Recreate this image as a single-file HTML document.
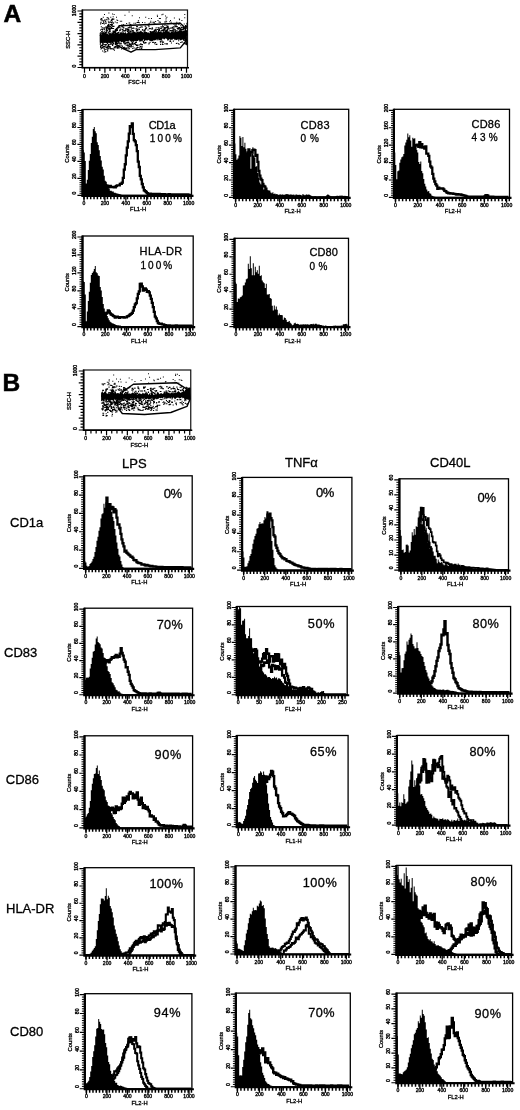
<!DOCTYPE html>
<html lang="en">
<head>
<meta charset="utf-8">
<title>Figure</title>
<style>
html,body{margin:0;padding:0;background:#fff;}
body{width:520px;height:1110px;overflow:hidden;font-family:"Liberation Sans",sans-serif;}
svg{display:block;filter:blur(0.35px);}
svg text{font-family:"Liberation Sans",sans-serif;fill:#000;stroke:#000;stroke-width:0.25px;}
.t{font-size:5.1px;text-anchor:middle;stroke-width:0.35px;}
.u{font-size:5.8px;text-anchor:middle;stroke-width:0.3px;}
.l{text-anchor:start;stroke-width:0.3px;}
</style>
</head>
<body>
<svg width="520" height="1110" viewBox="0 0 520 1110">
<rect width="520" height="1110" fill="#fff"/>
<rect x="82.5" y="10" width="105" height="57.5" fill="#fff" stroke="#111" stroke-width="1.2"/>
<path d="M82.3 9.5V67.8H189" fill="none" stroke="#000" stroke-width="1.6"/>
<path d="M84.5 67.5v5.2M89.6 67.5v3.6M94.7 67.5v3.6M99.8 67.5v3.6M104.9 67.5v5.2M110 67.5v3.6M115.1 67.5v3.6M120.2 67.5v3.6M125.3 67.5v5.2M130.4 67.5v3.6M135.5 67.5v3.6M140.6 67.5v3.6M145.7 67.5v5.2M150.8 67.5v3.6M155.9 67.5v3.6M161 67.5v3.6M166.1 67.5v5.2M171.2 67.5v3.6M176.3 67.5v3.6M181.4 67.5v3.6M186.5 67.5v5.2M82.5 67.5h-5M82.5 64.67h-3.2M82.5 61.85h-3.2M82.5 59.02h-3.2M82.5 56.2h-5M82.5 53.38h-3.2M82.5 50.55h-3.2M82.5 47.73h-3.2M82.5 44.9h-5M82.5 42.08h-3.2M82.5 39.25h-3.2M82.5 36.42h-3.2M82.5 33.6h-5M82.5 30.77h-3.2M82.5 27.95h-3.2M82.5 25.12h-3.2M82.5 22.3h-5M82.5 19.48h-3.2M82.5 16.65h-3.2M82.5 13.83h-3.2M82.5 11h-5" stroke="#000" stroke-width="1.2" fill="none"/>
<text x="84.5" y="77.7" class="t">0</text>
<text x="104.9" y="77.7" class="t">200</text>
<text x="125.3" y="77.7" class="t">400</text>
<text x="145.7" y="77.7" class="t">600</text>
<text x="166.1" y="77.7" class="t">800</text>
<text x="186.5" y="77.7" class="t">1000</text>
<text x="137" y="84.1" class="u">FSC-H</text>
<text transform="translate(75.5 66) rotate(-90)" class="t">0</text>
<text transform="translate(75.5 10.5) rotate(-90)" class="t">1000</text>
<text transform="translate(69.7 39.75) rotate(-90)" class="u">SSC-H</text>
<clipPath id="s101"><rect x="83.5" y="11" width="104" height="55.5"/></clipPath>
<g clip-path="url(#s101)">
<path d="M99.7 32.8L100.5 32.95L101.3 34.71L102.1 32.79L102.9 32.11L103.7 33.31L104.5 33.18L105.3 33.54L106.1 32.78L106.9 34.06L107.7 33.43L108.5 34.78L109.3 33.36L110.1 33.12L110.9 33.92L111.7 33.52L112.5 32.34L113.3 33.43L114.1 32.37L114.9 33.69L115.7 32.4L116.5 33.05L117.3 32.22L118.1 33L118.9 33.74L119.7 33.56L120.5 32.27L121.3 31.76L122.1 33.2L122.9 32.2L123.7 32.13L124.5 33.15L125.3 31.78L126.1 33.21L126.9 33.39L127.7 32.63L128.5 31.96L129.3 32.43L130.1 33.64L130.9 32.7L131.7 33.43L132.5 32.57L133.3 32.61L134.1 32.65L134.9 32.59L135.7 32.7L136.5 33.08L137.3 33.31L138.1 32.34L138.9 31.76L139.7 31.95L140.5 31.73L141.3 30.93L142.1 32.35L142.9 31.78L143.7 33.59L144.5 31.87L145.3 31.24L146.1 32.5L146.9 32.19L147.7 32.79L148.5 32.26L149.3 33.45L150.1 31.6L150.9 32.24L151.7 31.73L152.5 31.67L153.3 30.81L154.1 32.4L154.9 30.77L155.7 32.18L156.5 32.21L157.3 32.15L158.1 30.72L158.9 32.39L159.7 31.29L160.5 32.04L161.3 31.47L162.1 33.09L162.9 31.28L163.7 31.5L164.5 31.84L165.3 30.57L166.1 31.24L166.9 31.39L167.7 31.7L168.5 31.24L169.3 32.73L170.1 32.81L170.9 32.28L171.7 31.36L172.5 31.81L173.3 32.81L174.1 32.55L174.9 31.75L175.7 30.86L176.5 32.03L177.3 31.74L178.1 31.22L178.9 31.03L179.7 30.15L180.5 30.03L181.3 30.14L182.1 31.22L182.9 31.14L183.7 30.45L184.5 30.76L185.3 31.9L186.1 30.03L186.9 30.54L186.9 40.72L186.1 40.4L185.3 40.18L184.5 38.92L183.7 40.72L182.9 39.7L182.1 39.55L181.3 40.19L180.5 40.44L179.7 39.4L178.9 39.78L178.1 39.76L177.3 39.57L176.5 40.31L175.7 39.56L174.9 40.55L174.1 38.89L173.3 38.75L172.5 39.73L171.7 39.76L170.9 39.64L170.1 39.23L169.3 39.08L168.5 40.36L167.7 41L166.9 38.79L166.1 38.7L165.3 38.23L164.5 39.59L163.7 39.17L162.9 38.19L162.1 39.42L161.3 40.59L160.5 40.17L159.7 39.96L158.9 39.76L158.1 38.69L157.3 39.26L156.5 39.15L155.7 40L154.9 40.55L154.1 40.36L153.3 40.54L152.5 40.72L151.7 41.57L150.9 40.65L150.1 40.95L149.3 40.43L148.5 39.82L147.7 40.4L146.9 40.22L146.1 40.61L145.3 40.1L144.5 40.94L143.7 39L142.9 40.14L142.1 41.88L141.3 40.83L140.5 41.38L139.7 42.01L138.9 39.68L138.1 41.07L137.3 40.88L136.5 40.89L135.7 41.39L134.9 40.73L134.1 41.56L133.3 42.02L132.5 41.23L131.7 43L130.9 40.7L130.1 41.63L129.3 39.89L128.5 41.17L127.7 41.16L126.9 41.4L126.1 40.97L125.3 41.72L124.5 42.48L123.7 43.94L122.9 42.08L122.1 41.87L121.3 42.28L120.5 41.31L119.7 41.54L118.9 42.05L118.1 43.09L117.3 41.74L116.5 42.85L115.7 42.88L114.9 41.55L114.1 41.87L113.3 41.74L112.5 42.13L111.7 41.5L110.9 41.9L110.1 43.02L109.3 41.96L108.5 42.95L107.7 43L106.9 42.73L106.1 42.95L105.3 42.78L104.5 43.11L103.7 42.23L102.9 43.25L102.1 43.75L101.3 42.5L100.5 44.19L99.7 41.97Z" fill="#000"/>
<path d="M179.07 19.24h1v1h-1zM128.6 11.51h1v1h-1zM102.79 16.69h1v1h-1zM140.37 25.43h1v1h-1zM117.23 20.12h1v1h-1zM137.76 20.56h1v1h-1zM179.61 23.02h1v1h-1zM165.03 15.41h1v1h-1zM116.41 19.39h1v1h-1zM145.21 16.75h1v1h-1zM102.88 20.31h1v1h-1zM150.97 17.95h1v1h-1zM156.95 16.01h1v1h-1zM131.76 15.19h1v1h-1zM168.13 23.11h1v1h-1zM184.25 17.33h1v1h-1zM173.09 23.49h1v1h-1zM107.87 20.63h1v1h-1zM156.87 14.66h1v1h-1zM103.84 23.54h1v1h-1zM181.4 20.05h1v1h-1zM100.22 19.29h1v1h-1zM110.79 25.05h1v1h-1zM178.84 18.47h1v1h-1zM116.03 16.82h1v1h-1zM162.52 13.73h1v1h-1zM123.19 24.08h1v1h-1zM158.85 18.06h1v1h-1zM124.47 14.69h1v1h-1zM144.4 22.24h1v1h-1zM141.96 21.93h1v1h-1zM173.87 17.38h1v1h-1zM104.02 14.04h1v1h-1zM100.92 18.04h1v1h-1zM159.88 17.99h1v1h-1zM153.6 23.37h1v1h-1zM111.73 21.24h1v1h-1zM111.73 18.17h1v1h-1zM138.07 20.36h1v1h-1zM165.49 19.58h1v1h-1zM108.39 12.56h1v1h-1zM139.03 17.29h1v1h-1zM170.04 19.93h1v1h-1zM106.58 17.32h1v1h-1zM167.44 23.18h1v1h-1zM161.42 14.34h1v1h-1zM143.85 24.07h1v1h-1zM165.61 17.63h1v1h-1zM178.4 23.96h1v1h-1zM150.25 20.77h1v1h-1zM101.09 18.83h1v1h-1zM145.5 24.07h1v1h-1zM148.37 18.04h1v1h-1zM175.58 23.03h1v1h-1zM184.27 14.09h1v1h-1zM107.51 17.32h1v1h-1zM112.07 13.42h1v1h-1zM110.27 16.82h1v1h-1zM112.68 16.27h1v1h-1zM112.08 19h1v1h-1zM113.64 13.95h1v1h-1zM114.73 21.59h1v1h-1zM169.31 21.17h1v1h-1zM157.5 20.1h1v1h-1zM100.61 18.19h1v1h-1zM119.81 20.67h1v1h-1zM176.26 21.75h1v1h-1zM178.28 23.3h1v1h-1zM121.16 20.83h1v1h-1zM166.45 16.86h1v1h-1zM150.7 28.52h1.76v1.1h-1.76zM133.46 27.63h1.1v1.1h-1.1zM125.55 28.06h1.1v1.1h-1.1zM185.35 27.14h1.1v1.1h-1.1zM162.38 26.08h1.1v1.1h-1.1zM146.04 31.93h1.1v1.1h-1.1zM121.72 29.21h1.76v1.1h-1.76zM118.11 26.75h1.1v1.1h-1.1zM178.77 31.78h1.1v1.1h-1.1zM176.68 26.08h1.1v1.1h-1.1zM153.97 29.61h1.76v1.1h-1.76zM135.33 32.64h1.76v1.1h-1.76zM130.79 26.59h1.1v1.1h-1.1zM117.69 32.44h1.76v1.1h-1.76zM171.92 31.63h1.1v1.1h-1.1zM179.66 28.78h1.76v1.1h-1.76zM143.96 31.73h1.76v1.1h-1.76zM174.97 31.02h1.1v1.1h-1.1zM161.11 27.67h1.1v1.1h-1.1zM114.86 29.57h1.76v1.1h-1.76zM158.39 28.23h1.1v1.1h-1.1zM127.85 29.03h1.1v1.1h-1.1zM130.85 32.6h1.76v1.1h-1.76zM155.74 29.51h1.1v1.1h-1.1zM131.82 30.11h1.1v1.1h-1.1zM104.82 31.7h1.1v1.1h-1.1zM132.86 27.61h1.1v1.1h-1.1zM115 29.86h1.1v1.1h-1.1zM145.05 28.05h1.76v1.1h-1.76zM108.71 31.12h1.1v1.1h-1.1zM160.46 26.2h1.1v1.1h-1.1zM153.34 30.82h1.76v1.1h-1.76zM124.52 30.1h1.76v1.1h-1.76zM112.48 30.84h1.76v1.1h-1.76zM168.35 27.63h1.1v1.1h-1.1zM101.78 28.67h1.1v1.1h-1.1zM120.35 28.38h1.1v1.1h-1.1zM106.24 30.91h1.1v1.1h-1.1zM106.84 29.88h1.1v1.1h-1.1zM130.13 31.28h1.1v1.1h-1.1zM161.4 29.81h1.1v1.1h-1.1zM155.23 28.87h1.1v1.1h-1.1zM129.76 26.71h1.1v1.1h-1.1zM133.71 32.83h1.76v1.1h-1.76zM136.17 30.14h1.1v1.1h-1.1zM126.66 29.38h1.76v1.1h-1.76zM106.2 27.43h1.1v1.1h-1.1zM119.48 27.15h1.1v1.1h-1.1zM145.42 27.16h1.76v1.1h-1.76zM151.73 27.36h1.1v1.1h-1.1zM171.3 32.91h1.1v1.1h-1.1zM106.35 27.15h1.1v1.1h-1.1zM129.19 33.06h1.1v1.1h-1.1zM107.25 27.44h1.76v1.1h-1.76zM153.82 31.12h1.1v1.1h-1.1zM103.3 32.74h1.76v1.1h-1.76zM115.8 32.95h1.76v1.1h-1.76zM156.89 28.92h1.76v1.1h-1.76zM114.56 30.77h1.76v1.1h-1.76zM173.1 26.32h1.76v1.1h-1.76zM117.65 27.4h1.1v1.1h-1.1zM163.77 27.09h1.1v1.1h-1.1zM133.09 31.91h1.76v1.1h-1.76zM128.74 29.6h1.1v1.1h-1.1zM166.89 29.7h1.1v1.1h-1.1zM112.8 30.69h1.76v1.1h-1.76zM158.42 32.14h1.76v1.1h-1.76zM165.28 29.79h1.76v1.1h-1.76zM139.71 26.89h1.1v1.1h-1.1zM158.51 27.32h1.1v1.1h-1.1zM161.42 26.4h1.76v1.1h-1.76zM155.82 31.15h1.1v1.1h-1.1zM126.94 28.4h1.1v1.1h-1.1zM106.96 26.35h1.1v1.1h-1.1zM153.41 30.61h1.1v1.1h-1.1zM174.21 29.22h1.76v1.1h-1.76zM174.45 31.52h1.1v1.1h-1.1zM127.64 27.28h1.76v1.1h-1.76zM168.66 32.19h1.1v1.1h-1.1zM152.43 31.75h1.1v1.1h-1.1zM110.3 26.49h1.1v1.1h-1.1zM184.92 31.16h1.76v1.1h-1.76zM168.92 32.55h1.1v1.1h-1.1zM155.41 30.51h1.1v1.1h-1.1zM178.27 26.93h1.76v1.1h-1.76zM109.38 29.14h1.1v1.1h-1.1zM166.95 26.81h1.1v1.1h-1.1zM128.6 27.11h1.1v1.1h-1.1zM171.09 30.16h1.76v1.1h-1.76zM182.92 28.31h1.1v1.1h-1.1zM115.71 29.2h1.76v1.1h-1.76zM121.75 26.26h1.76v1.1h-1.76zM171.33 27.41h1.1v1.1h-1.1zM115.73 29.45h1.76v1.1h-1.76zM177.94 28.08h1.1v1.1h-1.1zM184.9 28.55h1.1v1.1h-1.1zM136.7 28.98h1.1v1.1h-1.1zM152.06 28.44h1.1v1.1h-1.1zM182.93 27.3h1.1v1.1h-1.1zM108.76 31.44h1.76v1.1h-1.76zM160.54 30.24h1.1v1.1h-1.1zM115.31 30.67h1.1v1.1h-1.1zM121.82 31.52h1.1v1.1h-1.1zM101.44 32.04h1.1v1.1h-1.1zM180.94 29.05h1.76v1.1h-1.76zM109.25 33.05h1.1v1.1h-1.1zM140.26 31.27h1.1v1.1h-1.1zM158.05 29.87h1.76v1.1h-1.76zM159.73 31.62h1.76v1.1h-1.76zM105.52 26.76h1.1v1.1h-1.1zM162.51 30.13h1.76v1.1h-1.76zM100.05 32.37h1.1v1.1h-1.1zM121.37 26.12h1.1v1.1h-1.1zM167.33 31.66h1.1v1.1h-1.1zM105.63 29.53h1.1v1.1h-1.1zM181.44 28.97h1.1v1.1h-1.1zM183.66 27.98h1.76v1.1h-1.76zM186.11 30.6h1.76v1.1h-1.76zM177.01 30.45h1.1v1.1h-1.1zM160.09 33.09h1.1v1.1h-1.1zM183.92 30.85h1.1v1.1h-1.1zM177.51 28.64h1.1v1.1h-1.1zM144.35 31.82h1.1v1.1h-1.1zM102.01 29.11h1.1v1.1h-1.1zM182.57 28.66h1.76v1.1h-1.76zM150.61 31.17h1.1v1.1h-1.1zM111.31 32.62h1.76v1.1h-1.76zM166.74 28.21h1.76v1.1h-1.76zM169.86 30.04h1.76v1.1h-1.76zM175.23 29.95h1.1v1.1h-1.1zM165.27 29.42h1.1v1.1h-1.1zM126.62 29.74h1.1v1.1h-1.1zM147.45 29.41h1.1v1.1h-1.1zM132.59 30.45h1.1v1.1h-1.1zM165.56 32.94h1.1v1.1h-1.1zM178.47 27.93h1.1v1.1h-1.1zM132.62 29.91h1.1v1.1h-1.1zM171.97 29.72h1.76v1.1h-1.76zM149.51 30.92h1.1v1.1h-1.1zM136.84 28.64h1.76v1.1h-1.76zM144.73 28.83h1.1v1.1h-1.1zM142.2 33.19h1.76v1.1h-1.76zM162.6 29.82h1.1v1.1h-1.1zM181.02 26.84h1.1v1.1h-1.1zM179.74 27.61h1.1v1.1h-1.1zM128.21 27.43h1.1v1.1h-1.1zM164.9 27.6h1.1v1.1h-1.1zM155.13 32.95h1.1v1.1h-1.1zM176.75 27.83h1.1v1.1h-1.1zM106.11 28.59h1.1v1.1h-1.1zM149.95 31.6h1.1v1.1h-1.1zM112.53 30.59h1.1v1.1h-1.1zM173.27 29.45h1.76v1.1h-1.76zM166.57 26.97h1.76v1.1h-1.76zM103.78 27.48h1.76v1.1h-1.76zM114.64 31.06h1.76v1.1h-1.76zM185.04 29.61h1.1v1.1h-1.1zM173.24 31.64h1.1v1.1h-1.1zM155.63 27.26h1.1v1.1h-1.1zM119.15 29.58h1.76v1.1h-1.76zM155.16 29.45h1.1v1.1h-1.1zM127.67 31.62h1.76v1.1h-1.76zM173.24 30.64h1.1v1.1h-1.1zM130.01 30.53h1.76v1.1h-1.76zM122.59 30.34h1.76v1.1h-1.76zM142.18 29h1.1v1.1h-1.1zM154.99 29.22h1.1v1.1h-1.1zM180.02 31.91h1.76v1.1h-1.76zM138.83 28.9h1.1v1.1h-1.1zM185.9 26.19h1.1v1.1h-1.1zM101.23 33.1h1.1v1.1h-1.1zM118.35 31.79h1.1v1.1h-1.1zM151.99 31.33h1.76v1.1h-1.76zM119.22 30.27h1.1v1.1h-1.1zM178.87 29.61h1.1v1.1h-1.1zM163.2 31.43h1.1v1.1h-1.1zM157.48 27.15h1.1v1.1h-1.1zM103.9 33.19h1.76v1.1h-1.76zM130.69 28.61h1.1v1.1h-1.1zM108.16 28.6h1.76v1.1h-1.76zM177.91 27.58h1.76v1.1h-1.76zM116.11 29.11h1.76v1.1h-1.76zM181.59 26.8h1.1v1.1h-1.1zM183.91 32.16h1.1v1.1h-1.1zM165.54 31.76h1.76v1.1h-1.76zM184.63 30.41h1.1v1.1h-1.1zM117.55 32.01h1.76v1.1h-1.76zM179.3 31.37h1.1v1.1h-1.1zM108.01 27.25h1.76v1.1h-1.76zM182.96 32.84h1.1v1.1h-1.1zM116.11 28.34h1.1v1.1h-1.1zM133.68 31.82h1.76v1.1h-1.76zM171.86 26.75h1.76v1.1h-1.76zM103.72 31.19h1.1v1.1h-1.1zM164.95 31.57h1.1v1.1h-1.1zM171.73 31.48h1.76v1.1h-1.76zM105.42 26.57h1.76v1.1h-1.76zM172.6 28.51h1.1v1.1h-1.1zM136.16 31.43h1.1v1.1h-1.1zM129.08 31.14h1.1v1.1h-1.1zM164.52 27.3h1.1v1.1h-1.1zM167 26.26h1.76v1.1h-1.76zM161.45 29.69h1.1v1.1h-1.1zM165.99 30.67h1.76v1.1h-1.76zM155.3 31.87h1.1v1.1h-1.1zM124.97 28.55h1.76v1.1h-1.76zM109.14 30.49h1.76v1.1h-1.76zM108.83 28.91h1.1v1.1h-1.1zM130.73 32.64h1.1v1.1h-1.1zM116.93 29.94h1.1v1.1h-1.1zM100.96 28.77h1.76v1.1h-1.76zM109.35 30.85h1.1v1.1h-1.1zM155.61 30.73h1.1v1.1h-1.1zM141.11 32.71h1.1v1.1h-1.1zM122.98 30.28h1.76v1.1h-1.76zM163.57 28.1h1.76v1.1h-1.76zM144.41 29.48h1.1v1.1h-1.1zM167.68 26.6h1.1v1.1h-1.1zM186.35 26.01h1.1v1.1h-1.1zM122.77 30.38h1.1v1.1h-1.1zM171.18 27.38h1.76v1.1h-1.76zM168.01 28.28h1.76v1.1h-1.76zM175.06 26.04h1.76v1.1h-1.76zM168.72 30.51h1.76v1.1h-1.76zM136.9 31.89h1.1v1.1h-1.1zM127.89 32.3h1.76v1.1h-1.76zM126.89 30.89h1.76v1.1h-1.76zM182.51 31.1h1.1v1.1h-1.1zM127.76 29.9h1.1v1.1h-1.1zM148.78 28.14h1.1v1.1h-1.1zM99.97 29.46h1.1v1.1h-1.1zM182.78 26.51h1.1v1.1h-1.1zM131.63 27.79h1.1v1.1h-1.1zM115.89 29.78h1.1v1.1h-1.1zM158.96 28.82h1.1v1.1h-1.1zM138.55 27.46h1.1v1.1h-1.1zM160.19 27.84h1.1v1.1h-1.1zM110.37 27.72h1.1v1.1h-1.1zM172.77 28.19h1.76v1.1h-1.76zM121.75 28.93h1.76v1.1h-1.76zM162.3 26.47h1.1v1.1h-1.1zM111.81 32.51h1.76v1.1h-1.76zM129.27 26.36h1.1v1.1h-1.1zM173.3 31.89h1.1v1.1h-1.1zM161.76 29.62h1.76v1.1h-1.76zM124.08 30.28h1.76v1.1h-1.76zM181.19 29.68h1.1v1.1h-1.1zM183.19 28.41h1.1v1.1h-1.1zM170.13 27.58h1.1v1.1h-1.1zM143.43 31.61h1.76v1.1h-1.76zM182.62 29.1h1.1v1.1h-1.1zM163.93 28.56h1.1v1.1h-1.1zM143.57 32.06h1.76v1.1h-1.76zM185.07 27.76h1.1v1.1h-1.1zM157.96 30.98h1.1v1.1h-1.1zM141.79 29.54h1.1v1.1h-1.1zM177.31 28.33h1.1v1.1h-1.1zM166.96 28.65h1.1v1.1h-1.1zM106.45 29.12h1.1v1.1h-1.1zM149.01 27.89h1.76v1.1h-1.76zM150.33 30.95h1.1v1.1h-1.1zM165.43 27.1h1.1v1.1h-1.1zM141.15 26.52h1.76v1.1h-1.76zM163.43 29.56h1.76v1.1h-1.76zM105.48 26.28h1.1v1.1h-1.1zM143.95 29.54h1.76v1.1h-1.76zM129.16 32.74h1.76v1.1h-1.76zM105.92 28h1.1v1.1h-1.1zM164.56 32.41h1.1v1.1h-1.1zM163.22 28.86h1.1v1.1h-1.1zM152.39 31.23h1.1v1.1h-1.1zM148.39 26.04h1.1v1.1h-1.1zM151.66 33.07h1.1v1.1h-1.1zM157.98 31.98h1.76v1.1h-1.76zM136.15 26.11h1.76v1.1h-1.76zM166.83 26.66h1.1v1.1h-1.1zM135.47 28.31h1.76v1.1h-1.76zM113.04 32.02h1.76v1.1h-1.76zM163.28 28.87h1.76v1.1h-1.76zM180.54 28.42h1.1v1.1h-1.1zM158.31 29.9h1.76v1.1h-1.76zM110.01 28.49h1.1v1.1h-1.1zM137.46 30.45h1.1v1.1h-1.1zM112.34 27.89h1.76v1.1h-1.76zM176.07 30.42h1.1v1.1h-1.1zM102.98 32.96h1.76v1.1h-1.76zM139.63 30.76h1.1v1.1h-1.1zM179.94 33.18h1.1v1.1h-1.1zM107.84 32.75h1.1v1.1h-1.1zM132.22 31.46h1.76v1.1h-1.76zM113.33 31.95h1.76v1.1h-1.76zM136.54 32.83h1.1v1.1h-1.1zM101.94 30.72h1.1v1.1h-1.1zM111.1 27.99h1.1v1.1h-1.1zM143.19 30.19h1.76v1.1h-1.76zM122.64 27.36h1.76v1.1h-1.76zM135.96 29.97h1.76v1.1h-1.76zM162.83 26.28h1.1v1.1h-1.1zM118.63 26.68h1.1v1.1h-1.1zM181.48 28.61h1.1v1.1h-1.1zM125.65 41.89h1.1v1.1h-1.1zM128.43 44.18h1.1v1.1h-1.1zM129.23 44.22h1.1v1.1h-1.1zM115.61 42.83h1.1v1.1h-1.1zM103.94 46.52h1.1v1.1h-1.1zM119.37 43.07h1.1v1.1h-1.1zM135.73 44.66h1.1v1.1h-1.1zM116.25 46.74h1.1v1.1h-1.1zM120.23 42.77h1.76v1.1h-1.76zM116.86 47.67h1.1v1.1h-1.1zM140.62 47.73h1.1v1.1h-1.1zM125.78 48.48h1.1v1.1h-1.1zM116.96 42.94h1.1v1.1h-1.1zM99.75 43.72h1.1v1.1h-1.1zM116.48 43.5h1.1v1.1h-1.1zM128.65 43.22h1.76v1.1h-1.76zM105.83 42.15h1.76v1.1h-1.76zM129.79 43.4h1.1v1.1h-1.1zM137.04 45.22h1.1v1.1h-1.1zM109.3 47.06h1.1v1.1h-1.1zM109.98 48.17h1.1v1.1h-1.1zM126.59 42.73h1.1v1.1h-1.1zM124.08 43.34h1.76v1.1h-1.76zM123.93 47.54h1.76v1.1h-1.76zM126.81 44.33h1.1v1.1h-1.1zM135.45 47.98h1.1v1.1h-1.1zM125.67 47.38h1.76v1.1h-1.76zM126.91 41.75h1.1v1.1h-1.1zM121.78 45.44h1.1v1.1h-1.1zM109.76 42.05h1.1v1.1h-1.1zM117.74 42.34h1.76v1.1h-1.76zM115.87 41.59h1.1v1.1h-1.1zM134.87 43.92h1.76v1.1h-1.76zM128.78 45.68h1.76v1.1h-1.76zM126.96 41.83h1.76v1.1h-1.76zM135.71 47.41h1.76v1.1h-1.76zM121.7 45.83h1.1v1.1h-1.1zM117.29 44.75h1.1v1.1h-1.1zM121.03 48.46h1.1v1.1h-1.1zM141.64 46.3h1.1v1.1h-1.1zM112.01 44.15h1.1v1.1h-1.1zM116.63 47.64h1.76v1.1h-1.76zM125.66 44.64h1.1v1.1h-1.1zM140.05 43.57h1.1v1.1h-1.1zM113.27 48.33h1.1v1.1h-1.1zM116.27 46.34h1.1v1.1h-1.1zM103.85 46.32h1.76v1.1h-1.76zM109.98 43.64h1.76v1.1h-1.76zM101.98 44.41h1.1v1.1h-1.1zM120.48 44.56h1.1v1.1h-1.1zM137.3 44.63h1.1v1.1h-1.1zM116.85 46.98h1.76v1.1h-1.76zM124.56 48.48h1.1v1.1h-1.1zM140.59 48.28h1.76v1.1h-1.76zM117.91 45.14h1.1v1.1h-1.1zM107.18 45.87h1.76v1.1h-1.76zM102.79 45.87h1.1v1.1h-1.1zM104.43 46.03h1.1v1.1h-1.1zM130.94 45.34h1.1v1.1h-1.1zM127.53 46.56h1.76v1.1h-1.76zM99.8 42.43h1.1v1.1h-1.1zM131.06 43.18h1.1v1.1h-1.1zM116.81 46.16h1.1v1.1h-1.1zM116.07 42.75h1.1v1.1h-1.1zM139.23 44.33h1.1v1.1h-1.1zM102.01 47.05h1.1v1.1h-1.1zM126.95 45.23h1.1v1.1h-1.1zM130.75 45.28h1.1v1.1h-1.1zM141.22 44.09h1.76v1.1h-1.76zM128.53 42.59h1.1v1.1h-1.1zM111.72 43.16h1.1v1.1h-1.1zM103.13 41.71h1.76v1.1h-1.76zM101.19 47.93h1.1v1.1h-1.1zM133.38 42.83h1.1v1.1h-1.1zM139.68 46.09h1.76v1.1h-1.76zM109.48 46.84h1.1v1.1h-1.1zM100.38 48.44h1.1v1.1h-1.1zM104.02 48.17h1.1v1.1h-1.1zM141.38 44.25h1.1v1.1h-1.1zM105.71 46.92h1.1v1.1h-1.1zM116.56 43.34h1.1v1.1h-1.1zM111.25 41.73h1.1v1.1h-1.1zM116.77 42.42h1.1v1.1h-1.1zM118.54 47.3h1.1v1.1h-1.1zM102 42.06h1.1v1.1h-1.1zM100.59 44.84h1.76v1.1h-1.76zM140.38 43.48h1.1v1.1h-1.1zM117.91 45.42h1.1v1.1h-1.1zM133.97 42.91h1.1v1.1h-1.1zM131.94 42.6h1.1v1.1h-1.1zM132.4 46.05h1.1v1.1h-1.1zM118.36 42.45h1.1v1.1h-1.1zM109.71 42.38h1.76v1.1h-1.76zM127.44 48.42h1.1v1.1h-1.1zM137.49 44.58h1.1v1.1h-1.1zM129.08 44.39h1.76v1.1h-1.76zM107.66 46.54h1.1v1.1h-1.1zM122.77 47h1.1v1.1h-1.1zM140.57 47.42h1.1v1.1h-1.1zM128.03 41.58h1.1v1.1h-1.1zM107.13 43.12h1.1v1.1h-1.1zM105.78 44h1.1v1.1h-1.1zM138.9 47.47h1.1v1.1h-1.1zM123.2 48.21h1.76v1.1h-1.76zM133.64 47.51h1.1v1.1h-1.1zM136.84 46.94h1.76v1.1h-1.76zM132.18 47.88h1.1v1.1h-1.1zM130.72 44.3h1.1v1.1h-1.1zM122.72 48.02h1.1v1.1h-1.1zM102.03 47.15h1.1v1.1h-1.1zM117.25 45.52h1.1v1.1h-1.1zM128.65 48.05h1.1v1.1h-1.1zM112.33 41.76h1.1v1.1h-1.1zM133.51 47.48h1.1v1.1h-1.1zM114.72 45.94h1.76v1.1h-1.76zM127.06 44.95h1.76v1.1h-1.76zM116.73 42.88h1.76v1.1h-1.76zM105.66 41.71h1.76v1.1h-1.76zM103.43 48.21h1.1v1.1h-1.1zM103.67 43.92h1.1v1.1h-1.1zM123.15 47.28h1.76v1.1h-1.76zM134.16 43.34h1.76v1.1h-1.76zM104.04 46h1.1v1.1h-1.1zM132.73 44.18h1.1v1.1h-1.1zM109.68 47.13h1.1v1.1h-1.1zM114.1 46.5h1.1v1.1h-1.1zM130.66 46.36h1.1v1.1h-1.1zM134.89 41.98h1.76v1.1h-1.76zM124.54 43.09h1.76v1.1h-1.76zM127.36 41.67h1.1v1.1h-1.1zM140.37 43.21h1.1v1.1h-1.1zM124.29 42.34h1.1v1.1h-1.1zM136.86 44.5h1.76v1.1h-1.76zM107.06 42.97h1.1v1.1h-1.1zM118.45 42.41h1.76v1.1h-1.76zM119.04 44.67h1.1v1.1h-1.1zM114.26 47.2h1.76v1.1h-1.76zM107.36 47.46h1.1v1.1h-1.1zM137.44 44.48h1.1v1.1h-1.1zM136.77 47.32h1.1v1.1h-1.1zM135.9 41.57h1.1v1.1h-1.1zM137.51 46.96h1.1v1.1h-1.1zM123.57 47.76h1.1v1.1h-1.1zM136.1 44.97h1.1v1.1h-1.1zM129.47 46.25h1.1v1.1h-1.1zM123.66 46.74h1.1v1.1h-1.1zM132.11 41.87h1.1v1.1h-1.1zM106.7 47.57h1.76v1.1h-1.76zM128.48 46.13h1.1v1.1h-1.1zM131.99 43.69h1.1v1.1h-1.1zM175.86 42.93h1.1v1.1h-1.1zM159.98 43.82h1.1v1.1h-1.1zM161.8 43.89h1.76v1.1h-1.76zM183.3 39.41h1.76v1.1h-1.76zM160.98 40.42h1.76v1.1h-1.76zM156.48 39.26h1.76v1.1h-1.76zM142.88 40.69h1.1v1.1h-1.1zM144 39.72h1.1v1.1h-1.1zM151.94 39.71h1.1v1.1h-1.1zM169.44 40.86h1.76v1.1h-1.76zM177.99 43.18h1.1v1.1h-1.1zM148.34 43.43h1.1v1.1h-1.1zM178.59 43.65h1.1v1.1h-1.1zM172.78 40.54h1.1v1.1h-1.1zM142.94 41.78h1.1v1.1h-1.1zM186.27 39.91h1.1v1.1h-1.1zM165.76 43.31h1.1v1.1h-1.1zM154.38 41.88h1.76v1.1h-1.76zM144.07 40.12h1.1v1.1h-1.1zM159.77 41.14h1.1v1.1h-1.1zM183.52 42.6h1.76v1.1h-1.76zM181.42 41.74h1.1v1.1h-1.1zM185.03 39.1h1.76v1.1h-1.76zM180.15 42.02h1.1v1.1h-1.1zM154.19 43.14h1.1v1.1h-1.1zM148.61 42.57h1.1v1.1h-1.1zM181.6 41.34h1.1v1.1h-1.1zM160.17 40.66h1.1v1.1h-1.1zM161.93 42.5h1.1v1.1h-1.1zM164.36 43.23h1.1v1.1h-1.1zM183.56 39.95h1.1v1.1h-1.1zM158.62 39.11h1.1v1.1h-1.1zM144.8 42.04h1.76v1.1h-1.76zM178.09 40.18h1.1v1.1h-1.1zM170.92 42.44h1.1v1.1h-1.1zM155.61 43.81h1.76v1.1h-1.76zM160.16 41.75h1.1v1.1h-1.1zM169.72 39.32h1.1v1.1h-1.1zM178.18 40.17h1.1v1.1h-1.1zM143.64 42.66h1.1v1.1h-1.1zM144.77 42.38h1.1v1.1h-1.1zM186.92 40.18h1.1v1.1h-1.1zM185.89 42.31h1.1v1.1h-1.1zM162.32 41.59h1.76v1.1h-1.76zM150.02 39.52h1.1v1.1h-1.1zM143.48 42.3h1.1v1.1h-1.1zM166.28 43.28h1.76v1.1h-1.76zM149.63 41.71h1.1v1.1h-1.1zM152.12 41.79h1.76v1.1h-1.76zM176.47 42.71h1.1v1.1h-1.1zM105.85 28.85h1.1v1.1h-1.1zM100.41 21.78h1.1v1.1h-1.1zM106.5 41.21h1.76v1.1h-1.76zM108.9 46.05h1.76v1.1h-1.76zM102.64 43.35h1.1v1.1h-1.1zM109.82 25.7h1.1v1.1h-1.1zM112.75 25.83h1.76v1.1h-1.76zM101.23 46.61h1.76v1.1h-1.76zM105.67 48.74h1.1v1.1h-1.1zM108.76 25.15h1.1v1.1h-1.1zM102.89 45.71h1.76v1.1h-1.76zM105.52 34.02h1.1v1.1h-1.1zM108.81 39.58h1.1v1.1h-1.1zM109.66 42.47h1.1v1.1h-1.1zM110.58 21.86h1.76v1.1h-1.76zM105.85 46.5h1.76v1.1h-1.76zM105.27 51.06h1.1v1.1h-1.1zM108.47 27.58h1.76v1.1h-1.76zM101.81 22.92h1.76v1.1h-1.76zM111.88 41.93h1.1v1.1h-1.1zM113.57 46.65h1.1v1.1h-1.1zM112.7 22.37h1.1v1.1h-1.1zM111.93 36.47h1.1v1.1h-1.1zM100.76 46.5h1.76v1.1h-1.76zM100.06 23.37h1.1v1.1h-1.1zM105.93 19.13h1.1v1.1h-1.1zM105.11 20.91h1.1v1.1h-1.1zM112.35 44.39h1.1v1.1h-1.1zM103.54 46.39h1.1v1.1h-1.1zM108.56 29.46h1.1v1.1h-1.1zM106.86 27.58h1.76v1.1h-1.76zM109.61 23.96h1.76v1.1h-1.76zM101.02 38.22h1.1v1.1h-1.1zM113.85 49.73h1.1v1.1h-1.1zM111.96 44.96h1.1v1.1h-1.1zM109.16 37.95h1.1v1.1h-1.1zM107.34 25.8h1.76v1.1h-1.76zM101.31 39.87h1.76v1.1h-1.76zM111.93 27.85h1.1v1.1h-1.1zM111.16 19.78h1.1v1.1h-1.1zM113.11 31.08h1.76v1.1h-1.76zM113.62 36.11h1.1v1.1h-1.1zM107.82 48.17h1.76v1.1h-1.76zM103.12 31.89h1.1v1.1h-1.1zM110.01 42.44h1.76v1.1h-1.76zM112.96 43.06h1.1v1.1h-1.1zM107.14 50.42h1.1v1.1h-1.1zM109.76 33.28h1.1v1.1h-1.1zM105.66 30.27h1.1v1.1h-1.1zM104.91 32.73h1.76v1.1h-1.76zM108.36 36.85h1.76v1.1h-1.76zM101.15 31.01h1.1v1.1h-1.1zM102.27 43.56h1.76v1.1h-1.76zM101 41.21h1.1v1.1h-1.1zM106.75 34.98h1.76v1.1h-1.76zM103.24 22.21h1.1v1.1h-1.1zM110.69 19.84h1.76v1.1h-1.76zM100.82 18.61h1.76v1.1h-1.76zM112.15 25.79h1.76v1.1h-1.76zM103.69 51.5h1.76v1.1h-1.76zM105.07 43.99h1.1v1.1h-1.1zM101.11 40.22h1.1v1.1h-1.1zM100.27 41.77h1.1v1.1h-1.1zM100.77 26.14h1.1v1.1h-1.1zM111.12 24.1h1.76v1.1h-1.76zM108.03 38.3h1.76v1.1h-1.76zM110.42 48.28h1.1v1.1h-1.1zM104.05 49.67h1.1v1.1h-1.1zM102.51 47.14h1.1v1.1h-1.1zM103.41 27.33h1.1v1.1h-1.1zM103.88 29.27h1.1v1.1h-1.1zM103.19 39.7h1.1v1.1h-1.1zM107.09 49.35h1.1v1.1h-1.1zM111.52 24.71h1.1v1.1h-1.1zM99.99 45.61h1.1v1.1h-1.1zM109.09 41.93h1.1v1.1h-1.1zM102.22 38.68h1.1v1.1h-1.1zM113.32 40.39h1.76v1.1h-1.76zM112.58 18.62h1.76v1.1h-1.76zM104.03 19.6h1.76v1.1h-1.76zM101.22 36.86h1.76v1.1h-1.76zM112.46 48.46h1.1v1.1h-1.1zM108.33 18.65h1.1v1.1h-1.1zM108.66 25.85h1.1v1.1h-1.1zM108.54 38.45h1.1v1.1h-1.1zM103.39 28.51h1.1v1.1h-1.1zM110.41 27.97h1.76v1.1h-1.76zM105.23 31.72h1.76v1.1h-1.76zM110.46 27.73h1.76v1.1h-1.76zM104.75 44.69h1.76v1.1h-1.76zM107.13 47.34h1.1v1.1h-1.1zM112.8 33.02h1.1v1.1h-1.1zM110.95 26.57h1.1v1.1h-1.1zM99.74 34.95h1.1v1.1h-1.1zM102.04 50.42h1.1v1.1h-1.1zM109.55 21.37h1.1v1.1h-1.1zM112.19 39.45h1.1v1.1h-1.1zM109.15 38.66h1.1v1.1h-1.1zM110.46 27.91h1.1v1.1h-1.1zM101.5 20.07h1.1v1.1h-1.1zM108.69 41.22h1.1v1.1h-1.1zM105.73 26.54h1.76v1.1h-1.76zM110.83 39.73h1.1v1.1h-1.1zM111.38 48.11h1.1v1.1h-1.1zM113.52 36.73h1.1v1.1h-1.1zM103.23 21.22h1.1v1.1h-1.1zM106.46 19.26h1.1v1.1h-1.1zM113 48.75h1.1v1.1h-1.1zM101.82 27.15h1.1v1.1h-1.1zM103.74 35.99h1.76v1.1h-1.76zM101.8 44.78h1.1v1.1h-1.1zM104.44 48.95h1.1v1.1h-1.1zM108.03 24.06h1.1v1.1h-1.1zM107.86 18.14h1.1v1.1h-1.1zM105.05 22.54h1.76v1.1h-1.76zM101.45 39.45h1.1v1.1h-1.1zM102.36 43.66h1.76v1.1h-1.76zM112.15 32.97h1.76v1.1h-1.76zM100.12 46.82h1.1v1.1h-1.1zM110.78 40.57h1.76v1.1h-1.76zM107.98 22.26h1.76v1.1h-1.76zM107.63 44.73h1.76v1.1h-1.76zM108 43.91h1.76v1.1h-1.76zM111.18 35.95h1.1v1.1h-1.1zM107.12 24.87h1.76v1.1h-1.76zM112.88 41.69h1.1v1.1h-1.1zM100.98 37.06h1.1v1.1h-1.1zM107.59 31.68h1.1v1.1h-1.1zM111.29 18.98h1.1v1.1h-1.1zM108.4 38.83h1.76v1.1h-1.76zM147.5 24.85h1v1h-1zM178.87 22.9h1v1h-1zM155.1 21.01h1v1h-1zM129.78 24.08h1v1h-1zM153.36 21.63h1.6v1h-1.6zM164.16 24.58h1.6v1h-1.6zM135.16 22.69h1v1h-1zM138.87 22.37h1v1h-1zM179.16 22.43h1v1h-1zM111.09 23.8h1v1h-1zM147.92 23.86h1v1h-1zM183.73 23.56h1v1h-1zM128.61 22.4h1.6v1h-1.6zM137.49 21.91h1.6v1h-1.6zM111.14 23.46h1v1h-1zM130.73 25.35h1v1h-1zM162.39 24.39h1v1h-1zM175.14 24.81h1.6v1h-1.6zM170.69 21.66h1v1h-1zM132.77 25.01h1v1h-1zM129.87 24.26h1.6v1h-1.6zM126.13 22.98h1v1h-1zM144.63 25.63h1.6v1h-1.6zM121.64 24.61h1v1h-1zM158.45 21.57h1.6v1h-1.6zM116.32 22.21h1.6v1h-1.6zM154.66 23.47h1v1h-1zM112.52 22.69h1.6v1h-1.6zM148.83 22.66h1v1h-1zM164.2 21.42h1.6v1h-1.6zM118.91 24.98h1.6v1h-1.6zM159.4 21.85h1.6v1h-1.6zM133.47 22.67h1v1h-1zM166.12 25.25h1v1h-1zM165.53 21.33h1.6v1h-1.6zM174.08 24.54h1v1h-1zM166.78 25.42h1.6v1h-1.6zM175.31 23.45h1.6v1h-1.6zM166.29 25.46h1v1h-1zM180.19 25.25h1v1h-1zM173.96 24.46h1v1h-1zM136.64 21.9h1v1h-1zM150.34 21.97h1v1h-1zM161.96 24.7h1v1h-1zM152.47 21.75h1v1h-1zM118.26 25.56h1v1h-1zM129.26 24.4h1v1h-1zM148.5 25.33h1v1h-1zM121.17 24.53h1.6v1h-1.6zM128.47 24.9h1.6v1h-1.6zM184.81 33.62h1.1v1.1h-1.1zM186.97 24.44h1.1v1.1h-1.1zM185.43 32.33h1.1v1.1h-1.1zM186.02 25.99h1.1v1.1h-1.1zM185.06 43.17h1.76v1.1h-1.76zM184.54 34.02h1.1v1.1h-1.1zM187.21 26.11h1.1v1.1h-1.1zM185.75 27.54h1.1v1.1h-1.1zM184.86 30.28h1.1v1.1h-1.1zM186.75 34.06h1.1v1.1h-1.1zM187.46 45.54h1.76v1.1h-1.76zM187.17 41.16h1.76v1.1h-1.76zM185.64 27.5h1.1v1.1h-1.1zM185.01 29.22h1.1v1.1h-1.1zM184.75 25.72h1.1v1.1h-1.1zM184.68 37.74h1.76v1.1h-1.76zM184.9 26.13h1.76v1.1h-1.76zM187.11 21.87h1.76v1.1h-1.76zM186.7 33.05h1.1v1.1h-1.1zM185.29 36.17h1.1v1.1h-1.1zM186.06 31.52h1.1v1.1h-1.1zM185.99 33.03h1.76v1.1h-1.76zM186.42 34.21h1.76v1.1h-1.76zM185.84 34.08h1.76v1.1h-1.76zM185.46 37.38h1.1v1.1h-1.1zM185.6 25.42h1.1v1.1h-1.1zM186.09 40.81h1.76v1.1h-1.76zM185.73 41.96h1.1v1.1h-1.1zM186.55 22.83h1.1v1.1h-1.1zM186.2 44.16h1.1v1.1h-1.1zM185.51 30.62h1.1v1.1h-1.1zM185.03 31.76h1.1v1.1h-1.1zM185.64 43.64h1.76v1.1h-1.76zM185.58 39.95h1.1v1.1h-1.1zM185.65 43.77h1.76v1.1h-1.76zM186.29 42.81h1.76v1.1h-1.76zM185.6 37.77h1.1v1.1h-1.1zM186.13 27.58h1.76v1.1h-1.76zM185.43 36.73h1.1v1.1h-1.1zM184.8 27.32h1.1v1.1h-1.1zM187.39 21.77h1.76v1.1h-1.76zM186.16 23.5h1.76v1.1h-1.76zM184.63 43.39h1.76v1.1h-1.76zM185.74 34.14h1.1v1.1h-1.1zM186.18 34.8h1.1v1.1h-1.1zM187.33 26.1h1.1v1.1h-1.1zM187.14 30.21h1.1v1.1h-1.1zM185.94 39.13h1.1v1.1h-1.1zM185.81 42.43h1.76v1.1h-1.76zM184.92 24.99h1.76v1.1h-1.76z" fill="#000"/>
</g>
<path d="M115.4 30L119.7 25.7L180.3 23.3L185.4 28L185.4 41.8L180.3 47.9L155.2 49.6L136.1 49.6L131 52.2L123.2 48.7L115.4 44.4Z" fill="none" stroke="#000" stroke-width="1.4" stroke-linejoin="round"/>
<rect x="83.75" y="370" width="107" height="60" fill="#fff" stroke="#111" stroke-width="1.2"/>
<path d="M83.55 369.5V430.3H192.25" fill="none" stroke="#000" stroke-width="1.6"/>
<path d="M85.75 430v5.2M90.95 430v3.6M96.15 430v3.6M101.35 430v3.6M106.55 430v5.2M111.75 430v3.6M116.95 430v3.6M122.15 430v3.6M127.35 430v5.2M132.55 430v3.6M137.75 430v3.6M142.95 430v3.6M148.15 430v5.2M153.35 430v3.6M158.55 430v3.6M163.75 430v3.6M168.95 430v5.2M174.15 430v3.6M179.35 430v3.6M184.55 430v3.6M189.75 430v5.2M83.75 430h-5M83.75 427.05h-3.2M83.75 424.1h-3.2M83.75 421.15h-3.2M83.75 418.2h-5M83.75 415.25h-3.2M83.75 412.3h-3.2M83.75 409.35h-3.2M83.75 406.4h-5M83.75 403.45h-3.2M83.75 400.5h-3.2M83.75 397.55h-3.2M83.75 394.6h-5M83.75 391.65h-3.2M83.75 388.7h-3.2M83.75 385.75h-3.2M83.75 382.8h-5M83.75 379.85h-3.2M83.75 376.9h-3.2M83.75 373.95h-3.2M83.75 371h-5" stroke="#000" stroke-width="1.2" fill="none"/>
<text x="85.75" y="440.2" class="t">0</text>
<text x="106.55" y="440.2" class="t">200</text>
<text x="127.35" y="440.2" class="t">400</text>
<text x="148.15" y="440.2" class="t">600</text>
<text x="168.95" y="440.2" class="t">800</text>
<text x="189.75" y="440.2" class="t">1000</text>
<text x="139.25" y="446.6" class="u">FSC-H</text>
<text transform="translate(76.75 428.5) rotate(-90)" class="t">0</text>
<text transform="translate(76.75 370.5) rotate(-90)" class="t">1000</text>
<text transform="translate(70.95 401) rotate(-90)" class="u">SSC-H</text>
<clipPath id="s202"><rect x="84.75" y="371" width="106" height="58"/></clipPath>
<g clip-path="url(#s202)">
<path d="M101.1 392.89L101.9 391.82L102.7 392.45L103.5 393.11L104.3 392.06L105.1 391.25L105.9 391.7L106.7 393.55L107.5 393.8L108.3 393.18L109.1 393.26L109.9 393.81L110.7 392L111.5 392.19L112.3 391.7L113.1 392.91L113.9 392.97L114.7 393.48L115.5 392.1L116.3 393.44L117.1 393.17L117.9 393.06L118.7 393.27L119.5 393.82L120.3 391.93L121.1 393.56L121.9 393.29L122.7 393.54L123.5 394.47L124.3 392.5L125.1 393.38L125.9 393.16L126.7 393.34L127.5 393.81L128.3 393.69L129.1 393.21L129.9 393.74L130.7 393.76L131.5 393.53L132.3 392.97L133.1 394.03L133.9 393.38L134.7 393.18L135.5 393.09L136.3 393.1L137.1 394.82L137.9 394L138.7 393.48L139.5 393.35L140.3 393.7L141.1 393.75L141.9 394.17L142.7 392.62L143.5 393.41L144.3 393.3L145.1 393.88L145.9 392.95L146.7 393.34L147.5 392.52L148.3 395.14L149.1 393.49L149.9 393.54L150.7 395.36L151.5 393.05L152.3 392L153.1 394.72L153.9 394.68L154.7 394.37L155.5 394.06L156.3 394.57L157.1 392.54L157.9 391.7L158.7 392.92L159.5 394.19L160.3 393.53L161.1 393.02L161.9 393.48L162.7 393.91L163.5 393.22L164.3 393.2L165.1 393.64L165.9 393.03L166.7 392.47L167.5 392.27L168.3 392.74L169.1 392.74L169.9 393.53L170.7 393.28L171.5 392.73L172.3 392.7L173.1 393.48L173.9 392.85L174.7 393.19L175.5 392.12L176.3 392.72L177.1 392.21L177.9 391.6L178.7 390.93L179.5 392.2L180.3 392.67L181.1 392.7L181.9 391.98L182.7 391.74L183.5 390.82L184.3 391.4L185.1 389.96L185.9 389.24L186.7 388.13L187.5 388.15L188.3 387.99L189.1 387.01L189.9 388L190.7 387.6L190.7 398.89L189.9 400.01L189.1 399.49L188.3 399.94L187.5 399.62L186.7 399.02L185.9 398.89L185.1 399.63L184.3 398.85L183.5 397.65L182.7 398.59L181.9 397.06L181.1 397.9L180.3 397.9L179.5 398.61L178.7 397.97L177.9 397.27L177.1 398L176.3 397.82L175.5 398.96L174.7 399.15L173.9 397.56L173.1 397.75L172.3 398.95L171.5 397.37L170.7 398.92L169.9 397.41L169.1 398.8L168.3 397.66L167.5 398.22L166.7 399.56L165.9 397.38L165.1 398.87L164.3 397.38L163.5 397.3L162.7 398.35L161.9 397.85L161.1 398.19L160.3 398.19L159.5 397.82L158.7 398.83L157.9 398.84L157.1 399.24L156.3 397.77L155.5 398.77L154.7 399.37L153.9 398.74L153.1 398.72L152.3 397.84L151.5 398.64L150.7 398.67L149.9 399.19L149.1 398.64L148.3 399.38L147.5 398.62L146.7 399.12L145.9 399.23L145.1 398.7L144.3 397.65L143.5 398.42L142.7 399.3L141.9 397.93L141.1 400.46L140.3 399.54L139.5 399.49L138.7 399.25L137.9 398.22L137.1 398.76L136.3 400.81L135.5 399.46L134.7 398.34L133.9 399.23L133.1 400.96L132.3 398.34L131.5 399L130.7 398.27L129.9 399.77L129.1 400.39L128.3 399.93L127.5 398.89L126.7 398.98L125.9 399.88L125.1 398.32L124.3 399.27L123.5 398.3L122.7 400.71L121.9 400.59L121.1 399.6L120.3 399.65L119.5 400.88L118.7 399.75L117.9 399.44L117.1 400.18L116.3 399.32L115.5 399.71L114.7 398.84L113.9 400.91L113.1 400.39L112.3 400.35L111.5 399.8L110.7 399.78L109.9 399.37L109.1 401.14L108.3 399.14L107.5 399.38L106.7 399.89L105.9 400.14L105.1 398.8L104.3 399.87L103.5 401.19L102.7 400.36L101.9 401.01L101.1 401.19Z" fill="#000"/>
<path d="M174.52 380.26h1v1h-1zM160.23 385.78h1v1h-1zM118.07 381.18h1v1h-1zM153.27 379.61h1v1h-1zM144.71 386.31h1v1h-1zM108.71 379.21h1v1h-1zM175.12 373.63h1v1h-1zM172.65 379.12h1v1h-1zM162.85 376.39h1v1h-1zM120.53 381.52h1v1h-1zM125.59 381.83h1v1h-1zM180.54 379.4h1v1h-1zM164.89 381.54h1v1h-1zM140.55 380.05h1v1h-1zM147.96 373.29h1v1h-1zM119.87 378.64h1v1h-1zM158.08 378.67h1v1h-1zM116.04 378.56h1v1h-1zM113.17 374.59h1v1h-1zM178.84 375.03h1v1h-1zM175.09 375.02h1v1h-1zM160.05 377.76h1v1h-1zM128.68 377.39h1v1h-1zM131.53 379.16h1v1h-1zM134.46 380.98h1v1h-1zM145.01 378.45h1v1h-1zM108.13 382.35h1v1h-1zM153.8 380.35h1v1h-1zM148.09 382.4h1v1h-1zM156.83 378.75h1v1h-1zM178.34 382.56h1v1h-1zM114.39 382.71h1v1h-1zM178.76 379.32h1v1h-1zM176.87 373.78h1v1h-1zM106.82 381.7h1v1h-1zM108.62 380.57h1v1h-1zM181.36 379.97h1v1h-1zM165.36 380.95h1v1h-1zM112.31 380.79h1v1h-1zM149.07 376.86h1v1h-1zM176.37 386.55h1.1v1.1h-1.1zM164.1 393.14h1.1v1.1h-1.1zM179.93 389.86h1.76v1.1h-1.76zM126.3 392.55h1.1v1.1h-1.1zM122.39 390.19h1.1v1.1h-1.1zM137.59 387.78h1.76v1.1h-1.76zM131.54 389.83h1.1v1.1h-1.1zM173.09 386.39h1.1v1.1h-1.1zM173.89 390.74h1.1v1.1h-1.1zM181.81 388.64h1.1v1.1h-1.1zM132.23 391.47h1.1v1.1h-1.1zM180.52 390.16h1.1v1.1h-1.1zM159.7 390.92h1.76v1.1h-1.76zM186.42 392.92h1.1v1.1h-1.1zM134.36 387.99h1.1v1.1h-1.1zM174.58 393.01h1.1v1.1h-1.1zM177.16 388.88h1.1v1.1h-1.1zM150.48 393.07h1.76v1.1h-1.76zM138.05 391.03h1.1v1.1h-1.1zM165.96 386.22h1.76v1.1h-1.76zM175.15 390.69h1.1v1.1h-1.1zM152.8 388.32h1.1v1.1h-1.1zM150.03 390.1h1.76v1.1h-1.76zM152.49 389.17h1.1v1.1h-1.1zM182.98 388.04h1.1v1.1h-1.1zM146.97 388.89h1.76v1.1h-1.76zM183.49 392.46h1.1v1.1h-1.1zM171.43 391.46h1.76v1.1h-1.76zM178.23 389.12h1.1v1.1h-1.1zM144.33 390.74h1.1v1.1h-1.1zM168.75 386.86h1.76v1.1h-1.76zM173.11 388.19h1.1v1.1h-1.1zM137.2 386.44h1.76v1.1h-1.76zM135.98 392.55h1.76v1.1h-1.76zM163.95 391.73h1.1v1.1h-1.1zM128.96 387.21h1.1v1.1h-1.1zM136.93 392.91h1.1v1.1h-1.1zM168.15 390.31h1.1v1.1h-1.1zM186.47 387h1.1v1.1h-1.1zM153.63 387.64h1.76v1.1h-1.76zM173.87 387.93h1.1v1.1h-1.1zM165.29 393.48h1.1v1.1h-1.1zM155.34 391.17h1.1v1.1h-1.1zM179.56 386.69h1.76v1.1h-1.76zM147.87 391.39h1.1v1.1h-1.1zM165.49 390.48h1.76v1.1h-1.76zM163.6 391.59h1.76v1.1h-1.76zM158.71 386.17h1.76v1.1h-1.76zM155.51 390.28h1.1v1.1h-1.1zM151.04 391.26h1.76v1.1h-1.76zM153.57 392.89h1.1v1.1h-1.1zM124.76 387.84h1.1v1.1h-1.1zM141.45 390.49h1.76v1.1h-1.76zM143.03 387.7h1.76v1.1h-1.76zM134.37 387.53h1.1v1.1h-1.1zM132.92 389.25h1.1v1.1h-1.1zM164.42 393.46h1.1v1.1h-1.1zM161.25 386.54h1.1v1.1h-1.1zM145.63 391.79h1.1v1.1h-1.1zM185.62 386.73h1.1v1.1h-1.1zM186.55 391.53h1.1v1.1h-1.1zM134.16 391.8h1.1v1.1h-1.1zM132.31 393.3h1.76v1.1h-1.76zM172.14 391.35h1.1v1.1h-1.1zM161.55 387.69h1.1v1.1h-1.1zM178.89 392.57h1.1v1.1h-1.1zM182.25 389.85h1.76v1.1h-1.76zM123.05 387.46h1.1v1.1h-1.1zM123.06 389.07h1.76v1.1h-1.76zM178.01 393.48h1.76v1.1h-1.76zM154.3 390.16h1.1v1.1h-1.1zM125.16 388.83h1.76v1.1h-1.76zM140.09 390.4h1.76v1.1h-1.76zM151.61 388.57h1.1v1.1h-1.1zM162.27 388.27h1.76v1.1h-1.76zM165.53 391.99h1.76v1.1h-1.76zM186.27 389.52h1.1v1.1h-1.1zM168.96 391.08h1.76v1.1h-1.76zM123.12 386.89h1.76v1.1h-1.76zM165.61 390.59h1.76v1.1h-1.76zM152.52 391.97h1.76v1.1h-1.76zM167.8 387.85h1.1v1.1h-1.1zM126.88 392.65h1.1v1.1h-1.1zM172.28 387.71h1.1v1.1h-1.1zM173.09 391.49h1.76v1.1h-1.76zM183.81 392.11h1.1v1.1h-1.1zM124.01 388.64h1.1v1.1h-1.1zM134.49 392.35h1.1v1.1h-1.1zM160.34 387.74h1.1v1.1h-1.1zM129.68 386.35h1.1v1.1h-1.1zM178.2 393.18h1.76v1.1h-1.76zM147.94 391.94h1.1v1.1h-1.1zM131.64 387.85h1.76v1.1h-1.76zM172.76 387.96h1.1v1.1h-1.1zM142.98 386.47h1.1v1.1h-1.1zM125.39 388.7h1.1v1.1h-1.1zM170.43 388.31h1.76v1.1h-1.76zM124.97 392.06h1.1v1.1h-1.1zM125.58 392.14h1.76v1.1h-1.76zM181.6 392.41h1.1v1.1h-1.1zM184.72 391.8h1.1v1.1h-1.1zM165.92 392.76h1.1v1.1h-1.1zM149.8 388.13h1.1v1.1h-1.1zM153.84 392.87h1.76v1.1h-1.76zM138.56 389.51h1.1v1.1h-1.1zM150.02 389.58h1.76v1.1h-1.76zM174.6 388.6h1.1v1.1h-1.1zM151 392.67h1.1v1.1h-1.1zM144.1 390.05h1.1v1.1h-1.1zM174.5 390.36h1.76v1.1h-1.76zM143 386.89h1.1v1.1h-1.1zM174.36 390.86h1.76v1.1h-1.76zM131.73 393.09h1.76v1.1h-1.76zM160.74 386.5h1.1v1.1h-1.1zM181.1 386.28h1.1v1.1h-1.1zM163.67 393.18h1.76v1.1h-1.76zM156.1 390.08h1.1v1.1h-1.1zM122.09 391.01h1.76v1.1h-1.76zM134.89 390.71h1.76v1.1h-1.76zM164.17 392.13h1.1v1.1h-1.1zM127.2 392.94h1.1v1.1h-1.1zM150.7 391.5h1.76v1.1h-1.76zM123.05 387.39h1.1v1.1h-1.1zM176.9 388.28h1.1v1.1h-1.1zM145.08 392.83h1.1v1.1h-1.1zM173.6 393.16h1.1v1.1h-1.1zM131.5 388.52h1.76v1.1h-1.76zM143.78 386.85h1.76v1.1h-1.76zM123.39 388.09h1.1v1.1h-1.1zM149.97 387.74h1.76v1.1h-1.76zM141.42 401.44h1.76v1.1h-1.76zM117.18 402.32h1.76v1.1h-1.76zM119.24 407.32h1.1v1.1h-1.1zM141.05 401.65h1.1v1.1h-1.1zM131.61 407.14h1.1v1.1h-1.1zM132.64 399.48h1.1v1.1h-1.1zM138.78 404.91h1.1v1.1h-1.1zM123.95 407.23h1.1v1.1h-1.1zM122.84 399.87h1.76v1.1h-1.76zM116.54 409.65h1.1v1.1h-1.1zM120.48 407.53h1.1v1.1h-1.1zM106.43 406.38h1.76v1.1h-1.76zM119.98 402.99h1.1v1.1h-1.1zM156.58 404.85h1.76v1.1h-1.76zM110.69 406.29h1.1v1.1h-1.1zM131.84 407.91h1.1v1.1h-1.1zM116.23 403.12h1.76v1.1h-1.76zM116.76 402.99h1.1v1.1h-1.1zM113.57 402.25h1.1v1.1h-1.1zM142.43 406.9h1.1v1.1h-1.1zM146.68 403.67h1.1v1.1h-1.1zM132.1 408.2h1.76v1.1h-1.76zM150.95 399.53h1.1v1.1h-1.1zM148.54 407.21h1.76v1.1h-1.76zM117.52 399.82h1.1v1.1h-1.1zM104.62 409.79h1.76v1.1h-1.76zM155.91 402.49h1.1v1.1h-1.1zM125.52 407.71h1.76v1.1h-1.76zM114.02 402.69h1.1v1.1h-1.1zM156.56 409.58h1.1v1.1h-1.1zM156.05 398.12h1.1v1.1h-1.1zM153.87 401.84h1.1v1.1h-1.1zM132.16 398.87h1.1v1.1h-1.1zM143.69 406.9h1.76v1.1h-1.76zM131.48 400.71h1.1v1.1h-1.1zM145.24 400.92h1.1v1.1h-1.1zM146.16 405.95h1.1v1.1h-1.1zM132.89 403.88h1.1v1.1h-1.1zM140.65 409.99h1.1v1.1h-1.1zM147.97 408.25h1.1v1.1h-1.1zM120.39 404.3h1.1v1.1h-1.1zM155.14 406.35h1.1v1.1h-1.1zM121.7 399.25h1.76v1.1h-1.76zM106.66 398.05h1.1v1.1h-1.1zM106.36 402.21h1.1v1.1h-1.1zM127.1 400.91h1.1v1.1h-1.1zM152.07 399.78h1.1v1.1h-1.1zM111.61 403.65h1.1v1.1h-1.1zM142.17 409.95h1.1v1.1h-1.1zM155.08 405.92h1.76v1.1h-1.76zM128.9 409.79h1.1v1.1h-1.1zM115.76 399.91h1.1v1.1h-1.1zM121.47 403.36h1.1v1.1h-1.1zM152.02 398.13h1.76v1.1h-1.76zM107.72 398.62h1.76v1.1h-1.76zM123.83 402.68h1.1v1.1h-1.1zM131.96 406.01h1.1v1.1h-1.1zM129.3 399.69h1.1v1.1h-1.1zM131.64 408.2h1.76v1.1h-1.76zM114.05 407.38h1.1v1.1h-1.1zM130.44 403.33h1.1v1.1h-1.1zM111.5 407.19h1.1v1.1h-1.1zM103.64 401.46h1.1v1.1h-1.1zM117.99 402.36h1.76v1.1h-1.76zM129.84 404.84h1.76v1.1h-1.76zM126.77 401.12h1.1v1.1h-1.1zM117.43 401.04h1.1v1.1h-1.1zM126.69 402.44h1.76v1.1h-1.76zM141.58 403.54h1.76v1.1h-1.76zM101.93 402.72h1.1v1.1h-1.1zM111.19 406.38h1.1v1.1h-1.1zM123.03 405h1.1v1.1h-1.1zM148.91 403.42h1.76v1.1h-1.76zM104.11 405.04h1.1v1.1h-1.1zM115.39 405.26h1.1v1.1h-1.1zM111.03 402.28h1.76v1.1h-1.76zM110.3 401.74h1.1v1.1h-1.1zM106.31 409.35h1.1v1.1h-1.1zM148.32 400.16h1.1v1.1h-1.1zM107.01 398.17h1.1v1.1h-1.1zM115.81 403.23h1.1v1.1h-1.1zM110.77 405.75h1.1v1.1h-1.1zM119.22 409.09h1.1v1.1h-1.1zM131.94 402.08h1.1v1.1h-1.1zM108.33 406.7h1.1v1.1h-1.1zM130.33 398.67h1.76v1.1h-1.76zM124.29 408.95h1.1v1.1h-1.1zM149.13 398.07h1.1v1.1h-1.1zM125.49 398.41h1.1v1.1h-1.1zM105.27 409.05h1.1v1.1h-1.1zM144.8 408.87h1.1v1.1h-1.1zM120.02 401.2h1.1v1.1h-1.1zM107.08 408.64h1.76v1.1h-1.76zM102.35 398.97h1.1v1.1h-1.1zM130.89 408.49h1.76v1.1h-1.76zM113.29 401.81h1.1v1.1h-1.1zM133.83 398.68h1.76v1.1h-1.76zM134.12 407.59h1.1v1.1h-1.1zM126.77 402.69h1.1v1.1h-1.1zM145.36 406.03h1.76v1.1h-1.76zM146.81 401.17h1.76v1.1h-1.76zM145.1 400.24h1.1v1.1h-1.1zM132.63 403.35h1.1v1.1h-1.1zM147.29 408.44h1.1v1.1h-1.1zM101.22 408.42h1.1v1.1h-1.1zM153.06 398.82h1.1v1.1h-1.1zM128.03 406.91h1.76v1.1h-1.76zM102.57 405.64h1.1v1.1h-1.1zM149.59 403.3h1.1v1.1h-1.1zM143.78 398.83h1.1v1.1h-1.1zM111.18 403.83h1.1v1.1h-1.1zM135.08 402.93h1.76v1.1h-1.76zM133.45 407.41h1.1v1.1h-1.1zM153.05 403.21h1.1v1.1h-1.1zM113.64 400.64h1.1v1.1h-1.1zM120.67 407.19h1.76v1.1h-1.76zM141.1 403.8h1.76v1.1h-1.76zM145.23 401.93h1.1v1.1h-1.1zM119.56 408.81h1.76v1.1h-1.76zM138.12 408.72h1.1v1.1h-1.1zM119.75 402.47h1.1v1.1h-1.1zM132.98 404.81h1.76v1.1h-1.76zM130.5 405.98h1.76v1.1h-1.76zM102.27 405.1h1.1v1.1h-1.1zM155.41 409.39h1.1v1.1h-1.1zM153.84 407.5h1.1v1.1h-1.1zM108.57 401.1h1.76v1.1h-1.76zM140.51 399.26h1.1v1.1h-1.1zM121.11 400.28h1.1v1.1h-1.1zM119.82 398.93h1.1v1.1h-1.1zM152.7 405.87h1.1v1.1h-1.1zM104.82 405.29h1.1v1.1h-1.1zM150.35 407.93h1.76v1.1h-1.76zM106.06 399.94h1.1v1.1h-1.1zM140.92 400.9h1.1v1.1h-1.1zM101.26 402.54h1.1v1.1h-1.1zM126.75 399.48h1.76v1.1h-1.76zM147.17 403.34h1.1v1.1h-1.1zM129.1 403h1.1v1.1h-1.1zM128.44 402.27h1.76v1.1h-1.76zM134.99 405.23h1.1v1.1h-1.1zM107.7 400.71h1.76v1.1h-1.76zM125.12 404.68h1.1v1.1h-1.1zM128.46 406.4h1.1v1.1h-1.1zM130.86 405.55h1.1v1.1h-1.1zM116.22 400.52h1.1v1.1h-1.1zM142.79 399.85h1.1v1.1h-1.1zM111.42 401.15h1.1v1.1h-1.1zM123.72 407.67h1.1v1.1h-1.1zM126.68 406.4h1.76v1.1h-1.76zM120.43 403.18h1.1v1.1h-1.1zM110 399.03h1.76v1.1h-1.76zM115.29 403.35h1.1v1.1h-1.1zM101.4 408.37h1.76v1.1h-1.76zM131.67 404.59h1.76v1.1h-1.76zM136.78 407.47h1.76v1.1h-1.76zM117.24 404.67h1.1v1.1h-1.1zM110.74 402.03h1.76v1.1h-1.76zM131.83 398.84h1.1v1.1h-1.1zM115.8 404.77h1.1v1.1h-1.1zM152.97 400.8h1.76v1.1h-1.76zM123.9 406.6h1.76v1.1h-1.76zM107.07 407.07h1.1v1.1h-1.1zM135.39 399.93h1.76v1.1h-1.76zM103.23 403.76h1.1v1.1h-1.1zM140.07 403.32h1.1v1.1h-1.1zM117.19 402.47h1.76v1.1h-1.76zM112.92 400.29h1.1v1.1h-1.1zM149.34 407.07h1.1v1.1h-1.1zM114.26 401.31h1.1v1.1h-1.1zM120.26 400.22h1.76v1.1h-1.76zM133.09 400.93h1.1v1.1h-1.1zM150.19 402.04h1.1v1.1h-1.1zM150.6 398.72h1.1v1.1h-1.1zM150.07 409.74h1.1v1.1h-1.1zM135.78 403.27h1.1v1.1h-1.1zM103.39 398.08h1.1v1.1h-1.1zM140.3 400.12h1.1v1.1h-1.1zM148.04 407.02h1.76v1.1h-1.76zM109.08 404.4h1.1v1.1h-1.1zM121.72 403.71h1.1v1.1h-1.1zM109.6 401.85h1.76v1.1h-1.76zM120.87 407.08h1.1v1.1h-1.1zM132.87 401.85h1.1v1.1h-1.1zM123.77 406.96h1.1v1.1h-1.1zM118.18 409.04h1.1v1.1h-1.1zM123.58 402.4h1.1v1.1h-1.1zM115.63 399.53h1.76v1.1h-1.76zM156.31 405.9h1.1v1.1h-1.1zM102.72 399.95h1.1v1.1h-1.1zM144.95 398.12h1.76v1.1h-1.76zM144.07 402.82h1.76v1.1h-1.76zM151.12 409.08h1.1v1.1h-1.1zM106.77 408.65h1.76v1.1h-1.76zM127.52 405.34h1.76v1.1h-1.76zM156.78 407.49h1.1v1.1h-1.1zM115.26 401.82h1.76v1.1h-1.76zM138.88 403.16h1.76v1.1h-1.76zM125.83 409.76h1.1v1.1h-1.1zM113.98 402.34h1.76v1.1h-1.76zM114.78 403.04h1.76v1.1h-1.76zM121.69 409.47h1.1v1.1h-1.1zM127.56 403.73h1.1v1.1h-1.1zM109.02 409.87h1.1v1.1h-1.1zM151.95 406.64h1.1v1.1h-1.1zM153.05 401.59h1.1v1.1h-1.1zM122.95 403.36h1.1v1.1h-1.1zM153.51 398.07h1.76v1.1h-1.76zM136.56 400.58h1.1v1.1h-1.1zM147.96 408.05h1.1v1.1h-1.1zM102.72 405.61h1.1v1.1h-1.1zM116.68 402.81h1.76v1.1h-1.76zM120.94 398.25h1.1v1.1h-1.1zM137.47 399.16h1.1v1.1h-1.1zM149.27 406.64h1.1v1.1h-1.1zM110.66 403.25h1.1v1.1h-1.1zM148.16 400.13h1.1v1.1h-1.1zM131.45 403.65h1.76v1.1h-1.76zM118.98 399.19h1.76v1.1h-1.76zM147.89 408.53h1.76v1.1h-1.76zM122.01 398.44h1.76v1.1h-1.76zM149.95 400.67h1.1v1.1h-1.1zM121.46 404.44h1.1v1.1h-1.1zM135.14 402.74h1.1v1.1h-1.1zM142.33 403.61h1.1v1.1h-1.1zM105.38 409.05h1.76v1.1h-1.76zM104.56 405.11h1.1v1.1h-1.1zM145.62 408.08h1.76v1.1h-1.76zM125.32 398.11h1.76v1.1h-1.76zM139.59 409.59h1.1v1.1h-1.1zM138.41 402.28h1.1v1.1h-1.1zM147.83 406.32h1.76v1.1h-1.76zM149.62 400.31h1.1v1.1h-1.1zM121.51 399.73h1.1v1.1h-1.1zM146.86 399.99h1.1v1.1h-1.1zM156.16 402.03h1.1v1.1h-1.1zM112.02 409.11h1.1v1.1h-1.1zM119.04 408.17h1.1v1.1h-1.1zM136.97 400.83h1.1v1.1h-1.1zM120.29 406.17h1.1v1.1h-1.1zM139.87 402.74h1.76v1.1h-1.76zM127.07 403.55h1.76v1.1h-1.76zM138.5 409.33h1.76v1.1h-1.76zM126.06 409.84h1.1v1.1h-1.1zM153 401.42h1.1v1.1h-1.1zM146.87 405.45h1.1v1.1h-1.1zM138.84 399.28h1.1v1.1h-1.1zM153.05 409.94h1.1v1.1h-1.1zM109.93 400.6h1.1v1.1h-1.1zM138.97 403.12h1.1v1.1h-1.1zM147.03 401.63h1.1v1.1h-1.1zM115.91 401.02h1.1v1.1h-1.1zM129.43 404.95h1.76v1.1h-1.76zM125.16 400h1.1v1.1h-1.1zM124.28 404.81h1.1v1.1h-1.1zM108.17 399.62h1.76v1.1h-1.76zM127.25 398.91h1.76v1.1h-1.76zM132.75 401.92h1.1v1.1h-1.1zM133.58 401.32h1.1v1.1h-1.1zM153.31 398.84h1.1v1.1h-1.1zM123.79 398.63h1.1v1.1h-1.1zM110.15 409.85h1.1v1.1h-1.1zM145.34 407.66h1.1v1.1h-1.1zM150.34 406.63h1.76v1.1h-1.76zM143.35 406.63h1.76v1.1h-1.76zM131.24 405.26h1.76v1.1h-1.76zM118.27 403.93h1.76v1.1h-1.76zM127.98 402.16h1.1v1.1h-1.1zM150.7 407.13h1.76v1.1h-1.76zM147.75 399.64h1.76v1.1h-1.76zM126.31 402.61h1.1v1.1h-1.1zM153.62 401.48h1.1v1.1h-1.1zM156.9 405.91h1.1v1.1h-1.1zM150.26 404.89h1.1v1.1h-1.1zM117.29 398.81h1.1v1.1h-1.1zM148.03 407.57h1.1v1.1h-1.1zM107.69 407.67h1.1v1.1h-1.1zM134.89 403.03h1.1v1.1h-1.1zM138.33 400.41h1.76v1.1h-1.76zM144.1 403.61h1.1v1.1h-1.1zM112.82 406.5h1.1v1.1h-1.1zM142.5 406.79h1.1v1.1h-1.1zM142.53 405.4h1.1v1.1h-1.1zM147.22 408.66h1.1v1.1h-1.1zM125.93 400.84h1.1v1.1h-1.1zM125.09 403.69h1.76v1.1h-1.76zM152.79 398.92h1.76v1.1h-1.76zM102.38 402.01h1.1v1.1h-1.1zM148.39 403.85h1.1v1.1h-1.1zM123.11 407.26h1.1v1.1h-1.1zM111.32 401.49h1.1v1.1h-1.1zM124.19 404.38h1.1v1.1h-1.1zM106.03 405.58h1.76v1.1h-1.76zM137.89 401.21h1.1v1.1h-1.1zM115.88 407.23h1.1v1.1h-1.1zM146.87 408.67h1.76v1.1h-1.76zM128.58 409.64h1.76v1.1h-1.76zM150.7 409.71h1.1v1.1h-1.1zM133.34 409.63h1.1v1.1h-1.1zM145.98 402.06h1.76v1.1h-1.76zM143.36 398.03h1.1v1.1h-1.1zM122.92 406.3h1.1v1.1h-1.1zM147.25 402.8h1.1v1.1h-1.1zM139.39 399.73h1.76v1.1h-1.76zM151.21 407.25h1.1v1.1h-1.1zM135.7 405.46h1.1v1.1h-1.1zM146.7 403.84h1.1v1.1h-1.1zM149.28 403.59h1.1v1.1h-1.1zM127.33 400.25h1.1v1.1h-1.1zM152.69 407.72h1.1v1.1h-1.1zM127.83 408.72h1.76v1.1h-1.76zM134.58 404.26h1.1v1.1h-1.1zM117.94 400.76h1.76v1.1h-1.76zM139.26 402.38h1.1v1.1h-1.1zM102.49 407.1h1.1v1.1h-1.1zM134.04 398.71h1.1v1.1h-1.1zM106.45 398.57h1.76v1.1h-1.76zM111.14 403.69h1.1v1.1h-1.1zM109.93 404.44h1.1v1.1h-1.1zM146.47 405.54h1.76v1.1h-1.76zM133.34 406.52h1.76v1.1h-1.76zM129.42 398.99h1.76v1.1h-1.76zM104.14 406.95h1.76v1.1h-1.76zM142.66 409.33h1.1v1.1h-1.1zM110.14 403.78h1.76v1.1h-1.76zM147.62 404.95h1.1v1.1h-1.1zM137.52 409.22h1.1v1.1h-1.1zM105.94 406.7h1.1v1.1h-1.1zM118.84 401.5h1.1v1.1h-1.1zM116.94 404.25h1.1v1.1h-1.1zM175.49 403.15h1.1v1.1h-1.1zM181.21 403.25h1.76v1.1h-1.76zM184.92 399.38h1.76v1.1h-1.76zM162.48 402.02h1.1v1.1h-1.1zM185.24 399.04h1.1v1.1h-1.1zM184.73 398.11h1.1v1.1h-1.1zM158.32 401.9h1.1v1.1h-1.1zM158.82 404.63h1.1v1.1h-1.1zM162.48 398.41h1.1v1.1h-1.1zM165.63 403.27h1.76v1.1h-1.76zM174.25 400.4h1.1v1.1h-1.1zM175.76 402.4h1.1v1.1h-1.1zM171.43 398.28h1.1v1.1h-1.1zM176.65 399.07h1.76v1.1h-1.76zM179.35 399.12h1.76v1.1h-1.76zM158.72 401.34h1.1v1.1h-1.1zM184.27 400.1h1.1v1.1h-1.1zM181.54 400.75h1.1v1.1h-1.1zM164.35 402.03h1.1v1.1h-1.1zM186.86 403.15h1.1v1.1h-1.1zM168.59 400.79h1.76v1.1h-1.76zM168.54 404.09h1.76v1.1h-1.76zM179.53 402.22h1.76v1.1h-1.76zM163.68 403.02h1.1v1.1h-1.1zM159.72 398.99h1.1v1.1h-1.1zM166.36 403.18h1.1v1.1h-1.1zM182.46 404.33h1.1v1.1h-1.1zM169.38 403.73h1.76v1.1h-1.76zM172.62 404.44h1.1v1.1h-1.1zM163.22 401.18h1.1v1.1h-1.1zM171.42 401.24h1.1v1.1h-1.1zM182.83 401.88h1.1v1.1h-1.1zM180.3 398.78h1.1v1.1h-1.1zM166.77 401.08h1.1v1.1h-1.1zM184.37 399.12h1.1v1.1h-1.1zM161.15 399.07h1.1v1.1h-1.1zM175.26 402.76h1.1v1.1h-1.1zM175.89 404.17h1.1v1.1h-1.1zM165.88 399.94h1.1v1.1h-1.1zM180.53 401.88h1.1v1.1h-1.1zM186.23 403.62h1.1v1.1h-1.1zM184.8 402.79h1.1v1.1h-1.1zM163.3 404h1.1v1.1h-1.1zM168.66 400.36h1.76v1.1h-1.76zM158.61 404.66h1.76v1.1h-1.76zM164.31 398.08h1.1v1.1h-1.1zM167.97 401.95h1.76v1.1h-1.76zM158.41 401.03h1.1v1.1h-1.1zM169.3 399.93h1.1v1.1h-1.1zM171.2 402h1.76v1.1h-1.76zM102.67 384.48h1.1v1.1h-1.1zM110.88 390.74h1.1v1.1h-1.1zM114.65 398.64h1.1v1.1h-1.1zM108.51 404.68h1.1v1.1h-1.1zM114 409.07h1.1v1.1h-1.1zM111.54 411.53h1.1v1.1h-1.1zM105.33 389.05h1.1v1.1h-1.1zM105.65 413.25h1.1v1.1h-1.1zM106.38 402.75h1.1v1.1h-1.1zM110.19 405.51h1.1v1.1h-1.1zM111.7 390.19h1.76v1.1h-1.76zM101.4 394.54h1.76v1.1h-1.76zM105.7 408.75h1.1v1.1h-1.1zM107.26 409.19h1.1v1.1h-1.1zM107.36 408.78h1.76v1.1h-1.76zM101.14 395.93h1.1v1.1h-1.1zM110.31 410.56h1.1v1.1h-1.1zM114.42 392.33h1.1v1.1h-1.1zM111.63 389.42h1.76v1.1h-1.76zM115.52 394.91h1.76v1.1h-1.76zM102.56 401.46h1.1v1.1h-1.1zM102.26 406.24h1.76v1.1h-1.76zM104.95 401.24h1.76v1.1h-1.76zM113.82 404.34h1.1v1.1h-1.1zM106.12 407.64h1.1v1.1h-1.1zM107.25 411.79h1.1v1.1h-1.1zM107.39 404.01h1.1v1.1h-1.1zM105.51 404.61h1.1v1.1h-1.1zM115.27 411.62h1.1v1.1h-1.1zM114.59 409.8h1.76v1.1h-1.76zM105.82 390.32h1.1v1.1h-1.1zM112.06 395.02h1.1v1.1h-1.1zM112.16 389.41h1.76v1.1h-1.76zM112.39 391.25h1.76v1.1h-1.76zM102.38 414.78h1.76v1.1h-1.76zM107.51 406.58h1.1v1.1h-1.1zM111.6 388.41h1.1v1.1h-1.1zM111.48 415.49h1.1v1.1h-1.1zM113.55 383.53h1.76v1.1h-1.76zM101.56 383.51h1.76v1.1h-1.76zM115.8 411.19h1.76v1.1h-1.76zM106.7 401h1.1v1.1h-1.1zM112.62 391.64h1.1v1.1h-1.1zM112.84 402.38h1.1v1.1h-1.1zM111.37 392.75h1.76v1.1h-1.76zM111.86 402.54h1.1v1.1h-1.1zM105.91 414.91h1.76v1.1h-1.76zM109.49 396.6h1.76v1.1h-1.76zM102.12 402.42h1.76v1.1h-1.76zM105.82 388.82h1.76v1.1h-1.76zM115.8 399.34h1.1v1.1h-1.1zM102.09 409.42h1.1v1.1h-1.1zM114.73 403.82h1.1v1.1h-1.1zM105.46 415.49h1.76v1.1h-1.76zM114.14 383.28h1.1v1.1h-1.1zM113.97 383.48h1.76v1.1h-1.76zM109.31 392.39h1.76v1.1h-1.76zM111.91 392.22h1.1v1.1h-1.1zM101.2 395.48h1.1v1.1h-1.1zM109.57 399.04h1.76v1.1h-1.76zM102.17 389.83h1.76v1.1h-1.76zM113.65 386.79h1.1v1.1h-1.1zM105.85 403.97h1.76v1.1h-1.76zM107.47 384.18h1.1v1.1h-1.1zM110.76 384.98h1.76v1.1h-1.76zM103.72 383.19h1.76v1.1h-1.76zM110.16 397.86h1.1v1.1h-1.1zM112.88 396.42h1.76v1.1h-1.76zM111.75 410.21h1.76v1.1h-1.76zM110.54 407.43h1.76v1.1h-1.76zM114.25 408.78h1.1v1.1h-1.1zM115.41 389.95h1.1v1.1h-1.1zM110.31 398.01h1.76v1.1h-1.76zM102.35 395.03h1.76v1.1h-1.76zM102.16 395.58h1.1v1.1h-1.1zM111.96 386.26h1.76v1.1h-1.76zM113.08 407.12h1.1v1.1h-1.1zM113.2 406.36h1.1v1.1h-1.1zM111.28 391.7h1.1v1.1h-1.1zM112 390.99h1.1v1.1h-1.1zM104.41 409.63h1.1v1.1h-1.1zM106.44 407.11h1.76v1.1h-1.76zM112.23 409.01h1.76v1.1h-1.76zM101.99 391.62h1.1v1.1h-1.1zM109.14 405.91h1.1v1.1h-1.1zM104.08 399.61h1.76v1.1h-1.76zM109.66 389.41h1.1v1.1h-1.1zM109.92 410.96h1.76v1.1h-1.76zM108.77 395.59h1.1v1.1h-1.1zM107.87 402.75h1.1v1.1h-1.1zM102.37 412.72h1.76v1.1h-1.76zM103.75 404.08h1.76v1.1h-1.76zM103.56 402.99h1.1v1.1h-1.1zM108.83 401.03h1.1v1.1h-1.1zM103.04 408.48h1.1v1.1h-1.1zM108.5 383.3h1.1v1.1h-1.1zM111.05 407.89h1.1v1.1h-1.1zM109.67 384.64h1.76v1.1h-1.76zM102.75 414.44h1.1v1.1h-1.1zM112.64 387.15h1.76v1.1h-1.76zM106.38 388.28h1.76v1.1h-1.76zM114.81 394.14h1.76v1.1h-1.76zM113.24 396.27h1.76v1.1h-1.76zM104.83 399.2h1.1v1.1h-1.1zM104.83 410.37h1.1v1.1h-1.1zM115.79 385.49h1.76v1.1h-1.76zM102.62 383.64h1.1v1.1h-1.1zM111.82 413.78h1.1v1.1h-1.1zM110.25 402.54h1.1v1.1h-1.1zM115.19 403.24h1.1v1.1h-1.1zM109.43 391.92h1.1v1.1h-1.1zM127.7 387.62h1.1v1.1h-1.1zM119.09 388.17h1.1v1.1h-1.1zM118.37 389.72h1.76v1.1h-1.76zM121.51 390.66h1.1v1.1h-1.1zM111.47 391.94h1.1v1.1h-1.1zM108 392.23h1.76v1.1h-1.76zM115.51 389.54h1.1v1.1h-1.1zM118.2 389.27h1.1v1.1h-1.1zM111.87 386.93h1.1v1.1h-1.1zM105 390.44h1.1v1.1h-1.1zM118.74 385.8h1.1v1.1h-1.1zM105.29 388.76h1.1v1.1h-1.1zM120.73 386.02h1.1v1.1h-1.1zM111.66 389.89h1.76v1.1h-1.76zM110.36 392.99h1.1v1.1h-1.1zM119.85 392.05h1.1v1.1h-1.1zM126.79 389.46h1.1v1.1h-1.1zM110.8 389.71h1.1v1.1h-1.1zM108.48 386.56h1.1v1.1h-1.1zM125.65 389.68h1.1v1.1h-1.1zM120.59 390.77h1.1v1.1h-1.1zM112.37 390.44h1.1v1.1h-1.1zM121.33 391.99h1.1v1.1h-1.1zM126.7 392.26h1.1v1.1h-1.1zM115.3 386.71h1.1v1.1h-1.1zM113.29 390.48h1.1v1.1h-1.1zM114.27 391.6h1.76v1.1h-1.76zM124.59 390.21h1.1v1.1h-1.1zM122.63 389.59h1.1v1.1h-1.1zM113.78 392.71h1.1v1.1h-1.1zM117.54 388.67h1.1v1.1h-1.1zM113.37 386.23h1.76v1.1h-1.76zM120.25 389.32h1.76v1.1h-1.76zM127.16 391.49h1.76v1.1h-1.76z" fill="#000"/>
</g>
<path d="M123.3 391.3L133.4 384.2L176.9 382.8L189 390.3L190 399.3L187 406.4L170.8 412.5L144.5 414.5L122.3 413.5L118.3 408.4L117 401Z" fill="none" stroke="#000" stroke-width="1.4" stroke-linejoin="round"/>
<rect x="82.8" y="109.5" width="108.7" height="85.9" fill="#fff" stroke="#000" stroke-width="1.3"/>
<path d="M82.4 109V195.9H193.5" fill="none" stroke="#000" stroke-width="2.2"/>
<path d="M84 195.4v5.4M104.92 195.4v5.4M125.84 195.4v5.4M146.76 195.4v5.4M167.68 195.4v5.4M188.6 195.4v5.4" stroke="#000" stroke-width="1.3" fill="none"/>
<path d="M84 195.4v3.9M87.35 195.4v3.9M90.69 195.4v3.9M94.04 195.4v3.9M97.39 195.4v3.9M100.74 195.4v3.9M104.08 195.4v3.9M107.43 195.4v3.9M110.78 195.4v3.9M114.12 195.4v3.9M117.47 195.4v3.9M120.82 195.4v3.9M124.17 195.4v3.9M127.51 195.4v3.9M130.86 195.4v3.9M134.21 195.4v3.9M137.56 195.4v3.9M140.9 195.4v3.9M144.25 195.4v3.9M147.6 195.4v3.9M150.94 195.4v3.9M154.29 195.4v3.9M157.64 195.4v3.9M160.99 195.4v3.9M164.33 195.4v3.9M167.68 195.4v3.9M171.03 195.4v3.9M174.37 195.4v3.9M177.72 195.4v3.9M181.07 195.4v3.9M184.42 195.4v3.9M187.76 195.4v3.9M191.11 195.4v3.9" stroke="#000" stroke-width="1.5" fill="none"/>
<path d="M82.8 195.4h-5.4M82.8 178.42h-5.4M82.8 161.44h-5.4M82.8 144.46h-5.4M82.8 127.48h-5.4M82.8 110.5h-5.4" stroke="#000" stroke-width="1.2" fill="none"/>
<path d="M82.8 193.28h-3.3M82.8 191.16h-3.3M82.8 189.03h-3.3M82.8 186.91h-3.3M82.8 184.79h-3.3M82.8 182.67h-3.3M82.8 180.54h-3.3M82.8 176.3h-3.3M82.8 174.18h-3.3M82.8 172.05h-3.3M82.8 169.93h-3.3M82.8 167.81h-3.3M82.8 165.69h-3.3M82.8 163.56h-3.3M82.8 159.32h-3.3M82.8 157.19h-3.3M82.8 155.07h-3.3M82.8 152.95h-3.3M82.8 150.83h-3.3M82.8 148.7h-3.3M82.8 146.58h-3.3M82.8 142.34h-3.3M82.8 140.22h-3.3M82.8 138.09h-3.3M82.8 135.97h-3.3M82.8 133.85h-3.3M82.8 131.73h-3.3M82.8 129.6h-3.3M82.8 125.36h-3.3M82.8 123.23h-3.3M82.8 121.11h-3.3M82.8 118.99h-3.3M82.8 116.87h-3.3M82.8 114.75h-3.3M82.8 112.62h-3.3" stroke="#000" stroke-width="1.0" fill="none"/>
<text x="84" y="205.1" class="t">0</text>
<text x="104.92" y="205.1" class="t">200</text>
<text x="125.84" y="205.1" class="t">400</text>
<text x="146.76" y="205.1" class="t">600</text>
<text x="167.68" y="205.1" class="t">800</text>
<text x="188.6" y="205.1" class="t">1000</text>
<text x="138.15" y="211.4" class="u">FL1-H</text>
<text transform="translate(76.3 193.2) rotate(-90)" class="t">0</text>
<text transform="translate(76.3 176.22) rotate(-90)" class="t">20</text>
<text transform="translate(76.3 159.24) rotate(-90)" class="t">40</text>
<text transform="translate(76.3 142.26) rotate(-90)" class="t">60</text>
<text transform="translate(76.3 125.28) rotate(-90)" class="t">80</text>
<text transform="translate(76.3 108.3) rotate(-90)" class="t">100</text>
<text transform="translate(69.4 153.45) rotate(-90)" class="u">Counts</text>
<clipPath id="c1"><rect x="82.8" y="109.5" width="109.7" height="86.5"/></clipPath>
<g clip-path="url(#c1)">
<path d="M82.8 195.4V149.88h1V152.53h1V160.95h1V183.4h1V179.85h1V170.1h1V160.85h1V154.06h1V143.08h1V136.66h1V128.89h1V127.07h1V131.31h1V133.14h1V142.2h1V145.06h1V150.21h1V156.1h1V160.51h1V166.84h1V169.46h1V175.78h1V180.66h1V181.83h1V184.38h1V186.35h1V188.58h1V190.65h1V190.69h1V191.55h1V191.49h1V192.75h1V192.85h1V193.3h1V193.53h1V193.77h1V193.95h1V194.32h1V194.66h1V195.03h1V195.29h1V195.4h1V195.4h1V195.4h1V195.4h1V195.4h1V195.4h1V195.4h1V195.4h1V195.4h1V195.4h1V195.4h1V195.4h1V195.4h1V195.4h1V195.4h1V195.4h1V195.4h1V195.4h1V195.4h1V195.4h1V195.4h1V195.4h1V195.4h1V195.4h1V195.4h1V195.4h1V195.4h1V195.4h1V195.4h1V195.4h1V195.4h1V195.4h1V195.4h1V195.4h1V195.4h1V195.4h1V195.4h1V195.4h1V195.4h1V195.4h1V195.4h1V195.4h1V195.4h1V195.4h1V195.4h1V195.4h1V195.4h1V195.4h1V195.4h1V195.4h1V195.4h1V195.4h1V195.4h1V195.4h1V195.4h1V195.4h1V195.4h1V195.4h1V195.4h1V195.4h1V195.4h1V195.4h1V195.4h1V195.4h1V195.4h1V195.4h1V195.4h1V195.4Z" fill="#000"/>
<path d="M82.8 195.4h1V195.4h1V195.4h1V195.4h1V195.4h1V195.4h1V195.4h1V195.4h1V195.4h1V195.4h1V195.4h1V195.4h1V195.4h1V195.4h1V195.4h1V195.4h1V195.4h1V186.83h1V186.22h1V186.91h1V186.1h1V185.02h1V185.21h1V185.87h1V185.7h1V186.35h1V187.01h1V185.99h1V187.09h1V187.21h1V186.83h1V187.36h1V187.27h1V186.1h1V185.47h1V185.46h1V185.38h1V183.96h1V183.77h1V182.67h1V177.91h1V169.61h1V164.24h1V155.29h1V147.69h1V141.46h1V133.63h1V126.24h1V127.1h1V123.33h1V133.83h1V140.03h1V141.39h1V145.1h1V151.12h1V161.57h1V166.99h1V175.86h1V179.44h1V183.98h1V187.33h1V190.26h1V191.21h1V191.99h1V193.21h1V193.78h1V193.73h1V193.77h1V193.91h1V193.89h1V193.91h1V194.02h1V193.94h1V193.85h1V194.03h1V193.92h1V194.02h1V194.03h1V194.15h1V194.11h1V194.15h1V194.23h1V194.45h1V194.32h1V194.39h1V194.47h1V194.26h1V194.35h1V194.4h1V194.51h1V194.46h1V194.39h1V194.47h1V194.41h1V194.35h1V194.44h1V194.33h1V194.59h1V194.42h1V194.55h1V194.54h1V194.45h1V194.54h1V194.53h1V194.41h1V194.55h1V194.79h1V194.91h1" fill="none" stroke="#000" stroke-width="2.3" stroke-linejoin="miter"/>
</g>
<text x="148.7" y="128.8" font-size="11" class="l" textLength="26.9" lengthAdjust="spacing">CD1a</text>
<text x="149.7" y="141.6" font-size="10" class="l" textLength="32.2" lengthAdjust="spacing">100%</text>
<rect x="234.4" y="109.3" width="114.3" height="88.15" fill="#fff" stroke="#000" stroke-width="1.3"/>
<path d="M234 108.8V197.95H350.7" fill="none" stroke="#000" stroke-width="2.2"/>
<path d="M235.6 197.45v5.4M257.64 197.45v5.4M279.68 197.45v5.4M301.72 197.45v5.4M323.76 197.45v5.4M345.8 197.45v5.4" stroke="#000" stroke-width="1.3" fill="none"/>
<path d="M235.6 197.45v3.9M239.13 197.45v3.9M242.65 197.45v3.9M246.18 197.45v3.9M249.71 197.45v3.9M253.23 197.45v3.9M256.76 197.45v3.9M260.28 197.45v3.9M263.81 197.45v3.9M267.34 197.45v3.9M270.86 197.45v3.9M274.39 197.45v3.9M277.92 197.45v3.9M281.44 197.45v3.9M284.97 197.45v3.9M288.5 197.45v3.9M292.02 197.45v3.9M295.55 197.45v3.9M299.08 197.45v3.9M302.6 197.45v3.9M306.13 197.45v3.9M309.65 197.45v3.9M313.18 197.45v3.9M316.71 197.45v3.9M320.23 197.45v3.9M323.76 197.45v3.9M327.29 197.45v3.9M330.81 197.45v3.9M334.34 197.45v3.9M337.87 197.45v3.9M341.39 197.45v3.9M344.92 197.45v3.9M348.44 197.45v3.9" stroke="#000" stroke-width="1.5" fill="none"/>
<path d="M234.4 197.45h-5.4M234.4 180.02h-5.4M234.4 162.59h-5.4M234.4 145.16h-5.4M234.4 127.73h-5.4M234.4 110.3h-5.4" stroke="#000" stroke-width="1.2" fill="none"/>
<path d="M234.4 195.27h-3.3M234.4 193.09h-3.3M234.4 190.91h-3.3M234.4 188.73h-3.3M234.4 186.56h-3.3M234.4 184.38h-3.3M234.4 182.2h-3.3M234.4 177.84h-3.3M234.4 175.66h-3.3M234.4 173.48h-3.3M234.4 171.3h-3.3M234.4 169.13h-3.3M234.4 166.95h-3.3M234.4 164.77h-3.3M234.4 160.41h-3.3M234.4 158.23h-3.3M234.4 156.05h-3.3M234.4 153.87h-3.3M234.4 151.7h-3.3M234.4 149.52h-3.3M234.4 147.34h-3.3M234.4 142.98h-3.3M234.4 140.8h-3.3M234.4 138.62h-3.3M234.4 136.44h-3.3M234.4 134.27h-3.3M234.4 132.09h-3.3M234.4 129.91h-3.3M234.4 125.55h-3.3M234.4 123.37h-3.3M234.4 121.19h-3.3M234.4 119.01h-3.3M234.4 116.84h-3.3M234.4 114.66h-3.3M234.4 112.48h-3.3" stroke="#000" stroke-width="1.0" fill="none"/>
<text x="235.6" y="207.15" class="t">0</text>
<text x="257.64" y="207.15" class="t">200</text>
<text x="279.68" y="207.15" class="t">400</text>
<text x="301.72" y="207.15" class="t">600</text>
<text x="323.76" y="207.15" class="t">800</text>
<text x="345.8" y="207.15" class="t">1000</text>
<text x="292.55" y="213.45" class="u">FL2-H</text>
<text transform="translate(227.9 195.25) rotate(-90)" class="t">0</text>
<text transform="translate(227.9 177.82) rotate(-90)" class="t">20</text>
<text transform="translate(227.9 160.39) rotate(-90)" class="t">40</text>
<text transform="translate(227.9 142.96) rotate(-90)" class="t">60</text>
<text transform="translate(227.9 125.53) rotate(-90)" class="t">80</text>
<text transform="translate(227.9 108.1) rotate(-90)" class="t">100</text>
<text transform="translate(221 154.38) rotate(-90)" class="u">Counts</text>
<clipPath id="c2"><rect x="234.4" y="109.3" width="115.3" height="88.75"/></clipPath>
<g clip-path="url(#c2)">
<path d="M234.4 197.45V143.49h1V154.31h1V159.69h1V158.62h1V155.6h1V135.88h1V137.87h1V145.9h1V136.89h1V147.35h1V142.65h1V148.73h1V152.46h1V153.96h1V149.41h1V152.46h1V168.69h1V154.1h1V147.3h1V155.56h1V157.47h1V166.85h1V165.96h1V172.99h1V177.57h1V182.39h1V184.18h1V184.72h1V184.7h1V189.39h1V188.68h1V188.28h1V190.29h1V190.06h1V190.54h1V190.54h1V192.41h1V193.27h1V192.24h1V194.04h1V193.5h1V194.2h1V193.92h1V194.45h1V195.12h1V194.34h1V194.41h1V194.8h1V194.29h1V195.04h1V194.52h1V194.37h1V194h1V194.33h1V194.58h1V194.85h1V194.37h1V194.83h1V194.66h1V194.53h1V195.34h1V194.51h1V194.48h1V195.07h1V194.63h1V194.76h1V194.97h1V195.38h1V194.07h1V194.79h1V195.16h1V194.72h1V194.35h1V195.05h1V194.26h1V195.1h1V195.57h1V195.9h1V196.85h1V196.56h1V196.35h1V196.31h1V196.92h1V196.73h1V196.56h1V196.54h1V196.55h1V196.72h1V196.45h1V196.43h1V196.69h1V196.33h1V195.03h1V194.31h1V195.1h1V195.67h1V196.27h1V196.42h1V196.56h1V196.62h1V196.4h1V196.01h1V195.76h1V195.71h1V195.92h1V195.51h1V195.81h1V195.56h1V195.78h1V195.97h1V195.82h1V195.97h1V196.32h1V196.65h1V197.45Z" fill="#000"/>
<path d="M234.4 197.45h1V197.45h1V197.45h1V197.45h1V197.45h1V197.45h1V197.45h1V197.45h1V197.45h1V197.45h1V197.45h1V197.45h1V197.45h1V152.49h1V149.4h1V155.56h1V151.82h1V152.7h1V150.18h1V149.58h1V150.17h1V155.95h1V154.83h1V161.86h1V170.82h1V175.55h1V178.73h1V180.21h1V183.78h1V185.91h1V186.72h1V188.61h1V197.45h1V197.45h1V197.45h1V197.45h1V197.45h1V197.45h1V197.45h1V197.45h1V197.45h1V197.45h1V197.45h1V197.45h1V197.45h1V197.45h1V197.45h1V197.45h1V197.45h1V197.45h1V197.45h1V197.45h1V197.45h1V197.45h1V197.45h1V197.45h1V197.45h1V197.45h1V197.45h1V197.45h1V197.45h1V197.45h1V197.45h1V197.45h1V197.45h1V197.45h1V197.45h1V197.45h1V197.45h1V197.45h1V197.45h1V197.45h1V197.45h1V197.45h1V197.45h1V197.45h1V197.45h1V197.45h1V197.45h1V197.45h1V197.45h1V197.45h1V197.45h1V197.45h1V197.45h1V197.45h1V197.45h1V197.45h1V197.45h1V197.45h1V197.45h1V197.45h1V197.45h1V197.45h1V197.45h1V197.45h1V197.45h1V197.45h1V197.45h1V197.45h1V197.45h1V197.45h1V197.45h1V197.45h1V197.45h1V197.45h1V197.45h1V197.45h1V197.45h1V197.45h1V197.45h1V197.45h1V197.45h1V197.45h1" fill="none" stroke="#000" stroke-width="2.3" stroke-linejoin="miter"/>
</g>
<text x="300.5" y="128.6" font-size="11" class="l" textLength="29" lengthAdjust="spacing">CD83</text>
<text x="300.5" y="141.6" font-size="10" class="l" textLength="18.3" lengthAdjust="spacing">0 %</text>
<rect x="394.3" y="109.3" width="115.2" height="88.15" fill="#fff" stroke="#000" stroke-width="1.3"/>
<path d="M393.9 108.8V197.95H511.5" fill="none" stroke="#000" stroke-width="2.2"/>
<path d="M395.5 197.45v5.4M417.72 197.45v5.4M439.94 197.45v5.4M462.16 197.45v5.4M484.38 197.45v5.4M506.6 197.45v5.4" stroke="#000" stroke-width="1.3" fill="none"/>
<path d="M395.5 197.45v3.9M399.06 197.45v3.9M402.61 197.45v3.9M406.17 197.45v3.9M409.72 197.45v3.9M413.28 197.45v3.9M416.83 197.45v3.9M420.39 197.45v3.9M423.94 197.45v3.9M427.5 197.45v3.9M431.05 197.45v3.9M434.61 197.45v3.9M438.16 197.45v3.9M441.72 197.45v3.9M445.27 197.45v3.9M448.83 197.45v3.9M452.38 197.45v3.9M455.94 197.45v3.9M459.49 197.45v3.9M463.05 197.45v3.9M466.6 197.45v3.9M470.16 197.45v3.9M473.71 197.45v3.9M477.27 197.45v3.9M480.82 197.45v3.9M484.38 197.45v3.9M487.94 197.45v3.9M491.49 197.45v3.9M495.05 197.45v3.9M498.6 197.45v3.9M502.16 197.45v3.9M505.71 197.45v3.9M509.27 197.45v3.9" stroke="#000" stroke-width="1.5" fill="none"/>
<path d="M394.3 197.45h-5.4M394.3 180.02h-5.4M394.3 162.59h-5.4M394.3 145.16h-5.4M394.3 127.73h-5.4M394.3 110.3h-5.4" stroke="#000" stroke-width="1.2" fill="none"/>
<path d="M394.3 195.27h-3.3M394.3 193.09h-3.3M394.3 190.91h-3.3M394.3 188.73h-3.3M394.3 186.56h-3.3M394.3 184.38h-3.3M394.3 182.2h-3.3M394.3 177.84h-3.3M394.3 175.66h-3.3M394.3 173.48h-3.3M394.3 171.3h-3.3M394.3 169.13h-3.3M394.3 166.95h-3.3M394.3 164.77h-3.3M394.3 160.41h-3.3M394.3 158.23h-3.3M394.3 156.05h-3.3M394.3 153.87h-3.3M394.3 151.7h-3.3M394.3 149.52h-3.3M394.3 147.34h-3.3M394.3 142.98h-3.3M394.3 140.8h-3.3M394.3 138.62h-3.3M394.3 136.44h-3.3M394.3 134.27h-3.3M394.3 132.09h-3.3M394.3 129.91h-3.3M394.3 125.55h-3.3M394.3 123.37h-3.3M394.3 121.19h-3.3M394.3 119.01h-3.3M394.3 116.84h-3.3M394.3 114.66h-3.3M394.3 112.48h-3.3" stroke="#000" stroke-width="1.0" fill="none"/>
<text x="395.5" y="207.15" class="t">0</text>
<text x="417.72" y="207.15" class="t">200</text>
<text x="439.94" y="207.15" class="t">400</text>
<text x="462.16" y="207.15" class="t">600</text>
<text x="484.38" y="207.15" class="t">800</text>
<text x="506.6" y="207.15" class="t">1000</text>
<text x="452.9" y="213.45" class="u">FL2-H</text>
<text transform="translate(387.8 195.25) rotate(-90)" class="t">0</text>
<text transform="translate(387.8 177.82) rotate(-90)" class="t">40</text>
<text transform="translate(387.8 160.39) rotate(-90)" class="t">80</text>
<text transform="translate(387.8 142.96) rotate(-90)" class="t">120</text>
<text transform="translate(387.8 125.53) rotate(-90)" class="t">160</text>
<text transform="translate(387.8 108.1) rotate(-90)" class="t">200</text>
<text transform="translate(380.9 154.38) rotate(-90)" class="u">Counts</text>
<clipPath id="c3"><rect x="394.3" y="109.3" width="116.2" height="88.75"/></clipPath>
<g clip-path="url(#c3)">
<path d="M394.3 197.45V152.41h1V164.97h1V179.2h1V171.17h1V170.39h1V162.87h1V159.52h1V157.24h1V156.57h1V153.97h1V145.57h1V142.4h1V139.63h1V133.52h1V137.15h1V135.23h1V140.53h1V146.84h1V137.79h1V138.81h1V138.27h1V147.14h1V149.99h1V152.49h1V162.02h1V164.12h1V161.52h1V171.08h1V173.24h1V178.92h1V183.73h1V186.4h1V189.43h1V191.47h1V191.12h1V193.3h1V193.63h1V195.41h1V195.98h1V196.39h1V196.7h1V197.06h1V197.19h1V197.45h1V197.45h1V197.45h1V197.45h1V197.45h1V197.45h1V197.45h1V197.45h1V197.45h1V197.45h1V197.45h1V197.45h1V197.45h1V197.45h1V197.45h1V197.45h1V197.45h1V197.45h1V197.45h1V197.45h1V197.45h1V197.45h1V197.45h1V197.45h1V197.45h1V197.45h1V197.45h1V197.45h1V197.45h1V197.45h1V197.45h1V197.45h1V197.45h1V197.45h1V197.45h1V197.45h1V197.45h1V197.45h1V197.45h1V197.45h1V197.45h1V197.45h1V197.45h1V197.45h1V197.45h1V197.45h1V197.45h1V197.45h1V197.45h1V197.45h1V197.45h1V197.45h1V197.45h1V197.45h1V197.45h1V197.45h1V197.45h1V197.45h1V197.45h1V197.45h1V197.45h1V197.45h1V197.45h1V197.45h1V197.45h1V197.45h1V197.45h1V197.45h1V197.45h1V197.45h1V197.45h1V197.45Z" fill="#000"/>
<path d="M394.3 197.45h1V197.45h1V197.45h1V197.45h1V197.45h1V197.45h1V197.45h1V197.45h1V197.45h1V197.45h1V197.45h1V197.45h1V197.45h1V197.45h1V197.45h1V197.45h1V197.45h1V197.45h1V197.45h1V197.45h1V197.45h1V144.93h1V145.58h1V144.58h1V146.93h1V142.2h1V147.38h1V144.08h1V147.53h1V146.78h1V148.72h1V146.51h1V153.72h1V153.72h1V155.88h1V161.67h1V166.45h1V167.72h1V173.83h1V178.59h1V181.52h1V184.07h1V185.63h1V188.81h1V187.66h1V188.5h1V188.3h1V188.5h1V188.45h1V189.3h1V190.85h1V191.14h1V192.36h1V192.74h1V193.32h1V193.17h1V193.58h1V193.62h1V193.47h1V193.86h1V193.78h1V194.16h1V194.53h1V194.06h1V194.69h1V194.71h1V194.43h1V194.94h1V195.03h1V195.4h1V195.66h1V195.85h1V196.37h1V196.57h1V196.58h1V196.74h1V196.7h1V196.55h1V196.59h1V196.69h1V196.66h1V196.68h1V196.68h1V196.7h1V196.63h1V196.63h1V196.81h1V196.68h1V196.79h1V196.59h1V196.35h1V195.41h1V195.27h1V195.77h1V196.77h1V196.77h1V196.92h1V196.74h1V196.71h1V196.79h1V196.83h1V196.81h1V196.82h1V196.84h1V196.8h1V196.83h1V196.83h1V196.96h1V196.85h1V196.85h1V197.02h1V196.92h1V196.92h1V197.05h1" fill="none" stroke="#000" stroke-width="2.3" stroke-linejoin="miter"/>
</g>
<text x="471.4" y="127.9" font-size="11" class="l" textLength="29" lengthAdjust="spacing">CD86</text>
<text x="471.4" y="141.3" font-size="10" class="l" textLength="26.2" lengthAdjust="spacing">43%</text>
<rect x="82.8" y="236" width="110.4" height="90.7" fill="#fff" stroke="#000" stroke-width="1.3"/>
<path d="M82.4 235.5V327.2H195.2" fill="none" stroke="#000" stroke-width="2.2"/>
<path d="M84 326.7v5.4M105.26 326.7v5.4M126.52 326.7v5.4M147.78 326.7v5.4M169.04 326.7v5.4M190.3 326.7v5.4" stroke="#000" stroke-width="1.3" fill="none"/>
<path d="M84 326.7v3.9M87.4 326.7v3.9M90.8 326.7v3.9M94.2 326.7v3.9M97.61 326.7v3.9M101.01 326.7v3.9M104.41 326.7v3.9M107.81 326.7v3.9M111.21 326.7v3.9M114.61 326.7v3.9M118.02 326.7v3.9M121.42 326.7v3.9M124.82 326.7v3.9M128.22 326.7v3.9M131.62 326.7v3.9M135.02 326.7v3.9M138.43 326.7v3.9M141.83 326.7v3.9M145.23 326.7v3.9M148.63 326.7v3.9M152.03 326.7v3.9M155.43 326.7v3.9M158.84 326.7v3.9M162.24 326.7v3.9M165.64 326.7v3.9M169.04 326.7v3.9M172.44 326.7v3.9M175.84 326.7v3.9M179.24 326.7v3.9M182.65 326.7v3.9M186.05 326.7v3.9M189.45 326.7v3.9M192.85 326.7v3.9" stroke="#000" stroke-width="1.5" fill="none"/>
<path d="M82.8 326.7h-5.4M82.8 308.76h-5.4M82.8 290.82h-5.4M82.8 272.88h-5.4M82.8 254.94h-5.4M82.8 237h-5.4" stroke="#000" stroke-width="1.2" fill="none"/>
<path d="M82.8 324.46h-3.3M82.8 322.21h-3.3M82.8 319.97h-3.3M82.8 317.73h-3.3M82.8 315.49h-3.3M82.8 313.25h-3.3M82.8 311h-3.3M82.8 306.52h-3.3M82.8 304.27h-3.3M82.8 302.03h-3.3M82.8 299.79h-3.3M82.8 297.55h-3.3M82.8 295.31h-3.3M82.8 293.06h-3.3M82.8 288.58h-3.3M82.8 286.33h-3.3M82.8 284.09h-3.3M82.8 281.85h-3.3M82.8 279.61h-3.3M82.8 277.37h-3.3M82.8 275.12h-3.3M82.8 270.64h-3.3M82.8 268.39h-3.3M82.8 266.15h-3.3M82.8 263.91h-3.3M82.8 261.67h-3.3M82.8 259.43h-3.3M82.8 257.18h-3.3M82.8 252.7h-3.3M82.8 250.45h-3.3M82.8 248.21h-3.3M82.8 245.97h-3.3M82.8 243.73h-3.3M82.8 241.49h-3.3M82.8 239.24h-3.3" stroke="#000" stroke-width="1.0" fill="none"/>
<text x="84" y="336.4" class="t">0</text>
<text x="105.26" y="336.4" class="t">200</text>
<text x="126.52" y="336.4" class="t">400</text>
<text x="147.78" y="336.4" class="t">600</text>
<text x="169.04" y="336.4" class="t">800</text>
<text x="190.3" y="336.4" class="t">1000</text>
<text x="139" y="342.7" class="u">FL1-H</text>
<text transform="translate(76.3 324.5) rotate(-90)" class="t">0</text>
<text transform="translate(76.3 306.56) rotate(-90)" class="t">40</text>
<text transform="translate(76.3 288.62) rotate(-90)" class="t">80</text>
<text transform="translate(76.3 270.68) rotate(-90)" class="t">120</text>
<text transform="translate(76.3 252.74) rotate(-90)" class="t">160</text>
<text transform="translate(76.3 234.8) rotate(-90)" class="t">200</text>
<text transform="translate(69.4 282.35) rotate(-90)" class="u">Counts</text>
<clipPath id="c4"><rect x="82.8" y="236" width="111.4" height="91.3"/></clipPath>
<g clip-path="url(#c4)">
<path d="M82.8 326.7V281.15h1V282.09h1V294.53h1V321.15h1V311.44h1V301.01h1V291.75h1V282.75h1V274.91h1V273.06h1V271.47h1V269.01h1V265.9h1V272.19h1V273.31h1V275.49h1V275.91h1V286.92h1V290.53h1V296.91h1V304.11h1V308.49h1V311.77h1V315.06h1V316.11h1V318.21h1V320.35h1V321.74h1V322.59h1V323.33h1V323.4h1V324.09h1V324.62h1V324.91h1V325.24h1V325.24h1V325.38h1V325.56h1V325.88h1V326.2h1V326.14h1V326.34h1V326.51h1V326.68h1V326.7h1V326.7h1V326.7h1V326.7h1V326.7h1V326.7h1V326.7h1V326.7h1V326.7h1V326.7h1V326.7h1V326.7h1V326.7h1V326.7h1V326.7h1V326.7h1V326.7h1V326.7h1V326.7h1V326.7h1V326.7h1V326.7h1V326.7h1V326.7h1V326.7h1V326.7h1V326.7h1V326.7h1V326.7h1V326.7h1V326.7h1V326.7h1V326.7h1V326.7h1V326.7h1V326.7h1V326.7h1V326.7h1V326.7h1V326.7h1V326.7h1V326.7h1V326.7h1V326.7h1V326.7h1V326.7h1V326.7h1V326.7h1V326.7h1V326.7h1V326.7h1V326.7h1V326.7h1V326.7h1V326.7h1V326.7h1V326.7h1V326.7h1V326.7h1V326.7h1V326.7h1V326.7h1V326.7h1V326.7h1V326.7h1V326.7h1V326.7Z" fill="#000"/>
<path d="M82.8 326.7h1V326.7h1V326.7h1V326.7h1V326.7h1V326.7h1V326.7h1V326.7h1V326.7h1V326.7h1V326.7h1V326.7h1V326.7h1V326.7h1V326.7h1V326.7h1V326.7h1V326.7h1V326.7h1V316.81h1V316.99h1V316.57h1V314.63h1V313.51h1V312.53h1V310.46h1V311.33h1V313.28h1V314.51h1V314.96h1V315.91h1V316.39h1V317.54h1V317.15h1V316.71h1V317.09h1V317.84h1V317.24h1V317.34h1V317.2h1V317.08h1V317.69h1V317.32h1V317.44h1V316.41h1V316.2h1V315.3h1V314.52h1V313.93h1V312.86h1V310.61h1V307.1h1V304.44h1V303.09h1V298.28h1V293.82h1V291.31h1V283.88h1V283.75h1V286.49h1V290.7h1V289.89h1V288.39h1V289.55h1V291.92h1V291.09h1V292.28h1V295.58h1V298.85h1V302.79h1V307.06h1V311.92h1V316.61h1V318.34h1V321h1V323h1V323.66h1V323.83h1V323.71h1V324.35h1V324.39h1V324.88h1V325.24h1V325.51h1V325.52h1V325.61h1V325.51h1V325.66h1V325.66h1V325.68h1V325.67h1V325.55h1V325.67h1V325.5h1V325.63h1V325.72h1V325.82h1V325.71h1V325.64h1V325.77h1V325.74h1V325.58h1V325.67h1V325.7h1V325.87h1V325.63h1V325.81h1V325.65h1V325.87h1V325.79h1" fill="none" stroke="#000" stroke-width="2.3" stroke-linejoin="miter"/>
</g>
<text x="139.6" y="255.3" font-size="11" class="l" textLength="42.7" lengthAdjust="spacing">HLA-DR</text>
<text x="140.5" y="269" font-size="10" class="l" textLength="31.7" lengthAdjust="spacing">100%</text>
<rect x="234.8" y="238.3" width="113.7" height="88.4" fill="#fff" stroke="#000" stroke-width="1.3"/>
<path d="M234.4 237.8V327.2H350.5" fill="none" stroke="#000" stroke-width="2.2"/>
<path d="M236 326.7v5.4M257.92 326.7v5.4M279.84 326.7v5.4M301.76 326.7v5.4M323.68 326.7v5.4M345.6 326.7v5.4" stroke="#000" stroke-width="1.3" fill="none"/>
<path d="M236 326.7v3.9M239.51 326.7v3.9M243.01 326.7v3.9M246.52 326.7v3.9M250.03 326.7v3.9M253.54 326.7v3.9M257.04 326.7v3.9M260.55 326.7v3.9M264.06 326.7v3.9M267.56 326.7v3.9M271.07 326.7v3.9M274.58 326.7v3.9M278.09 326.7v3.9M281.59 326.7v3.9M285.1 326.7v3.9M288.61 326.7v3.9M292.12 326.7v3.9M295.62 326.7v3.9M299.13 326.7v3.9M302.64 326.7v3.9M306.14 326.7v3.9M309.65 326.7v3.9M313.16 326.7v3.9M316.67 326.7v3.9M320.17 326.7v3.9M323.68 326.7v3.9M327.19 326.7v3.9M330.69 326.7v3.9M334.2 326.7v3.9M337.71 326.7v3.9M341.22 326.7v3.9M344.72 326.7v3.9M348.23 326.7v3.9" stroke="#000" stroke-width="1.5" fill="none"/>
<path d="M234.8 326.7h-5.4M234.8 309.22h-5.4M234.8 291.74h-5.4M234.8 274.26h-5.4M234.8 256.78h-5.4M234.8 239.3h-5.4" stroke="#000" stroke-width="1.2" fill="none"/>
<path d="M234.8 324.51h-3.3M234.8 322.33h-3.3M234.8 320.14h-3.3M234.8 317.96h-3.3M234.8 315.77h-3.3M234.8 313.59h-3.3M234.8 311.4h-3.3M234.8 307.03h-3.3M234.8 304.85h-3.3M234.8 302.66h-3.3M234.8 300.48h-3.3M234.8 298.29h-3.3M234.8 296.11h-3.3M234.8 293.92h-3.3M234.8 289.56h-3.3M234.8 287.37h-3.3M234.8 285.19h-3.3M234.8 283h-3.3M234.8 280.81h-3.3M234.8 278.63h-3.3M234.8 276.44h-3.3M234.8 272.07h-3.3M234.8 269.89h-3.3M234.8 267.7h-3.3M234.8 265.52h-3.3M234.8 263.33h-3.3M234.8 261.15h-3.3M234.8 258.96h-3.3M234.8 254.59h-3.3M234.8 252.41h-3.3M234.8 250.22h-3.3M234.8 248.04h-3.3M234.8 245.85h-3.3M234.8 243.67h-3.3M234.8 241.48h-3.3" stroke="#000" stroke-width="1.0" fill="none"/>
<text x="236" y="336.4" class="t">0</text>
<text x="257.92" y="336.4" class="t">200</text>
<text x="279.84" y="336.4" class="t">400</text>
<text x="301.76" y="336.4" class="t">600</text>
<text x="323.68" y="336.4" class="t">800</text>
<text x="345.6" y="336.4" class="t">1000</text>
<text x="292.65" y="342.7" class="u">FL2-H</text>
<text transform="translate(228.3 324.5) rotate(-90)" class="t">0</text>
<text transform="translate(228.3 307.02) rotate(-90)" class="t">20</text>
<text transform="translate(228.3 289.54) rotate(-90)" class="t">40</text>
<text transform="translate(228.3 272.06) rotate(-90)" class="t">60</text>
<text transform="translate(228.3 254.58) rotate(-90)" class="t">80</text>
<text transform="translate(228.3 237.1) rotate(-90)" class="t">100</text>
<text transform="translate(221.4 283.5) rotate(-90)" class="u">Counts</text>
<clipPath id="c5"><rect x="234.8" y="238.3" width="114.7" height="89"/></clipPath>
<g clip-path="url(#c5)">
<path d="M234.8 326.7V282.32h1V283.83h1V302.06h1V298.59h1V298.78h1V297.28h1V296.75h1V295.49h1V285.38h1V285.25h1V282.38h1V279.21h1V278.6h1V263.71h1V268.93h1V256.27h1V268.22h1V275.18h1V263.21h1V275.26h1V266.74h1V272.36h1V270.19h1V273.65h1V265.81h1V276.07h1V275.23h1V280.56h1V282.19h1V283.24h1V287.93h1V283.69h1V294.61h1V294.41h1V293.89h1V298.1h1V298.67h1V305.73h1V310.5h1V305.58h1V309.44h1V306.4h1V309.79h1V315.16h1V313.42h1V315.07h1V314.89h1V315.28h1V319.8h1V317.57h1V318h1V319.85h1V322.04h1V321.78h1V321.11h1V322.76h1V323.84h1V325.2h1V324.87h1V323.31h1V322.81h1V323.95h1V323.69h1V324h1V324.63h1V324.53h1V324.5h1V324.54h1V324.21h1V324.57h1V324.13h1V324.55h1V324.28h1V324.43h1V324.63h1V324.17h1V323.96h1V324.28h1V323.81h1V324.42h1V323.73h1V323.79h1V324.4h1V324.61h1V324.4h1V325.1h1V324.98h1V325.47h1V325.57h1V325.94h1V325.46h1V325.81h1V326.12h1V325.93h1V326.02h1V326.01h1V326.12h1V326.11h1V325.75h1V325.83h1V325.54h1V325.87h1V325.85h1V325.75h1V325.74h1V325.67h1V325.48h1V325.38h1V324.36h1V324.23h1V323.98h1V323.74h1V324.54h1V326.7Z" fill="#000"/>
</g>
<text x="309.4" y="256.2" font-size="11" class="l" textLength="28.5" lengthAdjust="spacing">CD80</text>
<text x="309.4" y="270" font-size="10" class="l" textLength="18" lengthAdjust="spacing">0 %</text>
<rect x="84.45" y="475.8" width="107.75" height="92.6" fill="#fff" stroke="#000" stroke-width="1.3"/>
<path d="M84.05 475.3V568.9H194.2" fill="none" stroke="#000" stroke-width="2.2"/>
<path d="M85.65 568.4v5.4M106.38 568.4v5.4M127.11 568.4v5.4M147.84 568.4v5.4M168.57 568.4v5.4M189.3 568.4v5.4" stroke="#000" stroke-width="1.3" fill="none"/>
<path d="M85.65 568.4v3.9M88.97 568.4v3.9M92.28 568.4v3.9M95.6 568.4v3.9M98.92 568.4v3.9M102.23 568.4v3.9M105.55 568.4v3.9M108.87 568.4v3.9M112.18 568.4v3.9M115.5 568.4v3.9M118.82 568.4v3.9M122.13 568.4v3.9M125.45 568.4v3.9M128.77 568.4v3.9M132.09 568.4v3.9M135.4 568.4v3.9M138.72 568.4v3.9M142.04 568.4v3.9M145.35 568.4v3.9M148.67 568.4v3.9M151.99 568.4v3.9M155.3 568.4v3.9M158.62 568.4v3.9M161.94 568.4v3.9M165.25 568.4v3.9M168.57 568.4v3.9M171.89 568.4v3.9M175.2 568.4v3.9M178.52 568.4v3.9M181.84 568.4v3.9M185.15 568.4v3.9M188.47 568.4v3.9M191.79 568.4v3.9" stroke="#000" stroke-width="1.5" fill="none"/>
<path d="M84.45 568.4h-5.4M84.45 550.08h-5.4M84.45 531.76h-5.4M84.45 513.44h-5.4M84.45 495.12h-5.4M84.45 476.8h-5.4" stroke="#000" stroke-width="1.2" fill="none"/>
<path d="M84.45 566.11h-3.3M84.45 563.82h-3.3M84.45 561.53h-3.3M84.45 559.24h-3.3M84.45 556.95h-3.3M84.45 554.66h-3.3M84.45 552.37h-3.3M84.45 547.79h-3.3M84.45 545.5h-3.3M84.45 543.21h-3.3M84.45 540.92h-3.3M84.45 538.63h-3.3M84.45 536.34h-3.3M84.45 534.05h-3.3M84.45 529.47h-3.3M84.45 527.18h-3.3M84.45 524.89h-3.3M84.45 522.6h-3.3M84.45 520.31h-3.3M84.45 518.02h-3.3M84.45 515.73h-3.3M84.45 511.15h-3.3M84.45 508.86h-3.3M84.45 506.57h-3.3M84.45 504.28h-3.3M84.45 501.99h-3.3M84.45 499.7h-3.3M84.45 497.41h-3.3M84.45 492.83h-3.3M84.45 490.54h-3.3M84.45 488.25h-3.3M84.45 485.96h-3.3M84.45 483.67h-3.3M84.45 481.38h-3.3M84.45 479.09h-3.3" stroke="#000" stroke-width="1.0" fill="none"/>
<text x="85.65" y="578.1" class="t">0</text>
<text x="106.38" y="578.1" class="t">200</text>
<text x="127.11" y="578.1" class="t">400</text>
<text x="147.84" y="578.1" class="t">600</text>
<text x="168.57" y="578.1" class="t">800</text>
<text x="189.3" y="578.1" class="t">1000</text>
<text x="139.32" y="584.4" class="u">FL1-H</text>
<text transform="translate(77.95 566.2) rotate(-90)" class="t">0</text>
<text transform="translate(77.95 547.88) rotate(-90)" class="t">20</text>
<text transform="translate(77.95 529.56) rotate(-90)" class="t">40</text>
<text transform="translate(77.95 511.24) rotate(-90)" class="t">60</text>
<text transform="translate(77.95 492.92) rotate(-90)" class="t">80</text>
<text transform="translate(77.95 474.6) rotate(-90)" class="t">100</text>
<text transform="translate(71.05 523.1) rotate(-90)" class="u">Counts</text>
<clipPath id="c6"><rect x="84.45" y="475.8" width="108.75" height="93.2"/></clipPath>
<g clip-path="url(#c6)">
<path d="M84.45 568.4V561.32h1V562.59h1V565.85h1V566.65h1V566.08h1V563.95h1V563.01h1V561.57h1V558.88h1V556.79h1V552.03h1V547h1V540.66h1V536.87h1V530.72h1V527.31h1V518.6h1V514.29h1V513.26h1V503.72h1V507.74h1V502.21h1V501.12h1V505.49h1V506.33h1V505.33h1V506.53h1V512.02h1V516.92h1V520.91h1V529.02h1V535.4h1V542.42h1V548.81h1V554.75h1V556.44h1V560.97h1V564.51h1V567.11h1V568.4h1V568.4h1V568.4h1V568.4h1V568.4h1V568.4h1V568.4h1V568.4h1V568.4h1V568.4h1V568.4h1V568.4h1V568.4h1V568.4h1V568.4h1V568.4h1V568.4h1V568.4h1V568.4h1V568.4h1V568.4h1V568.4h1V568.4h1V568.4h1V568.4h1V568.4h1V568.4h1V568.4h1V568.4h1V568.4h1V568.4h1V568.4h1V568.4h1V568.4h1V568.4h1V568.4h1V568.4h1V568.4h1V568.4h1V568.4h1V568.4h1V568.4h1V568.4h1V568.4h1V568.4h1V568.4h1V568.4h1V568.4h1V568.4h1V568.4h1V568.4h1V568.4h1V568.4h1V568.4h1V568.4h1V568.4h1V568.4h1V568.4h1V568.4h1V568.4h1V568.4h1V568.4h1V568.4h1V568.4h1V568.4h1V568.4h1V568.4h1V568.4h1V568.4Z" fill="#000"/>
<path d="M84.45 568.4h1V568.4h1V568.4h1V568.4h1V568.4h1V568.4h1V568.4h1V568.4h1V568.4h1V568.4h1V568.4h1V568.4h1V568.4h1V568.4h1V568.4h1V568.4h1V568.4h1V568.4h1V568.4h1V568.4h1V568.4h1V568.4h1V497.61h1V506.66h1V508.51h1V504.05h1V508.97h1V506.79h1V507.29h1V512.3h1V509.1h1V510.75h1V517.69h1V524.55h1V524.39h1V528.01h1V533.91h1V539.38h1V543.25h1V546.31h1V551.55h1V550.53h1V552.73h1V553.62h1V554.61h1V555.43h1V556.64h1V556.76h1V557.91h1V559.78h1V560.47h1V560.18h1V562.01h1V562.57h1V562.99h1V563.03h1V563.46h1V564.49h1V564.69h1V564.37h1V565.15h1V565.66h1V564.93h1V565.46h1V565.68h1V565.89h1V566.24h1V565.9h1V566.29h1V566.52h1V566.48h1V566.56h1V566.82h1V566.98h1V567.04h1V567h1V567.05h1V566.9h1V567.19h1V567.05h1V567.1h1V567.04h1V567.09h1V567.13h1V567.2h1V567.25h1V567.2h1V567.1h1V567.14h1V567.15h1V567.12h1V567.24h1V567.15h1V567.28h1V567.21h1V567.2h1V567.41h1V567.25h1V567.32h1V567.31h1V567.47h1V567.51h1V567.46h1V567.65h1V567.3h1V567.43h1V567.36h1" fill="none" stroke="#000" stroke-width="2.3" stroke-linejoin="miter"/>
</g>
<text x="163.8" y="497.6" font-size="13" class="l" textLength="18.2" lengthAdjust="spacing">0%</text>
<rect x="242.45" y="477.4" width="109.45" height="92.7" fill="#fff" stroke="#000" stroke-width="1.3"/>
<path d="M242.05 476.9V570.6H353.9" fill="none" stroke="#000" stroke-width="2.2"/>
<path d="M243.65 570.1v5.4M264.72 570.1v5.4M285.79 570.1v5.4M306.86 570.1v5.4M327.93 570.1v5.4M349 570.1v5.4" stroke="#000" stroke-width="1.3" fill="none"/>
<path d="M243.65 570.1v3.9M247.02 570.1v3.9M250.39 570.1v3.9M253.76 570.1v3.9M257.13 570.1v3.9M260.51 570.1v3.9M263.88 570.1v3.9M267.25 570.1v3.9M270.62 570.1v3.9M273.99 570.1v3.9M277.36 570.1v3.9M280.73 570.1v3.9M284.1 570.1v3.9M287.48 570.1v3.9M290.85 570.1v3.9M294.22 570.1v3.9M297.59 570.1v3.9M300.96 570.1v3.9M304.33 570.1v3.9M307.7 570.1v3.9M311.07 570.1v3.9M314.45 570.1v3.9M317.82 570.1v3.9M321.19 570.1v3.9M324.56 570.1v3.9M327.93 570.1v3.9M331.3 570.1v3.9M334.67 570.1v3.9M338.04 570.1v3.9M341.41 570.1v3.9M344.79 570.1v3.9M348.16 570.1v3.9M351.53 570.1v3.9" stroke="#000" stroke-width="1.5" fill="none"/>
<path d="M242.45 570.1h-5.4M242.45 551.76h-5.4M242.45 533.42h-5.4M242.45 515.08h-5.4M242.45 496.74h-5.4M242.45 478.4h-5.4" stroke="#000" stroke-width="1.2" fill="none"/>
<path d="M242.45 567.81h-3.3M242.45 565.51h-3.3M242.45 563.22h-3.3M242.45 560.93h-3.3M242.45 558.64h-3.3M242.45 556.35h-3.3M242.45 554.05h-3.3M242.45 549.47h-3.3M242.45 547.17h-3.3M242.45 544.88h-3.3M242.45 542.59h-3.3M242.45 540.3h-3.3M242.45 538h-3.3M242.45 535.71h-3.3M242.45 531.13h-3.3M242.45 528.83h-3.3M242.45 526.54h-3.3M242.45 524.25h-3.3M242.45 521.96h-3.3M242.45 519.66h-3.3M242.45 517.37h-3.3M242.45 512.79h-3.3M242.45 510.5h-3.3M242.45 508.2h-3.3M242.45 505.91h-3.3M242.45 503.62h-3.3M242.45 501.33h-3.3M242.45 499.03h-3.3M242.45 494.45h-3.3M242.45 492.16h-3.3M242.45 489.86h-3.3M242.45 487.57h-3.3M242.45 485.28h-3.3M242.45 482.99h-3.3M242.45 480.69h-3.3" stroke="#000" stroke-width="1.0" fill="none"/>
<text x="243.65" y="579.8" class="t">0</text>
<text x="264.72" y="579.8" class="t">200</text>
<text x="285.79" y="579.8" class="t">400</text>
<text x="306.86" y="579.8" class="t">600</text>
<text x="327.93" y="579.8" class="t">800</text>
<text x="349" y="579.8" class="t">1000</text>
<text x="298.17" y="586.1" class="u">FL1-H</text>
<text transform="translate(235.95 567.9) rotate(-90)" class="t">0</text>
<text transform="translate(235.95 549.56) rotate(-90)" class="t">20</text>
<text transform="translate(235.95 531.22) rotate(-90)" class="t">40</text>
<text transform="translate(235.95 512.88) rotate(-90)" class="t">60</text>
<text transform="translate(235.95 494.54) rotate(-90)" class="t">80</text>
<text transform="translate(235.95 476.2) rotate(-90)" class="t">100</text>
<text transform="translate(229.05 524.75) rotate(-90)" class="u">Counts</text>
<clipPath id="c7"><rect x="242.45" y="477.4" width="110.45" height="93.3"/></clipPath>
<g clip-path="url(#c7)">
<path d="M242.45 570.1V551.61h1V557.39h1V566.73h1V566.73h1V566.35h1V563.24h1V560.65h1V556.08h1V554.05h1V549.18h1V543.87h1V539.61h1V536.12h1V533.82h1V528.77h1V527.94h1V524.37h1V522.06h1V524.02h1V523.19h1V523.62h1V520.2h1V516.92h1V518.7h1V511.31h1V511.16h1V518.77h1V518.18h1V527.95h1V541.1h1V549.76h1V558.05h1V565.22h1V567.34h1V568.57h1V569.6h1V570.1h1V570.1h1V570.1h1V570.1h1V570.1h1V570.1h1V570.1h1V570.1h1V570.1h1V570.1h1V570.1h1V570.1h1V570.1h1V570.1h1V570.1h1V570.1h1V570.1h1V570.1h1V570.1h1V570.1h1V570.1h1V570.1h1V570.1h1V570.1h1V570.1h1V570.1h1V570.1h1V570.1h1V570.1h1V570.1h1V570.1h1V570.1h1V570.1h1V570.1h1V570.1h1V570.1h1V570.1h1V570.1h1V570.1h1V570.1h1V570.1h1V570.1h1V570.1h1V570.1h1V570.1h1V570.1h1V570.1h1V570.1h1V570.1h1V570.1h1V570.1h1V570.1h1V570.1h1V570.1h1V570.1h1V570.1h1V570.1h1V570.1h1V570.1h1V570.1h1V570.1h1V570.1h1V570.1h1V570.1h1V570.1h1V570.1h1V570.1h1V570.1h1V570.1h1V570.1h1V570.1h1V570.1h1V570.1h1V570.1Z" fill="#000"/>
<path d="M242.45 570.1h1V570.1h1V570.1h1V570.1h1V570.1h1V570.1h1V570.1h1V570.1h1V570.1h1V570.1h1V570.1h1V570.1h1V570.1h1V570.1h1V570.1h1V570.1h1V570.1h1V570.1h1V570.1h1V570.1h1V570.1h1V570.1h1V570.1h1V570.1h1V519.68h1V514.66h1V517.87h1V513.71h1V518.23h1V520.41h1V527.22h1V535.03h1V536.72h1V545.41h1V547.88h1V550.79h1V553.16h1V554.13h1V555.84h1V557.03h1V558.42h1V558.09h1V559.29h1V559.26h1V560.91h1V561.05h1V561.25h1V561.94h1V562.63h1V562.57h1V563.54h1V564.02h1V564.73h1V565.2h1V565.38h1V565.52h1V566.38h1V566.24h1V566.71h1V567.5h1V567.37h1V567.53h1V567.82h1V568.01h1V567.94h1V568.37h1V568.5h1V568.85h1V568.85h1V568.9h1V568.83h1V569.1h1V568.97h1V569.17h1V569.08h1V569.1h1V568.92h1V569.02h1V568.98h1V568.91h1V569.02h1V569.02h1V569.03h1V568.99h1V569h1V569.25h1V569.12h1V569.23h1V568.96h1V569.09h1V569.18h1V568.93h1V569h1V569.07h1V569.07h1V569.16h1V569.06h1V569.14h1V568.96h1V569.08h1V569.08h1V569.12h1V569.11h1V569.26h1V569.15h1V569.19h1V569.09h1V569.05h1V569.09h1" fill="none" stroke="#000" stroke-width="2.3" stroke-linejoin="miter"/>
</g>
<text x="316.1" y="497.2" font-size="13" class="l" textLength="18.1" lengthAdjust="spacing">0%</text>
<rect x="399.7" y="478.8" width="108.8" height="91.3" fill="#fff" stroke="#000" stroke-width="1.3"/>
<path d="M399.3 478.3V570.6H510.5" fill="none" stroke="#000" stroke-width="2.2"/>
<path d="M400.9 570.1v5.4M421.84 570.1v5.4M442.78 570.1v5.4M463.72 570.1v5.4M484.66 570.1v5.4M505.6 570.1v5.4" stroke="#000" stroke-width="1.3" fill="none"/>
<path d="M400.9 570.1v3.9M404.25 570.1v3.9M407.6 570.1v3.9M410.95 570.1v3.9M414.3 570.1v3.9M417.65 570.1v3.9M421 570.1v3.9M424.35 570.1v3.9M427.7 570.1v3.9M431.05 570.1v3.9M434.4 570.1v3.9M437.75 570.1v3.9M441.1 570.1v3.9M444.46 570.1v3.9M447.81 570.1v3.9M451.16 570.1v3.9M454.51 570.1v3.9M457.86 570.1v3.9M461.21 570.1v3.9M464.56 570.1v3.9M467.91 570.1v3.9M471.26 570.1v3.9M474.61 570.1v3.9M477.96 570.1v3.9M481.31 570.1v3.9M484.66 570.1v3.9M488.01 570.1v3.9M491.36 570.1v3.9M494.71 570.1v3.9M498.06 570.1v3.9M501.41 570.1v3.9M504.76 570.1v3.9M508.11 570.1v3.9" stroke="#000" stroke-width="1.5" fill="none"/>
<path d="M399.7 570.1h-5.4M399.7 555.05h-5.4M399.7 540h-5.4M399.7 524.95h-5.4M399.7 509.9h-5.4M399.7 494.85h-5.4M399.7 479.8h-5.4" stroke="#000" stroke-width="1.2" fill="none"/>
<path d="M399.7 567.59h-3.3M399.7 565.08h-3.3M399.7 562.58h-3.3M399.7 560.07h-3.3M399.7 557.56h-3.3M399.7 552.54h-3.3M399.7 550.03h-3.3M399.7 547.53h-3.3M399.7 545.02h-3.3M399.7 542.51h-3.3M399.7 537.49h-3.3M399.7 534.98h-3.3M399.7 532.48h-3.3M399.7 529.97h-3.3M399.7 527.46h-3.3M399.7 522.44h-3.3M399.7 519.93h-3.3M399.7 517.43h-3.3M399.7 514.92h-3.3M399.7 512.41h-3.3M399.7 507.39h-3.3M399.7 504.88h-3.3M399.7 502.38h-3.3M399.7 499.87h-3.3M399.7 497.36h-3.3M399.7 492.34h-3.3M399.7 489.83h-3.3M399.7 487.33h-3.3M399.7 484.82h-3.3M399.7 482.31h-3.3" stroke="#000" stroke-width="1.0" fill="none"/>
<text x="400.9" y="579.8" class="t">0</text>
<text x="421.84" y="579.8" class="t">200</text>
<text x="442.78" y="579.8" class="t">400</text>
<text x="463.72" y="579.8" class="t">600</text>
<text x="484.66" y="579.8" class="t">800</text>
<text x="505.6" y="579.8" class="t">1000</text>
<text x="455.1" y="586.1" class="u">FL1-H</text>
<text transform="translate(393.2 567.9) rotate(-90)" class="t">0</text>
<text transform="translate(393.2 552.85) rotate(-90)" class="t">10</text>
<text transform="translate(393.2 537.8) rotate(-90)" class="t">20</text>
<text transform="translate(393.2 522.75) rotate(-90)" class="t">30</text>
<text transform="translate(393.2 507.7) rotate(-90)" class="t">40</text>
<text transform="translate(393.2 492.65) rotate(-90)" class="t">50</text>
<text transform="translate(393.2 477.6) rotate(-90)" class="t">60</text>
<text transform="translate(386.3 525.45) rotate(-90)" class="u">Counts</text>
<clipPath id="c8"><rect x="399.7" y="478.8" width="109.8" height="91.9"/></clipPath>
<g clip-path="url(#c8)">
<path d="M399.7 570.1V529.95h1V535.79h1V549.89h1V549.49h1V552.79h1V552.12h1V544.73h1V544.44h1V545.48h1V552.5h1V550.58h1V541.95h1V532.17h1V535.57h1V528.96h1V534.64h1V526.21h1V526.92h1V517.48h1V511.35h1V523.8h1V512.05h1V524.31h1V511.71h1V514.35h1V531.83h1V527.71h1V532.78h1V542.5h1V533.25h1V548.82h1V545.96h1V547.72h1V551.5h1V555.73h1V555.78h1V558.75h1V563.92h1V559.53h1V561.77h1V562.98h1V561.65h1V562.44h1V564.3h1V565.16h1V564.25h1V563.56h1V564.48h1V565.96h1V564.87h1V564.78h1V565.14h1V566.1h1V565.41h1V565.81h1V565.68h1V565.15h1V565.21h1V563.46h1V566.09h1V567.13h1V566.4h1V565.16h1V566.51h1V566.71h1V567.69h1V566.72h1V566.52h1V567.28h1V567.87h1V567.68h1V567.78h1V567.04h1V568.39h1V568.47h1V567.99h1V568.69h1V568.06h1V568.32h1V568.21h1V568.23h1V569.18h1V568.41h1V568.64h1V569.31h1V568.76h1V568.69h1V568.52h1V568.77h1V568.46h1V569.01h1V569.07h1V569.6h1V569.47h1V569.88h1V570.1h1V570.1h1V570.1h1V570.1h1V570.1h1V570.1h1V570.1h1V570.1h1V570.1h1V570.1h1V570.1h1V570.1h1V570.1h1V570.1Z" fill="#000"/>
<path d="M399.7 570.1h1V570.1h1V570.1h1V570.1h1V570.1h1V570.1h1V570.1h1V570.1h1V570.1h1V570.1h1V570.1h1V570.1h1V570.1h1V570.1h1V570.1h1V570.1h1V570.1h1V570.1h1V570.1h1V527.57h1V517.34h1V507.7h1V514.17h1V507.79h1V516.82h1V516.82h1V520.09h1V525.47h1V518.12h1V528.03h1V529.05h1V532.21h1V536.28h1V541.86h1V542.74h1V542.3h1V545.69h1V551.44h1V556.36h1V553.96h1V555.41h1V558.37h1V560.19h1V560.37h1V562.51h1V562.4h1V563.44h1V562.72h1V563.3h1V564.13h1V564.87h1V564.1h1V565.08h1V565.77h1V565.11h1V564.6h1V565.67h1V566.9h1V566.59h1V565.49h1V567.06h1V567.71h1V565.88h1V566.13h1V566.77h1V567.14h1V567.29h1V567.78h1V567.28h1V567.19h1V568.19h1V567.77h1V567.68h1V567.61h1V567.92h1V567.97h1V567.81h1V568.01h1V567.92h1V568.56h1V568.47h1V568.44h1V568.45h1V568.51h1V568.82h1V568.87h1V568.6h1V568.45h1V569.05h1V569.11h1V569.2h1V569.55h1V569.35h1V569.49h1V569.58h1V570.1h1V570.1h1V570.1h1V570.1h1V570.1h1V570.1h1V570.1h1V570.1h1V570.1h1V570.1h1V570.1h1V570.1h1V570.1h1" fill="none" stroke="#000" stroke-width="1.71" stroke-linejoin="miter"/>
<path d="M399.7 570.1h1V570.1h1V570.1h1V570.1h1V570.1h1V570.1h1V570.1h1V570.1h1V570.1h1V570.1h1V570.1h1V570.1h1V570.1h1V570.1h1V570.1h1V570.1h1V570.1h1V530.3h1V529.29h1V523.29h1V521.67h1V514.63h1V519h1V520.26h1V527.13h1V530.72h1V535.96h1V535.26h1V541.39h1V542.65h1V547.08h1V554.4h1V558.32h1V560.93h1V560.91h1V563.09h1V564.27h1V565.4h1V564.06h1V564.71h1V566.68h1V567.21h1V567.29h1V567.42h1V567.91h1V567.77h1V568.59h1V568.84h1V568.57h1V568.85h1V569.26h1V569.46h1V569.85h1V570.1h1V570.1h1V570.1h1V570.1h1V570.1h1V570.1h1V570.1h1V570.1h1V570.1h1V570.1h1V570.1h1V570.1h1V570.1h1V570.1h1V570.1h1V570.1h1V570.1h1V570.1h1V570.1h1V570.1h1V570.1h1V570.1h1V570.1h1V570.1h1V570.1h1V570.1h1V570.1h1V570.1h1V570.1h1V570.1h1V570.1h1V570.1h1V570.1h1V570.1h1V570.1h1V570.1h1V570.1h1V570.1h1V570.1h1V570.1h1V570.1h1V570.1h1V570.1h1V570.1h1V570.1h1V570.1h1V570.1h1V570.1h1V570.1h1V570.1h1V570.1h1V570.1h1V570.1h1V570.1h1V570.1h1" fill="none" stroke="#000" stroke-width="1.71" stroke-linejoin="miter"/>
</g>
<text x="477.5" y="501.6" font-size="13" class="l" textLength="18.5" lengthAdjust="spacing">0%</text>
<rect x="84.7" y="608.2" width="107.9" height="86.55" fill="#fff" stroke="#000" stroke-width="1.3"/>
<path d="M84.3 607.7V695.25H194.6" fill="none" stroke="#000" stroke-width="2.2"/>
<path d="M85.9 694.75v5.4M106.66 694.75v5.4M127.42 694.75v5.4M148.18 694.75v5.4M168.94 694.75v5.4M189.7 694.75v5.4" stroke="#000" stroke-width="1.3" fill="none"/>
<path d="M85.9 694.75v3.9M89.22 694.75v3.9M92.54 694.75v3.9M95.86 694.75v3.9M99.19 694.75v3.9M102.51 694.75v3.9M105.83 694.75v3.9M109.15 694.75v3.9M112.47 694.75v3.9M115.79 694.75v3.9M119.12 694.75v3.9M122.44 694.75v3.9M125.76 694.75v3.9M129.08 694.75v3.9M132.4 694.75v3.9M135.72 694.75v3.9M139.05 694.75v3.9M142.37 694.75v3.9M145.69 694.75v3.9M149.01 694.75v3.9M152.33 694.75v3.9M155.65 694.75v3.9M158.98 694.75v3.9M162.3 694.75v3.9M165.62 694.75v3.9M168.94 694.75v3.9M172.26 694.75v3.9M175.58 694.75v3.9M178.9 694.75v3.9M182.23 694.75v3.9M185.55 694.75v3.9M188.87 694.75v3.9M192.19 694.75v3.9" stroke="#000" stroke-width="1.5" fill="none"/>
<path d="M84.7 694.75h-5.4M84.7 677.64h-5.4M84.7 660.53h-5.4M84.7 643.42h-5.4M84.7 626.31h-5.4M84.7 609.2h-5.4" stroke="#000" stroke-width="1.2" fill="none"/>
<path d="M84.7 692.61h-3.3M84.7 690.47h-3.3M84.7 688.33h-3.3M84.7 686.2h-3.3M84.7 684.06h-3.3M84.7 681.92h-3.3M84.7 679.78h-3.3M84.7 675.5h-3.3M84.7 673.36h-3.3M84.7 671.22h-3.3M84.7 669.09h-3.3M84.7 666.95h-3.3M84.7 664.81h-3.3M84.7 662.67h-3.3M84.7 658.39h-3.3M84.7 656.25h-3.3M84.7 654.11h-3.3M84.7 651.98h-3.3M84.7 649.84h-3.3M84.7 647.7h-3.3M84.7 645.56h-3.3M84.7 641.28h-3.3M84.7 639.14h-3.3M84.7 637h-3.3M84.7 634.87h-3.3M84.7 632.73h-3.3M84.7 630.59h-3.3M84.7 628.45h-3.3M84.7 624.17h-3.3M84.7 622.03h-3.3M84.7 619.89h-3.3M84.7 617.76h-3.3M84.7 615.62h-3.3M84.7 613.48h-3.3M84.7 611.34h-3.3" stroke="#000" stroke-width="1.0" fill="none"/>
<text x="85.9" y="704.45" class="t">0</text>
<text x="106.66" y="704.45" class="t">200</text>
<text x="127.42" y="704.45" class="t">400</text>
<text x="148.18" y="704.45" class="t">600</text>
<text x="168.94" y="704.45" class="t">800</text>
<text x="189.7" y="704.45" class="t">1000</text>
<text x="139.65" y="710.75" class="u">FL2-H</text>
<text transform="translate(78.2 692.55) rotate(-90)" class="t">0</text>
<text transform="translate(78.2 675.44) rotate(-90)" class="t">20</text>
<text transform="translate(78.2 658.33) rotate(-90)" class="t">40</text>
<text transform="translate(78.2 641.22) rotate(-90)" class="t">60</text>
<text transform="translate(78.2 624.11) rotate(-90)" class="t">80</text>
<text transform="translate(78.2 607) rotate(-90)" class="t">100</text>
<text transform="translate(71.3 652.48) rotate(-90)" class="u">Counts</text>
<clipPath id="c9"><rect x="84.7" y="608.2" width="108.9" height="87.15"/></clipPath>
<g clip-path="url(#c9)">
<path d="M84.7 694.75V679.7h1V677.75h1V677.61h1V677.67h1V676.8h1V668.56h1V664.12h1V657.75h1V651.86h1V651.01h1V644.55h1V638.56h1V636.39h1V642.07h1V642.94h1V644.25h1V647.43h1V648.61h1V652.97h1V657.47h1V657.93h1V662.04h1V666.18h1V670.98h1V671.89h1V674.12h1V678.01h1V682.17h1V683.23h1V685.14h1V687.18h1V689.79h1V690.29h1V691.41h1V691.17h1V692.55h1V693.48h1V693.79h1V694.02h1V694.33h1V694.43h1V694.56h1V694.73h1V694.75h1V694.75h1V694.75h1V694.75h1V694.75h1V694.75h1V694.75h1V694.75h1V694.75h1V694.75h1V694.75h1V694.75h1V694.75h1V694.75h1V694.75h1V694.75h1V694.75h1V694.75h1V694.75h1V694.75h1V694.75h1V694.75h1V694.75h1V694.75h1V694.75h1V694.75h1V694.75h1V694.75h1V694.75h1V694.75h1V694.75h1V694.75h1V694.75h1V694.75h1V694.75h1V694.75h1V694.75h1V694.75h1V694.75h1V694.75h1V694.75h1V694.75h1V694.75h1V694.75h1V694.75h1V694.75h1V694.75h1V694.75h1V694.75h1V694.75h1V694.75h1V694.75h1V694.75h1V694.75h1V694.75h1V694.75h1V694.75h1V694.75h1V694.75h1V694.75h1V694.75h1V694.75h1V694.75h1V694.75h1V694.75Z" fill="#000"/>
<path d="M84.7 694.75h1V694.75h1V694.75h1V694.75h1V694.75h1V694.75h1V694.75h1V694.75h1V694.75h1V694.75h1V694.75h1V694.75h1V694.75h1V694.75h1V694.75h1V694.75h1V694.75h1V694.75h1V659.97h1V660.63h1V662.5h1V660.24h1V660.23h1V661.6h1V662.27h1V659.88h1V659.01h1V657.21h1V657.9h1V657.24h1V656.26h1V654.97h1V657.36h1V655.75h1V656.88h1V653.67h1V648.04h1V652.79h1V655.62h1V659.62h1V661.77h1V667.39h1V667.05h1V671.74h1V674.95h1V680.82h1V683.92h1V685.66h1V687.5h1V690.11h1V690.84h1V691.28h1V692.04h1V692.58h1V693.16h1V693.42h1V693.51h1V693.48h1V693.6h1V693.67h1V693.34h1V693.56h1V693.63h1V693.58h1V693.7h1V693.51h1V693.66h1V693.73h1V693.71h1V693.57h1V693.63h1V693.55h1V693.82h1V692.93h1V692.54h1V693.47h1V693.67h1V693.77h1V693.66h1V693.76h1V693.65h1V693.66h1V693.64h1V693.95h1V693.7h1V693.69h1V693.63h1V693.71h1V693.74h1V693.76h1V693.75h1V693.82h1V693.76h1V693.75h1V693.84h1V693.83h1V693.8h1V693.85h1V693.69h1V693.89h1V693.8h1V693.74h1V693.81h1V693.89h1V693.93h1V693.86h1V693.84h1" fill="none" stroke="#000" stroke-width="2.3" stroke-linejoin="miter"/>
</g>
<text x="156.8" y="629.3" font-size="12.7" class="l" textLength="25.9" lengthAdjust="spacing">70%</text>
<rect x="237.1" y="606.5" width="110.1" height="88.25" fill="#fff" stroke="#000" stroke-width="1.3"/>
<path d="M236.7 606V695.25H349.2" fill="none" stroke="#000" stroke-width="2.2"/>
<path d="M238.1 694.75v5.4M258.98 694.75v5.4M279.86 694.75v5.4M300.74 694.75v5.4M321.62 694.75v5.4M342.5 694.75v5.4" stroke="#000" stroke-width="1.3" fill="none"/>
<path d="M238.1 694.75v3.9M241.44 694.75v3.9M244.78 694.75v3.9M248.12 694.75v3.9M251.46 694.75v3.9M254.8 694.75v3.9M258.14 694.75v3.9M261.49 694.75v3.9M264.83 694.75v3.9M268.17 694.75v3.9M271.51 694.75v3.9M274.85 694.75v3.9M278.19 694.75v3.9M281.53 694.75v3.9M284.87 694.75v3.9M288.21 694.75v3.9M291.55 694.75v3.9M294.89 694.75v3.9M298.23 694.75v3.9M301.58 694.75v3.9M304.92 694.75v3.9M308.26 694.75v3.9M311.6 694.75v3.9M314.94 694.75v3.9M318.28 694.75v3.9M321.62 694.75v3.9M324.96 694.75v3.9M328.3 694.75v3.9M331.64 694.75v3.9M334.98 694.75v3.9M338.32 694.75v3.9M341.66 694.75v3.9M345.01 694.75v3.9" stroke="#000" stroke-width="1.5" fill="none"/>
<path d="M237.1 694.75h-5.4M237.1 677.3h-5.4M237.1 659.85h-5.4M237.1 642.4h-5.4M237.1 624.95h-5.4M237.1 607.5h-5.4" stroke="#000" stroke-width="1.2" fill="none"/>
<path d="M237.1 692.57h-3.3M237.1 690.39h-3.3M237.1 688.21h-3.3M237.1 686.02h-3.3M237.1 683.84h-3.3M237.1 681.66h-3.3M237.1 679.48h-3.3M237.1 675.12h-3.3M237.1 672.94h-3.3M237.1 670.76h-3.3M237.1 668.57h-3.3M237.1 666.39h-3.3M237.1 664.21h-3.3M237.1 662.03h-3.3M237.1 657.67h-3.3M237.1 655.49h-3.3M237.1 653.31h-3.3M237.1 651.12h-3.3M237.1 648.94h-3.3M237.1 646.76h-3.3M237.1 644.58h-3.3M237.1 640.22h-3.3M237.1 638.04h-3.3M237.1 635.86h-3.3M237.1 633.67h-3.3M237.1 631.49h-3.3M237.1 629.31h-3.3M237.1 627.13h-3.3M237.1 622.77h-3.3M237.1 620.59h-3.3M237.1 618.41h-3.3M237.1 616.23h-3.3M237.1 614.04h-3.3M237.1 611.86h-3.3M237.1 609.68h-3.3" stroke="#000" stroke-width="1.0" fill="none"/>
<text x="238.1" y="704.45" class="t">0</text>
<text x="258.98" y="704.45" class="t">50</text>
<text x="279.86" y="704.45" class="t">100</text>
<text x="300.74" y="704.45" class="t">150</text>
<text x="321.62" y="704.45" class="t">200</text>
<text x="342.5" y="704.45" class="t">250</text>
<text x="293.15" y="710.75" class="u">FL2-H</text>
<text transform="translate(230.6 692.55) rotate(-90)" class="t">0</text>
<text transform="translate(230.6 675.1) rotate(-90)" class="t">20</text>
<text transform="translate(230.6 657.65) rotate(-90)" class="t">40</text>
<text transform="translate(230.6 640.2) rotate(-90)" class="t">60</text>
<text transform="translate(230.6 622.75) rotate(-90)" class="t">80</text>
<text transform="translate(230.6 605.3) rotate(-90)" class="t">100</text>
<text transform="translate(223.7 651.62) rotate(-90)" class="u">Counts</text>
<clipPath id="c10"><rect x="237.1" y="606.5" width="111.1" height="88.85"/></clipPath>
<g clip-path="url(#c10)">
<path d="M237.1 694.75V610.85h1V609.25h1V606.5h1V608.14h1V624.78h1V620.72h1V620.4h1V618.66h1V634.33h1V640.59h1V641.53h1V635.9h1V628.33h1V638.25h1V638.17h1V648.98h1V653.26h1V651.35h1V651.58h1V658.71h1V658.45h1V661.85h1V666.48h1V667.04h1V667.52h1V671.18h1V672.61h1V674.25h1V674.24h1V675.39h1V677.27h1V676.93h1V677h1V677.93h1V679.05h1V677.98h1V678.17h1V676.76h1V678.35h1V677.44h1V679.4h1V678.22h1V678.4h1V679.19h1V681.08h1V682.56h1V683.23h1V684.76h1V685.32h1V686.85h1V687.19h1V687.68h1V688.78h1V688.99h1V689.1h1V689.55h1V689.61h1V690.03h1V689.64h1V690.11h1V688.83h1V689.75h1V689.63h1V689.18h1V689.47h1V689.21h1V689.66h1V688.02h1V689.53h1V688.55h1V688.95h1V689.64h1V688.26h1V688.31h1V689.19h1V690.46h1V692.53h1V693.04h1V692.79h1V692.67h1V692.41h1V692.34h1V692.69h1V692.04h1V691.35h1V691.33h1V690.88h1V693.02h1V694.59h1V694.75h1V694.75h1V694.75h1V694.75h1V694.75h1V694.75h1V694.75h1V694.75h1V694.75h1V694.75h1V694.75h1V694.75h1V694.75h1V694.75h1V694.75h1V694.75h1V694.75h1V694.75h1V694.75h1V694.75h1V694.75Z" fill="#000"/>
<path d="M237.1 694.75h1V694.75h1V694.75h1V694.75h1V694.75h1V694.75h1V694.75h1V694.75h1V694.75h1V639.31h1V644.58h1V639.74h1V644.64h1V648.07h1V650.18h1V650.91h1V649.4h1V651.06h1V649.16h1V650.55h1V658.32h1V661.36h1V662.64h1V662.44h1V661.53h1V658.6h1V654.17h1V653.25h1V658.54h1V649.23h1V653.34h1V653.77h1V661.47h1V656.4h1V656.2h1V656.26h1V661.71h1V658.45h1V654.19h1V660.79h1V654.25h1V654.38h1V660.86h1V664.36h1V659.75h1V666.22h1V668.34h1V664.03h1V667.38h1V673.54h1V675.81h1V679.98h1V683.59h1V687.9h1V686.61h1V687.15h1V687.36h1V688.47h1V687.61h1V688.52h1V688.48h1V689.31h1V688.48h1V687.87h1V689.14h1V689.43h1V687.17h1V689.28h1V689.7h1V688.6h1V688.4h1V687.45h1V688.33h1V690.05h1V688.86h1V691.31h1V691.82h1V692.73h1V694.75h1V694.75h1V694.75h1V694.75h1V694.75h1V694.75h1V694.75h1V694.75h1V694.75h1V694.75h1V694.75h1V694.75h1V694.75h1V694.75h1V694.75h1V694.75h1V694.75h1V694.75h1V694.75h1V694.75h1V694.75h1V694.75h1V694.75h1V694.75h1V694.75h1V694.75h1V694.75h1V694.75h1V694.75h1V694.75h1V694.75h1" fill="none" stroke="#000" stroke-width="2.32" stroke-linejoin="miter"/>
<path d="M237.1 694.75h1V694.75h1V694.75h1V694.75h1V694.75h1V694.75h1V694.75h1V694.75h1V694.75h1V694.75h1V694.75h1V694.75h1V694.75h1V694.75h1V694.75h1V694.75h1V694.75h1V694.75h1V694.75h1V694.75h1V694.75h1V694.75h1V694.75h1V694.75h1V664.96h1V666.03h1V665.65h1V662.39h1V662.31h1V662.83h1V660.47h1V660.71h1V667.44h1V666.55h1V671.72h1V664.93h1V666.2h1V665.77h1V669h1V668.59h1V666.26h1V666.94h1V669.61h1V668.5h1V669.46h1V675.6h1V675.22h1V677.64h1V682.37h1V682.85h1V687.49h1V688.31h1V689.84h1V694.75h1V694.75h1V694.75h1V694.75h1V694.75h1V694.75h1V694.75h1V694.75h1V694.75h1V694.75h1V694.75h1V694.75h1V694.75h1V694.75h1V694.75h1V694.75h1V694.75h1V694.75h1V694.75h1V694.75h1V694.75h1V694.75h1V694.75h1V694.75h1V694.75h1V694.75h1V694.75h1V694.75h1V694.75h1V694.75h1V694.75h1V694.75h1V694.75h1V694.75h1V694.75h1V694.75h1V694.75h1V694.75h1V694.75h1V694.75h1V694.75h1V694.75h1V694.75h1V694.75h1V694.75h1V694.75h1V694.75h1V694.75h1V694.75h1V694.75h1V694.75h1V694.75h1V694.75h1V694.75h1V694.75h1V694.75h1" fill="none" stroke="#000" stroke-width="2.32" stroke-linejoin="miter"/>
</g>
<text x="307.7" y="627.6" font-size="12.7" class="l" textLength="26.9" lengthAdjust="spacing">50%</text>
<rect x="398.5" y="606.5" width="112.1" height="86.7" fill="#fff" stroke="#000" stroke-width="1.3"/>
<path d="M398.1 606V693.7H512.6" fill="none" stroke="#000" stroke-width="2.2"/>
<path d="M399.7 693.2v5.4M421.3 693.2v5.4M442.9 693.2v5.4M464.5 693.2v5.4M486.1 693.2v5.4M507.7 693.2v5.4" stroke="#000" stroke-width="1.3" fill="none"/>
<path d="M399.7 693.2v3.9M403.16 693.2v3.9M406.61 693.2v3.9M410.07 693.2v3.9M413.52 693.2v3.9M416.98 693.2v3.9M420.44 693.2v3.9M423.89 693.2v3.9M427.35 693.2v3.9M430.8 693.2v3.9M434.26 693.2v3.9M437.72 693.2v3.9M441.17 693.2v3.9M444.63 693.2v3.9M448.08 693.2v3.9M451.54 693.2v3.9M455 693.2v3.9M458.45 693.2v3.9M461.91 693.2v3.9M465.36 693.2v3.9M468.82 693.2v3.9M472.28 693.2v3.9M475.73 693.2v3.9M479.19 693.2v3.9M482.64 693.2v3.9M486.1 693.2v3.9M489.56 693.2v3.9M493.01 693.2v3.9M496.47 693.2v3.9M499.92 693.2v3.9M503.38 693.2v3.9M506.84 693.2v3.9M510.29 693.2v3.9" stroke="#000" stroke-width="1.5" fill="none"/>
<path d="M398.5 693.2h-5.4M398.5 676.06h-5.4M398.5 658.92h-5.4M398.5 641.78h-5.4M398.5 624.64h-5.4M398.5 607.5h-5.4" stroke="#000" stroke-width="1.2" fill="none"/>
<path d="M398.5 691.06h-3.3M398.5 688.92h-3.3M398.5 686.77h-3.3M398.5 684.63h-3.3M398.5 682.49h-3.3M398.5 680.35h-3.3M398.5 678.2h-3.3M398.5 673.92h-3.3M398.5 671.78h-3.3M398.5 669.63h-3.3M398.5 667.49h-3.3M398.5 665.35h-3.3M398.5 663.21h-3.3M398.5 661.06h-3.3M398.5 656.78h-3.3M398.5 654.64h-3.3M398.5 652.49h-3.3M398.5 650.35h-3.3M398.5 648.21h-3.3M398.5 646.07h-3.3M398.5 643.92h-3.3M398.5 639.64h-3.3M398.5 637.5h-3.3M398.5 635.35h-3.3M398.5 633.21h-3.3M398.5 631.07h-3.3M398.5 628.92h-3.3M398.5 626.78h-3.3M398.5 622.5h-3.3M398.5 620.36h-3.3M398.5 618.21h-3.3M398.5 616.07h-3.3M398.5 613.93h-3.3M398.5 611.78h-3.3M398.5 609.64h-3.3" stroke="#000" stroke-width="1.0" fill="none"/>
<text x="399.7" y="702.9" class="t">0</text>
<text x="421.3" y="702.9" class="t">200</text>
<text x="442.9" y="702.9" class="t">400</text>
<text x="464.5" y="702.9" class="t">600</text>
<text x="486.1" y="702.9" class="t">800</text>
<text x="507.7" y="702.9" class="t">1000</text>
<text x="455.55" y="709.2" class="u">FL2-H</text>
<text transform="translate(392 691) rotate(-90)" class="t">0</text>
<text transform="translate(392 673.86) rotate(-90)" class="t">20</text>
<text transform="translate(392 656.72) rotate(-90)" class="t">40</text>
<text transform="translate(392 639.58) rotate(-90)" class="t">60</text>
<text transform="translate(392 622.44) rotate(-90)" class="t">80</text>
<text transform="translate(392 605.3) rotate(-90)" class="t">100</text>
<text transform="translate(385.1 650.85) rotate(-90)" class="u">Counts</text>
<clipPath id="c11"><rect x="398.5" y="606.5" width="113.1" height="87.3"/></clipPath>
<g clip-path="url(#c11)">
<path d="M398.5 693.2V651.88h1V655.21h1V672.47h1V668.33h1V668.01h1V660.35h1V653.85h1V651.57h1V641.57h1V644.87h1V639.79h1V637.84h1V633.61h1V634.9h1V643.99h1V646.24h1V648.62h1V648.34h1V642.13h1V648.05h1V650.65h1V651.51h1V654.03h1V655.99h1V656.88h1V661.99h1V665.98h1V669.99h1V672.56h1V676.42h1V678.38h1V680.89h1V683.85h1V685.26h1V686.5h1V687.74h1V687.92h1V689h1V689.48h1V689.58h1V689.67h1V689.47h1V689.63h1V690.11h1V689.22h1V689.8h1V690.25h1V690.01h1V689.81h1V689.81h1V690.19h1V690.43h1V690.9h1V690.76h1V690.93h1V691.11h1V691.52h1V691.34h1V691.98h1V692.36h1V692.68h1V693.17h1V693.2h1V693.2h1V693.2h1V693.2h1V693.2h1V693.2h1V693.2h1V693.2h1V693.2h1V693.2h1V693.2h1V693.2h1V693.2h1V693.2h1V693.2h1V693.2h1V693.2h1V693.2h1V693.2h1V693.2h1V693.2h1V693.2h1V693.2h1V693.2h1V693.2h1V693.2h1V693.2h1V693.2h1V693.2h1V693.2h1V693.2h1V693.2h1V693.2h1V693.2h1V693.2h1V693.2h1V693.2h1V693.2h1V693.2h1V693.2h1V693.2h1V693.2h1V693.2h1V693.2h1V693.2h1V693.2h1V693.2h1V693.2h1V693.2h1V693.2Z" fill="#000"/>
<path d="M398.5 693.2h1V693.2h1V693.2h1V693.2h1V693.2h1V693.2h1V693.2h1V693.2h1V693.2h1V693.2h1V693.2h1V693.2h1V693.2h1V693.2h1V693.2h1V693.2h1V693.2h1V693.2h1V693.2h1V693.2h1V693.2h1V693.2h1V693.2h1V693.2h1V693.2h1V693.2h1V693.2h1V693.2h1V693.2h1V693.2h1V683.91h1V683.1h1V683.14h1V681.25h1V677.66h1V675.88h1V671.21h1V666.18h1V660.88h1V657.38h1V651.06h1V647.96h1V644.46h1V634.72h1V635.32h1V629.38h1V621.3h1V634.28h1V633.14h1V645.07h1V650.76h1V653.91h1V663.25h1V668.1h1V672.71h1V678.01h1V679.26h1V681.95h1V683.34h1V685.95h1V688.14h1V688.65h1V689.12h1V690.04h1V690.49h1V690.53h1V690.69h1V691.14h1V691.54h1V691.69h1V691.88h1V691.73h1V691.74h1V691.85h1V691.99h1V692.1h1V692.07h1V692.07h1V692.29h1V692.19h1V692.24h1V692.09h1V692.27h1V692.39h1V692.16h1V692.21h1V692.12h1V692.31h1V692.12h1V692.19h1V692.21h1V692.24h1V692.34h1V692.14h1V692.22h1V692.25h1V692.29h1V692.24h1V692.35h1V692.39h1V692.42h1V692.34h1V692.3h1V692.24h1V692.35h1V692.24h1V692.4h1V692.44h1V692.28h1V692.32h1V692.32h1" fill="none" stroke="#000" stroke-width="2.44" stroke-linejoin="miter"/>
</g>
<text x="472.4" y="627.6" font-size="12.7" class="l" textLength="26.3" lengthAdjust="spacing">80%</text>
<rect x="84.8" y="735.8" width="107.8" height="92.1" fill="#fff" stroke="#000" stroke-width="1.3"/>
<path d="M84.4 735.3V828.4H194.6" fill="none" stroke="#000" stroke-width="2.2"/>
<path d="M86 827.9v5.4M106.74 827.9v5.4M127.48 827.9v5.4M148.22 827.9v5.4M168.96 827.9v5.4M189.7 827.9v5.4" stroke="#000" stroke-width="1.3" fill="none"/>
<path d="M86 827.9v3.9M89.32 827.9v3.9M92.64 827.9v3.9M95.96 827.9v3.9M99.27 827.9v3.9M102.59 827.9v3.9M105.91 827.9v3.9M109.23 827.9v3.9M112.55 827.9v3.9M115.87 827.9v3.9M119.18 827.9v3.9M122.5 827.9v3.9M125.82 827.9v3.9M129.14 827.9v3.9M132.46 827.9v3.9M135.78 827.9v3.9M139.09 827.9v3.9M142.41 827.9v3.9M145.73 827.9v3.9M149.05 827.9v3.9M152.37 827.9v3.9M155.69 827.9v3.9M159 827.9v3.9M162.32 827.9v3.9M165.64 827.9v3.9M168.96 827.9v3.9M172.28 827.9v3.9M175.6 827.9v3.9M178.92 827.9v3.9M182.23 827.9v3.9M185.55 827.9v3.9M188.87 827.9v3.9M192.19 827.9v3.9" stroke="#000" stroke-width="1.5" fill="none"/>
<path d="M84.8 827.9h-5.4M84.8 809.68h-5.4M84.8 791.46h-5.4M84.8 773.24h-5.4M84.8 755.02h-5.4M84.8 736.8h-5.4" stroke="#000" stroke-width="1.2" fill="none"/>
<path d="M84.8 825.62h-3.3M84.8 823.35h-3.3M84.8 821.07h-3.3M84.8 818.79h-3.3M84.8 816.51h-3.3M84.8 814.24h-3.3M84.8 811.96h-3.3M84.8 807.4h-3.3M84.8 805.12h-3.3M84.8 802.85h-3.3M84.8 800.57h-3.3M84.8 798.29h-3.3M84.8 796.01h-3.3M84.8 793.74h-3.3M84.8 789.18h-3.3M84.8 786.9h-3.3M84.8 784.63h-3.3M84.8 782.35h-3.3M84.8 780.07h-3.3M84.8 777.79h-3.3M84.8 775.52h-3.3M84.8 770.96h-3.3M84.8 768.69h-3.3M84.8 766.41h-3.3M84.8 764.13h-3.3M84.8 761.85h-3.3M84.8 759.58h-3.3M84.8 757.3h-3.3M84.8 752.74h-3.3M84.8 750.47h-3.3M84.8 748.19h-3.3M84.8 745.91h-3.3M84.8 743.63h-3.3M84.8 741.36h-3.3M84.8 739.08h-3.3" stroke="#000" stroke-width="1.0" fill="none"/>
<text x="86" y="837.6" class="t">0</text>
<text x="106.74" y="837.6" class="t">200</text>
<text x="127.48" y="837.6" class="t">400</text>
<text x="148.22" y="837.6" class="t">600</text>
<text x="168.96" y="837.6" class="t">800</text>
<text x="189.7" y="837.6" class="t">1000</text>
<text x="139.7" y="843.9" class="u">FL2-H</text>
<text transform="translate(78.3 825.7) rotate(-90)" class="t">0</text>
<text transform="translate(78.3 807.48) rotate(-90)" class="t">20</text>
<text transform="translate(78.3 789.26) rotate(-90)" class="t">40</text>
<text transform="translate(78.3 771.04) rotate(-90)" class="t">60</text>
<text transform="translate(78.3 752.82) rotate(-90)" class="t">80</text>
<text transform="translate(78.3 734.6) rotate(-90)" class="t">100</text>
<text transform="translate(71.4 782.85) rotate(-90)" class="u">Counts</text>
<clipPath id="c12"><rect x="84.8" y="735.8" width="108.8" height="92.7"/></clipPath>
<g clip-path="url(#c12)">
<path d="M84.8 827.9V817.43h1V816.54h1V814.34h1V813.12h1V807.7h1V800.97h1V790.37h1V783.66h1V778.14h1V774.03h1V773.38h1V767.9h1V765.6h1V773.96h1V770.42h1V776.1h1V780.06h1V785.71h1V788.65h1V790.27h1V796.44h1V800.31h1V802.12h1V805.61h1V805.99h1V809.96h1V813.02h1V814.48h1V817h1V819h1V820.24h1V822.9h1V824.17h1V825.41h1V826.12h1V827.01h1V827.9h1V827.9h1V827.9h1V827.9h1V827.9h1V827.9h1V827.9h1V827.9h1V827.9h1V827.9h1V827.9h1V827.9h1V827.9h1V827.9h1V827.9h1V827.9h1V827.9h1V827.9h1V827.9h1V827.9h1V827.9h1V827.9h1V827.9h1V827.9h1V827.9h1V827.9h1V827.9h1V827.9h1V827.9h1V827.9h1V827.9h1V827.9h1V827.9h1V827.9h1V827.9h1V827.9h1V827.9h1V827.9h1V827.9h1V827.9h1V827.9h1V827.9h1V827.9h1V827.9h1V827.9h1V827.9h1V827.9h1V827.9h1V827.9h1V827.9h1V827.9h1V827.9h1V827.9h1V827.9h1V827.9h1V827.9h1V827.9h1V827.9h1V827.9h1V827.9h1V827.9h1V827.9h1V827.9h1V827.9h1V827.9h1V827.9h1V827.9h1V827.9h1V827.9h1V827.9h1V827.9h1V827.9Z" fill="#000"/>
<path d="M84.8 827.9h1V827.9h1V827.9h1V827.9h1V827.9h1V827.9h1V827.9h1V827.9h1V827.9h1V827.9h1V827.9h1V827.9h1V827.9h1V827.9h1V827.9h1V827.9h1V827.9h1V827.9h1V827.9h1V827.9h1V827.9h1V827.9h1V827.9h1V827.9h1V827.9h1V808.23h1V810.02h1V807.74h1V808.76h1V812.92h1V812.84h1V806.44h1V809.43h1V810.12h1V807.57h1V808.97h1V808.19h1V803.77h1V797.7h1V802.73h1V801.15h1V797.88h1V796.41h1V799.46h1V793.83h1V792.07h1V793.6h1V793.46h1V798.16h1V795.13h1V794.66h1V797.94h1V792.59h1V799.6h1V804.79h1V803.88h1V797.83h1V803.32h1V808.07h1V805.13h1V806.8h1V808.72h1V807.06h1V809.61h1V811.21h1V816.29h1V815.43h1V816.45h1V816.55h1V819.67h1V818.48h1V821.52h1V821.62h1V823.02h1V824.59h1V825.11h1V825.53h1V825.3h1V825.26h1V825.68h1V825.91h1V825.65h1V825.89h1V825.98h1V825.87h1V825.73h1V826.4h1V826.02h1V826.68h1V826.18h1V826.51h1V826.25h1V826.67h1V826.85h1V826.54h1V826.86h1V826.89h1V826.88h1V825.98h1V824.99h1V825.8h1V826.74h1V826.8h1V826.77h1V826.9h1V826.67h1V827.06h1" fill="none" stroke="#000" stroke-width="2.44" stroke-linejoin="miter"/>
</g>
<text x="154.4" y="758.5" font-size="12.7" class="l" textLength="27" lengthAdjust="spacing">90%</text>
<rect x="237.1" y="735.5" width="111" height="91.25" fill="#fff" stroke="#000" stroke-width="1.3"/>
<path d="M236.7 735V827.25H350.1" fill="none" stroke="#000" stroke-width="2.2"/>
<path d="M238.3 826.75v5.4M259.68 826.75v5.4M281.06 826.75v5.4M302.44 826.75v5.4M323.82 826.75v5.4M345.2 826.75v5.4" stroke="#000" stroke-width="1.3" fill="none"/>
<path d="M238.3 826.75v3.9M241.72 826.75v3.9M245.14 826.75v3.9M248.56 826.75v3.9M251.98 826.75v3.9M255.4 826.75v3.9M258.82 826.75v3.9M262.25 826.75v3.9M265.67 826.75v3.9M269.09 826.75v3.9M272.51 826.75v3.9M275.93 826.75v3.9M279.35 826.75v3.9M282.77 826.75v3.9M286.19 826.75v3.9M289.61 826.75v3.9M293.03 826.75v3.9M296.45 826.75v3.9M299.87 826.75v3.9M303.3 826.75v3.9M306.72 826.75v3.9M310.14 826.75v3.9M313.56 826.75v3.9M316.98 826.75v3.9M320.4 826.75v3.9M323.82 826.75v3.9M327.24 826.75v3.9M330.66 826.75v3.9M334.08 826.75v3.9M337.5 826.75v3.9M340.92 826.75v3.9M344.34 826.75v3.9M347.77 826.75v3.9" stroke="#000" stroke-width="1.5" fill="none"/>
<path d="M237.1 826.75h-5.4M237.1 808.7h-5.4M237.1 790.65h-5.4M237.1 772.6h-5.4M237.1 754.55h-5.4M237.1 736.5h-5.4" stroke="#000" stroke-width="1.2" fill="none"/>
<path d="M237.1 824.49h-3.3M237.1 822.24h-3.3M237.1 819.98h-3.3M237.1 817.73h-3.3M237.1 815.47h-3.3M237.1 813.21h-3.3M237.1 810.96h-3.3M237.1 806.44h-3.3M237.1 804.19h-3.3M237.1 801.93h-3.3M237.1 799.68h-3.3M237.1 797.42h-3.3M237.1 795.16h-3.3M237.1 792.91h-3.3M237.1 788.39h-3.3M237.1 786.14h-3.3M237.1 783.88h-3.3M237.1 781.62h-3.3M237.1 779.37h-3.3M237.1 777.11h-3.3M237.1 774.86h-3.3M237.1 770.34h-3.3M237.1 768.09h-3.3M237.1 765.83h-3.3M237.1 763.58h-3.3M237.1 761.32h-3.3M237.1 759.06h-3.3M237.1 756.81h-3.3M237.1 752.29h-3.3M237.1 750.04h-3.3M237.1 747.78h-3.3M237.1 745.52h-3.3M237.1 743.27h-3.3M237.1 741.01h-3.3M237.1 738.76h-3.3" stroke="#000" stroke-width="1.0" fill="none"/>
<text x="238.3" y="836.45" class="t">0</text>
<text x="259.68" y="836.45" class="t">200</text>
<text x="281.06" y="836.45" class="t">400</text>
<text x="302.44" y="836.45" class="t">600</text>
<text x="323.82" y="836.45" class="t">800</text>
<text x="345.2" y="836.45" class="t">1000</text>
<text x="293.6" y="842.75" class="u">FL1-H</text>
<text transform="translate(230.6 824.55) rotate(-90)" class="t">0</text>
<text transform="translate(230.6 806.5) rotate(-90)" class="t">20</text>
<text transform="translate(230.6 788.45) rotate(-90)" class="t">40</text>
<text transform="translate(230.6 770.4) rotate(-90)" class="t">60</text>
<text transform="translate(230.6 752.35) rotate(-90)" class="t">80</text>
<text transform="translate(230.6 734.3) rotate(-90)" class="t">100</text>
<text transform="translate(223.7 782.12) rotate(-90)" class="u">Counts</text>
<clipPath id="c13"><rect x="237.1" y="735.5" width="112" height="91.85"/></clipPath>
<g clip-path="url(#c13)">
<path d="M237.1 826.75V820.55h1V822.16h1V821.94h1V822.59h1V823.6h1V823.81h1V820.93h1V818.65h1V815.65h1V809.5h1V805.03h1V799.17h1V792.01h1V788.95h1V787.82h1V782.7h1V777.73h1V775.97h1V779.85h1V781.29h1V782.97h1V773.58h1V773.23h1V771.31h1V772.52h1V775h1V771.62h1V774.78h1V780.43h1V785.19h1V793.38h1V803.53h1V810.08h1V816.95h1V819.81h1V822.45h1V824.99h1V825.39h1V826.07h1V826.7h1V826.75h1V826.75h1V826.75h1V826.75h1V826.75h1V826.75h1V826.75h1V826.75h1V826.75h1V826.75h1V826.75h1V826.75h1V826.75h1V826.75h1V826.75h1V826.75h1V826.75h1V826.75h1V826.75h1V826.75h1V826.75h1V826.75h1V826.75h1V826.75h1V826.75h1V826.75h1V826.75h1V826.75h1V826.75h1V826.75h1V826.75h1V826.75h1V826.75h1V826.75h1V826.75h1V826.75h1V826.75h1V826.75h1V826.75h1V826.75h1V826.75h1V826.75h1V826.75h1V826.75h1V826.75h1V826.75h1V826.75h1V826.75h1V826.75h1V826.75h1V826.75h1V826.75h1V826.75h1V826.75h1V826.75h1V826.75h1V826.75h1V826.75h1V826.75h1V826.75h1V826.75h1V826.75h1V826.75h1V826.75h1V826.75h1V826.75h1V826.75h1V826.75h1V826.75h1V826.75h1V826.75Z" fill="#000"/>
<path d="M237.1 826.75h1V826.75h1V826.75h1V826.75h1V826.75h1V826.75h1V826.75h1V826.75h1V826.75h1V826.75h1V826.75h1V826.75h1V826.75h1V826.75h1V826.75h1V826.75h1V826.75h1V826.75h1V826.75h1V826.75h1V826.75h1V826.75h1V826.75h1V826.75h1V826.75h1V826.75h1V826.75h1V826.75h1V776.5h1V781.67h1V776.7h1V778.94h1V776.98h1V774.83h1V770.9h1V771.8h1V776.12h1V786.57h1V788.57h1V794.95h1V795.41h1V803.12h1V806.45h1V808.18h1V811.78h1V813.24h1V816.26h1V815.86h1V815.97h1V814.88h1V813.87h1V812.83h1V812.13h1V813.64h1V813.7h1V814.42h1V815.14h1V816.04h1V818.16h1V819.54h1V820.95h1V821.54h1V822.36h1V823.06h1V823.82h1V824.33h1V824.89h1V825h1V825.12h1V825.07h1V825.06h1V825.22h1V825.43h1V825.43h1V825.56h1V825.66h1V825.58h1V825.53h1V825.88h1V825.79h1V825.69h1V825.85h1V825.7h1V825.59h1V825.77h1V825.55h1V825.68h1V825.7h1V825.76h1V825.9h1V825.66h1V825.74h1V825.82h1V825.63h1V825.68h1V825.71h1V825.63h1V825.77h1V825.73h1V825.66h1V825.63h1V825.83h1V825.73h1V825.82h1V825.84h1V825.84h1V825.78h1V825.7h1V825.73h1V825.79h1" fill="none" stroke="#000" stroke-width="2.44" stroke-linejoin="miter"/>
</g>
<text x="310" y="755.8" font-size="12.7" class="l" textLength="26.5" lengthAdjust="spacing">65%</text>
<rect x="397.3" y="735.4" width="111.2" height="89.8" fill="#fff" stroke="#000" stroke-width="1.3"/>
<path d="M396.9 734.9V825.7H510.5" fill="none" stroke="#000" stroke-width="2.2"/>
<path d="M398.5 825.2v5.4M419.92 825.2v5.4M441.34 825.2v5.4M462.76 825.2v5.4M484.18 825.2v5.4M505.6 825.2v5.4" stroke="#000" stroke-width="1.3" fill="none"/>
<path d="M398.5 825.2v3.9M401.93 825.2v3.9M405.35 825.2v3.9M408.78 825.2v3.9M412.21 825.2v3.9M415.64 825.2v3.9M419.06 825.2v3.9M422.49 825.2v3.9M425.92 825.2v3.9M429.34 825.2v3.9M432.77 825.2v3.9M436.2 825.2v3.9M439.63 825.2v3.9M443.05 825.2v3.9M446.48 825.2v3.9M449.91 825.2v3.9M453.34 825.2v3.9M456.76 825.2v3.9M460.19 825.2v3.9M463.62 825.2v3.9M467.04 825.2v3.9M470.47 825.2v3.9M473.9 825.2v3.9M477.33 825.2v3.9M480.75 825.2v3.9M484.18 825.2v3.9M487.61 825.2v3.9M491.03 825.2v3.9M494.46 825.2v3.9M497.89 825.2v3.9M501.32 825.2v3.9M504.74 825.2v3.9M508.17 825.2v3.9" stroke="#000" stroke-width="1.5" fill="none"/>
<path d="M397.3 825.2h-5.4M397.3 807.44h-5.4M397.3 789.68h-5.4M397.3 771.92h-5.4M397.3 754.16h-5.4M397.3 736.4h-5.4" stroke="#000" stroke-width="1.2" fill="none"/>
<path d="M397.3 822.98h-3.3M397.3 820.76h-3.3M397.3 818.54h-3.3M397.3 816.32h-3.3M397.3 814.1h-3.3M397.3 811.88h-3.3M397.3 809.66h-3.3M397.3 805.22h-3.3M397.3 803h-3.3M397.3 800.78h-3.3M397.3 798.56h-3.3M397.3 796.34h-3.3M397.3 794.12h-3.3M397.3 791.9h-3.3M397.3 787.46h-3.3M397.3 785.24h-3.3M397.3 783.02h-3.3M397.3 780.8h-3.3M397.3 778.58h-3.3M397.3 776.36h-3.3M397.3 774.14h-3.3M397.3 769.7h-3.3M397.3 767.48h-3.3M397.3 765.26h-3.3M397.3 763.04h-3.3M397.3 760.82h-3.3M397.3 758.6h-3.3M397.3 756.38h-3.3M397.3 751.94h-3.3M397.3 749.72h-3.3M397.3 747.5h-3.3M397.3 745.28h-3.3M397.3 743.06h-3.3M397.3 740.84h-3.3M397.3 738.62h-3.3" stroke="#000" stroke-width="1.0" fill="none"/>
<text x="398.5" y="834.9" class="t">0</text>
<text x="419.92" y="834.9" class="t">200</text>
<text x="441.34" y="834.9" class="t">400</text>
<text x="462.76" y="834.9" class="t">600</text>
<text x="484.18" y="834.9" class="t">800</text>
<text x="505.6" y="834.9" class="t">1000</text>
<text x="453.9" y="841.2" class="u">FL1-H</text>
<text transform="translate(390.8 823) rotate(-90)" class="t">0</text>
<text transform="translate(390.8 805.24) rotate(-90)" class="t">20</text>
<text transform="translate(390.8 787.48) rotate(-90)" class="t">40</text>
<text transform="translate(390.8 769.72) rotate(-90)" class="t">60</text>
<text transform="translate(390.8 751.96) rotate(-90)" class="t">80</text>
<text transform="translate(390.8 734.2) rotate(-90)" class="t">100</text>
<text transform="translate(383.9 781.3) rotate(-90)" class="u">Counts</text>
<clipPath id="c14"><rect x="397.3" y="735.4" width="112.2" height="90.4"/></clipPath>
<g clip-path="url(#c14)">
<path d="M397.3 825.2V793.18h1V805.79h1V802.61h1V806.34h1V802.22h1V802.93h1V794.31h1V798.88h1V803.83h1V802.47h1V801.6h1V786.48h1V779.69h1V771.62h1V760.38h1V764.41h1V787.06h1V780.2h1V787.06h1V778.37h1V776.59h1V781.83h1V785.44h1V794.49h1V794.01h1V796.05h1V798.27h1V800.95h1V806.31h1V807.88h1V810.09h1V811.6h1V814.1h1V813.58h1V814.75h1V818.29h1V816.43h1V817.69h1V818.27h1V818.39h1V818.64h1V820.52h1V818.66h1V818.95h1V819.03h1V818.28h1V819.75h1V819.48h1V819.27h1V820.15h1V818.94h1V820h1V820.93h1V821.45h1V819.74h1V821.6h1V820.14h1V819.88h1V821.07h1V820.32h1V818.52h1V820.94h1V820.22h1V819.12h1V819.88h1V821.05h1V820.37h1V819.75h1V820.54h1V819.84h1V820.8h1V820.94h1V821.67h1V819.42h1V821.32h1V818.93h1V819.3h1V820.7h1V820.76h1V822.44h1V822.72h1V823.63h1V823.3h1V823.19h1V823.33h1V822.78h1V823.12h1V823.36h1V823.32h1V822.51h1V822.49h1V822.83h1V822.54h1V822.02h1V822.42h1V822.74h1V822.53h1V822.3h1V823.06h1V824.92h1V825.03h1V825.2h1V825.2h1V825.2h1V825.2h1V825.2h1V825.2h1V825.2h1V825.2h1V825.2h1V825.2Z" fill="#000"/>
<path d="M397.3 825.2h1V825.2h1V825.2h1V825.2h1V825.2h1V825.2h1V825.2h1V825.2h1V825.2h1V825.2h1V825.2h1V825.2h1V825.2h1V825.2h1V825.2h1V825.2h1V825.2h1V825.2h1V825.2h1V786.15h1V785.21h1V774.58h1V782.64h1V780.19h1V767.71h1V766.24h1V759.01h1V762.9h1V763.6h1V772.35h1V778.68h1V770.94h1V774.61h1V773.53h1V771.18h1V765.07h1V759.63h1V760.12h1V763.67h1V763.75h1V767.16h1V762.63h1V758.68h1V756.96h1V756.08h1V766.53h1V771.92h1V778.78h1V781.01h1V782.56h1V775.8h1V776.87h1V780.52h1V789.33h1V785.39h1V789.7h1V788.56h1V787.29h1V792.88h1V791.03h1V794.13h1V797.67h1V799.23h1V800.65h1V805.33h1V809.09h1V811.28h1V813.43h1V813.14h1V816.73h1V818.94h1V820.39h1V820.32h1V820.21h1V822.98h1V822.47h1V823.23h1V823.77h1V824.58h1V825.2h1V825.2h1V825.2h1V825.2h1V825.2h1V825.2h1V825.2h1V825.2h1V825.2h1V825.2h1V825.2h1V825.2h1V825.2h1V825.2h1V825.2h1V825.2h1V825.2h1V825.2h1V825.2h1V825.2h1V825.2h1V825.2h1V825.2h1V825.2h1V825.2h1V825.2h1V825.2h1V825.2h1V825.2h1V825.2h1V825.2h1" fill="none" stroke="#000" stroke-width="1.95" stroke-linejoin="miter"/>
<path d="M397.3 825.2h1V825.2h1V825.2h1V825.2h1V825.2h1V825.2h1V825.2h1V825.2h1V825.2h1V825.2h1V825.2h1V825.2h1V825.2h1V825.2h1V825.2h1V825.2h1V825.2h1V825.2h1V825.2h1V787.27h1V779.31h1V779.78h1V779.45h1V780.4h1V770.17h1V771.97h1V767.02h1V759.36h1V769.84h1V782.79h1V778.2h1V782.64h1V774.75h1V777.98h1V781.28h1V773.5h1V760.42h1V770.73h1V765.23h1V765.45h1V763.4h1V764.9h1V766.91h1V770.65h1V767.93h1V778.7h1V776.53h1V779.21h1V782.7h1V786.48h1V787.74h1V796.98h1V795.04h1V791.57h1V800.92h1V804.64h1V800.02h1V808.5h1V807.94h1V810.7h1V812.3h1V815.57h1V816.92h1V819.05h1V820.73h1V822.54h1V824.03h1V825.2h1V825.2h1V825.2h1V825.2h1V825.2h1V825.2h1V825.2h1V825.2h1V825.2h1V825.2h1V825.2h1V825.2h1V825.2h1V825.2h1V825.2h1V825.2h1V825.2h1V825.2h1V825.2h1V825.2h1V825.2h1V825.2h1V825.2h1V825.2h1V825.2h1V825.2h1V825.2h1V825.2h1V825.2h1V825.2h1V825.2h1V825.2h1V825.2h1V825.2h1V825.2h1V825.2h1V825.2h1V825.2h1V825.2h1V825.2h1V825.2h1V825.2h1V825.2h1" fill="none" stroke="#000" stroke-width="1.95" stroke-linejoin="miter"/>
</g>
<text x="469.4" y="755.6" font-size="12.7" class="l" textLength="26.2" lengthAdjust="spacing">80%</text>
<rect x="84.8" y="867.7" width="109.4" height="87.4" fill="#fff" stroke="#000" stroke-width="1.3"/>
<path d="M84.4 867.2V955.6H196.2" fill="none" stroke="#000" stroke-width="2.2"/>
<path d="M86 955.1v5.4M107.06 955.1v5.4M128.12 955.1v5.4M149.18 955.1v5.4M170.24 955.1v5.4M191.3 955.1v5.4" stroke="#000" stroke-width="1.3" fill="none"/>
<path d="M86 955.1v3.9M89.37 955.1v3.9M92.74 955.1v3.9M96.11 955.1v3.9M99.48 955.1v3.9M102.85 955.1v3.9M106.22 955.1v3.9M109.59 955.1v3.9M112.96 955.1v3.9M116.33 955.1v3.9M119.7 955.1v3.9M123.07 955.1v3.9M126.44 955.1v3.9M129.8 955.1v3.9M133.17 955.1v3.9M136.54 955.1v3.9M139.91 955.1v3.9M143.28 955.1v3.9M146.65 955.1v3.9M150.02 955.1v3.9M153.39 955.1v3.9M156.76 955.1v3.9M160.13 955.1v3.9M163.5 955.1v3.9M166.87 955.1v3.9M170.24 955.1v3.9M173.61 955.1v3.9M176.98 955.1v3.9M180.35 955.1v3.9M183.72 955.1v3.9M187.09 955.1v3.9M190.46 955.1v3.9M193.83 955.1v3.9" stroke="#000" stroke-width="1.5" fill="none"/>
<path d="M84.8 955.1h-5.4M84.8 937.82h-5.4M84.8 920.54h-5.4M84.8 903.26h-5.4M84.8 885.98h-5.4M84.8 868.7h-5.4" stroke="#000" stroke-width="1.2" fill="none"/>
<path d="M84.8 952.94h-3.3M84.8 950.78h-3.3M84.8 948.62h-3.3M84.8 946.46h-3.3M84.8 944.3h-3.3M84.8 942.14h-3.3M84.8 939.98h-3.3M84.8 935.66h-3.3M84.8 933.5h-3.3M84.8 931.34h-3.3M84.8 929.18h-3.3M84.8 927.02h-3.3M84.8 924.86h-3.3M84.8 922.7h-3.3M84.8 918.38h-3.3M84.8 916.22h-3.3M84.8 914.06h-3.3M84.8 911.9h-3.3M84.8 909.74h-3.3M84.8 907.58h-3.3M84.8 905.42h-3.3M84.8 901.1h-3.3M84.8 898.94h-3.3M84.8 896.78h-3.3M84.8 894.62h-3.3M84.8 892.46h-3.3M84.8 890.3h-3.3M84.8 888.14h-3.3M84.8 883.82h-3.3M84.8 881.66h-3.3M84.8 879.5h-3.3M84.8 877.34h-3.3M84.8 875.18h-3.3M84.8 873.02h-3.3M84.8 870.86h-3.3" stroke="#000" stroke-width="1.0" fill="none"/>
<text x="86" y="964.8" class="t">0</text>
<text x="107.06" y="964.8" class="t">200</text>
<text x="128.12" y="964.8" class="t">400</text>
<text x="149.18" y="964.8" class="t">600</text>
<text x="170.24" y="964.8" class="t">800</text>
<text x="191.3" y="964.8" class="t">1000</text>
<text x="140.5" y="971.1" class="u">FL1-H</text>
<text transform="translate(78.3 952.9) rotate(-90)" class="t">0</text>
<text transform="translate(78.3 935.62) rotate(-90)" class="t">20</text>
<text transform="translate(78.3 918.34) rotate(-90)" class="t">40</text>
<text transform="translate(78.3 901.06) rotate(-90)" class="t">60</text>
<text transform="translate(78.3 883.78) rotate(-90)" class="t">80</text>
<text transform="translate(78.3 866.5) rotate(-90)" class="t">100</text>
<text transform="translate(71.4 912.4) rotate(-90)" class="u">Counts</text>
<clipPath id="c15"><rect x="84.8" y="867.7" width="110.4" height="88"/></clipPath>
<g clip-path="url(#c15)">
<path d="M84.8 955.1V955.1h1V955.1h1V955.1h1V955.1h1V954.8h1V953.55h1V952.43h1V950.8h1V949.39h1V948h1V946.22h1V939.03h1V930.28h1V920.9h1V913.98h1V904.18h1V898.44h1V898.56h1V898.72h1V900.62h1V895.89h1V888.28h1V899.32h1V895.83h1V897.87h1V906.04h1V908.4h1V912.26h1V917.56h1V925.45h1V929.44h1V933.67h1V936.71h1V941.16h1V945.61h1V949.28h1V951.28h1V953.16h1V955.1h1V955.1h1V955.1h1V955.1h1V955.1h1V955.1h1V955.1h1V955.1h1V955.1h1V955.1h1V955.1h1V955.1h1V955.1h1V955.1h1V955.1h1V955.1h1V955.1h1V955.1h1V955.1h1V955.1h1V955.1h1V955.1h1V955.1h1V955.1h1V955.1h1V955.1h1V955.1h1V955.1h1V955.1h1V955.1h1V955.1h1V955.1h1V955.1h1V955.1h1V955.1h1V955.1h1V955.1h1V955.1h1V955.1h1V955.1h1V955.1h1V955.1h1V955.1h1V955.1h1V955.1h1V955.1h1V955.1h1V955.1h1V955.1h1V955.1h1V955.1h1V955.1h1V955.1h1V955.1h1V955.1h1V955.1h1V955.1h1V955.1h1V955.1h1V955.1h1V955.1h1V955.1h1V955.1h1V955.1h1V955.1h1V955.1h1V955.1h1V955.1h1V955.1h1V955.1h1V955.1h1V955.1Z" fill="#000"/>
<path d="M84.8 955.1h1V955.1h1V955.1h1V955.1h1V955.1h1V955.1h1V955.1h1V955.1h1V955.1h1V955.1h1V955.1h1V955.1h1V955.1h1V955.1h1V955.1h1V955.1h1V955.1h1V955.1h1V955.1h1V955.1h1V955.1h1V955.1h1V955.1h1V955.1h1V955.1h1V955.1h1V955.1h1V955.1h1V955.1h1V955.1h1V955.1h1V955.1h1V955.1h1V955.1h1V955.1h1V955.1h1V955.1h1V954.08h1V953.86h1V953.61h1V953.33h1V952.63h1V952.62h1V952.28h1V950.56h1V948.26h1V948.34h1V946.64h1V945.25h1V943.25h1V942h1V940.8h1V941.38h1V940.43h1V939.09h1V937.75h1V936.99h1V938.44h1V938.4h1V936.39h1V937.69h1V937.71h1V936.95h1V937.19h1V935.59h1V935.37h1V933.58h1V935.78h1V933.12h1V931.21h1V931.93h1V933.37h1V930.85h1V925.38h1V925.57h1V925.71h1V927.92h1V925.25h1V923.34h1V923.36h1V922.13h1V914.58h1V914.34h1V907.48h1V911.74h1V911.41h1V912.83h1V908.95h1V917.75h1V920.1h1V928.43h1V936.62h1V942.99h1V945h1V949.43h1V951.67h1V953.05h1V954.54h1V955.1h1V955.1h1V955.1h1V955.1h1V955.1h1V955.1h1V955.1h1V955.1h1V955.1h1V955.1h1V955.1h1" fill="none" stroke="#000" stroke-width="2.07" stroke-linejoin="miter"/>
<path d="M84.8 955.1h1V955.1h1V955.1h1V955.1h1V955.1h1V955.1h1V955.1h1V955.1h1V955.1h1V955.1h1V955.1h1V955.1h1V955.1h1V955.1h1V955.1h1V955.1h1V955.1h1V955.1h1V955.1h1V955.1h1V955.1h1V955.1h1V955.1h1V955.1h1V955.1h1V955.1h1V955.1h1V955.1h1V955.1h1V955.1h1V955.1h1V955.1h1V955.1h1V955.1h1V955.1h1V955.1h1V955.1h1V955.1h1V955.1h1V955.1h1V955.1h1V955.1h1V955.1h1V955.1h1V955.1h1V952.35h1V950.94h1V949.35h1V947.03h1V945.19h1V943.99h1V942.87h1V944.79h1V943.13h1V940.91h1V942.75h1V941.87h1V941.49h1V940.62h1V939.28h1V942.14h1V940.77h1V938.87h1V939.37h1V940.04h1V939.12h1V937.76h1V936.29h1V937.29h1V935.76h1V935.38h1V934.19h1V934.48h1V930.08h1V929.78h1V930.82h1V931.52h1V928.48h1V930.08h1V929.09h1V924.42h1V925.66h1V923.1h1V924.97h1V922.88h1V924.64h1V925.11h1V926.97h1V926.03h1V926.66h1V932.26h1V939.06h1V944.3h1V949.84h1V951.74h1V954.26h1V955.1h1V955.1h1V955.1h1V955.1h1V955.1h1V955.1h1V955.1h1V955.1h1V955.1h1V955.1h1V955.1h1V955.1h1V955.1h1" fill="none" stroke="#000" stroke-width="2.07" stroke-linejoin="miter"/>
</g>
<text x="149.4" y="888.3" font-size="12.7" class="l" textLength="33.6" lengthAdjust="spacing">100%</text>
<rect x="235.8" y="865.8" width="113.4" height="88.2" fill="#fff" stroke="#000" stroke-width="1.3"/>
<path d="M235.4 865.3V954.5H351.2" fill="none" stroke="#000" stroke-width="2.2"/>
<path d="M237 954v5.4M258.86 954v5.4M280.72 954v5.4M302.58 954v5.4M324.44 954v5.4M346.3 954v5.4" stroke="#000" stroke-width="1.3" fill="none"/>
<path d="M237 954v3.9M240.5 954v3.9M244 954v3.9M247.49 954v3.9M250.99 954v3.9M254.49 954v3.9M257.99 954v3.9M261.48 954v3.9M264.98 954v3.9M268.48 954v3.9M271.98 954v3.9M275.47 954v3.9M278.97 954v3.9M282.47 954v3.9M285.97 954v3.9M289.46 954v3.9M292.96 954v3.9M296.46 954v3.9M299.96 954v3.9M303.45 954v3.9M306.95 954v3.9M310.45 954v3.9M313.95 954v3.9M317.44 954v3.9M320.94 954v3.9M324.44 954v3.9M327.94 954v3.9M331.44 954v3.9M334.93 954v3.9M338.43 954v3.9M341.93 954v3.9M345.43 954v3.9M348.92 954v3.9" stroke="#000" stroke-width="1.5" fill="none"/>
<path d="M235.8 954h-5.4M235.8 936.56h-5.4M235.8 919.12h-5.4M235.8 901.68h-5.4M235.8 884.24h-5.4M235.8 866.8h-5.4" stroke="#000" stroke-width="1.2" fill="none"/>
<path d="M235.8 951.82h-3.3M235.8 949.64h-3.3M235.8 947.46h-3.3M235.8 945.28h-3.3M235.8 943.1h-3.3M235.8 940.92h-3.3M235.8 938.74h-3.3M235.8 934.38h-3.3M235.8 932.2h-3.3M235.8 930.02h-3.3M235.8 927.84h-3.3M235.8 925.66h-3.3M235.8 923.48h-3.3M235.8 921.3h-3.3M235.8 916.94h-3.3M235.8 914.76h-3.3M235.8 912.58h-3.3M235.8 910.4h-3.3M235.8 908.22h-3.3M235.8 906.04h-3.3M235.8 903.86h-3.3M235.8 899.5h-3.3M235.8 897.32h-3.3M235.8 895.14h-3.3M235.8 892.96h-3.3M235.8 890.78h-3.3M235.8 888.6h-3.3M235.8 886.42h-3.3M235.8 882.06h-3.3M235.8 879.88h-3.3M235.8 877.7h-3.3M235.8 875.52h-3.3M235.8 873.34h-3.3M235.8 871.16h-3.3M235.8 868.98h-3.3" stroke="#000" stroke-width="1.0" fill="none"/>
<text x="237" y="963.7" class="t">0</text>
<text x="258.86" y="963.7" class="t">200</text>
<text x="280.72" y="963.7" class="t">400</text>
<text x="302.58" y="963.7" class="t">600</text>
<text x="324.44" y="963.7" class="t">800</text>
<text x="346.3" y="963.7" class="t">1000</text>
<text x="293.5" y="970" class="u">FL1-H</text>
<text transform="translate(229.3 951.8) rotate(-90)" class="t">0</text>
<text transform="translate(229.3 934.36) rotate(-90)" class="t">20</text>
<text transform="translate(229.3 916.92) rotate(-90)" class="t">40</text>
<text transform="translate(229.3 899.48) rotate(-90)" class="t">60</text>
<text transform="translate(229.3 882.04) rotate(-90)" class="t">80</text>
<text transform="translate(229.3 864.6) rotate(-90)" class="t">100</text>
<text transform="translate(222.4 910.9) rotate(-90)" class="u">Counts</text>
<clipPath id="c16"><rect x="235.8" y="865.8" width="114.4" height="88.8"/></clipPath>
<g clip-path="url(#c16)">
<path d="M235.8 954V940.94h1V943.46h1V948.8h1V948.73h1V949.24h1V949.67h1V950.31h1V950.95h1V945.19h1V940.13h1V933.52h1V929.7h1V923.28h1V918.04h1V913.83h1V914.51h1V911.22h1V907.72h1V910.34h1V910.03h1V910.37h1V905.69h1V906.5h1V903.38h1V900.48h1V901.46h1V905.97h1V905.07h1V908.33h1V918.51h1V927.04h1V934.07h1V938.93h1V946.3h1V947.69h1V947.65h1V947.46h1V947.78h1V948.61h1V948.05h1V948.82h1V949.16h1V950.31h1V950.35h1V951.13h1V952.26h1V953.39h1V954h1V954h1V954h1V954h1V954h1V954h1V954h1V954h1V954h1V954h1V954h1V954h1V954h1V954h1V954h1V954h1V954h1V954h1V954h1V954h1V954h1V954h1V954h1V954h1V954h1V954h1V954h1V954h1V954h1V954h1V954h1V954h1V954h1V954h1V954h1V954h1V954h1V954h1V954h1V954h1V954h1V954h1V954h1V954h1V954h1V954h1V954h1V954h1V954h1V954h1V954h1V954h1V954h1V954h1V954h1V954h1V954h1V954h1V954h1V954h1V954h1V954h1V954h1V954h1V954h1V954h1V954Z" fill="#000"/>
<path d="M235.8 954h1V954h1V954h1V954h1V954h1V954h1V954h1V954h1V954h1V954h1V954h1V954h1V954h1V954h1V954h1V954h1V954h1V954h1V954h1V954h1V954h1V954h1V954h1V954h1V954h1V954h1V954h1V954h1V954h1V954h1V954h1V954h1V954h1V954h1V954h1V954h1V954h1V954h1V954h1V954h1V954h1V954h1V954h1V950.33h1V950.35h1V948.59h1V947.06h1V946.23h1V946.03h1V943.86h1V943.5h1V942.46h1V942.85h1V940.71h1V938.92h1V936.7h1V934.25h1V931.61h1V931.87h1V930.14h1V928.51h1V923.32h1V925.33h1V922.45h1V920.03h1V918.54h1V917.95h1V920.5h1V918.2h1V919.4h1V917.43h1V919.9h1V922.67h1V927.08h1V927.94h1V930.83h1V932.61h1V936.15h1V937.67h1V939.27h1V939.37h1V939.82h1V941.7h1V943.37h1V943.56h1V944.01h1V944.51h1V945.94h1V946.32h1V948.33h1V949.39h1V950.39h1V952h1V953.33h1V954h1V954h1V954h1V954h1V954h1V954h1V954h1V954h1V954h1V954h1V954h1V954h1V954h1V954h1V954h1V954h1V954h1V954h1V954h1" fill="none" stroke="#000" stroke-width="2.07" stroke-linejoin="miter"/>
<path d="M235.8 954h1V954h1V954h1V954h1V954h1V954h1V954h1V954h1V954h1V954h1V954h1V954h1V954h1V954h1V954h1V954h1V954h1V954h1V954h1V954h1V954h1V954h1V954h1V954h1V954h1V954h1V954h1V954h1V954h1V954h1V954h1V954h1V954h1V954h1V954h1V954h1V954h1V954h1V954h1V954h1V954h1V954h1V954h1V954h1V954h1V954h1V954h1V954h1V950.51h1V950.7h1V949.49h1V947.78h1V947.85h1V947.03h1V946.51h1V945.08h1V942.96h1V943.8h1V942.91h1V941.64h1V937.65h1V939.25h1V939.29h1V936.54h1V934.67h1V934.19h1V932.94h1V931.66h1V930.17h1V930.49h1V925.61h1V924.9h1V926.54h1V933.79h1V933.74h1V937.23h1V936.96h1V938.82h1V940.5h1V942.81h1V943.44h1V943.66h1V945.48h1V945.02h1V946.85h1V947.61h1V948.58h1V949.69h1V950.87h1V951.67h1V952.76h1V953.69h1V954h1V954h1V954h1V954h1V954h1V954h1V954h1V954h1V954h1V954h1V954h1V954h1V954h1V954h1V954h1V954h1V954h1V954h1V954h1V954h1V954h1" fill="none" stroke="#000" stroke-width="2.07" stroke-linejoin="miter"/>
</g>
<text x="302.7" y="886.5" font-size="12.7" class="l" textLength="34" lengthAdjust="spacing">100%</text>
<rect x="396.7" y="865.4" width="114.9" height="89" fill="#fff" stroke="#000" stroke-width="1.3"/>
<path d="M396.3 864.9V954.9H513.6" fill="none" stroke="#000" stroke-width="2.2"/>
<path d="M397.9 954.4v5.4M420.06 954.4v5.4M442.22 954.4v5.4M464.38 954.4v5.4M486.54 954.4v5.4M508.7 954.4v5.4" stroke="#000" stroke-width="1.3" fill="none"/>
<path d="M397.9 954.4v3.9M401.45 954.4v3.9M404.99 954.4v3.9M408.54 954.4v3.9M412.08 954.4v3.9M415.63 954.4v3.9M419.17 954.4v3.9M422.72 954.4v3.9M426.26 954.4v3.9M429.81 954.4v3.9M433.36 954.4v3.9M436.9 954.4v3.9M440.45 954.4v3.9M443.99 954.4v3.9M447.54 954.4v3.9M451.08 954.4v3.9M454.63 954.4v3.9M458.18 954.4v3.9M461.72 954.4v3.9M465.27 954.4v3.9M468.81 954.4v3.9M472.36 954.4v3.9M475.9 954.4v3.9M479.45 954.4v3.9M482.99 954.4v3.9M486.54 954.4v3.9M490.09 954.4v3.9M493.63 954.4v3.9M497.18 954.4v3.9M500.72 954.4v3.9M504.27 954.4v3.9M507.81 954.4v3.9M511.36 954.4v3.9" stroke="#000" stroke-width="1.5" fill="none"/>
<path d="M396.7 954.4h-5.4M396.7 936.8h-5.4M396.7 919.2h-5.4M396.7 901.6h-5.4M396.7 884h-5.4M396.7 866.4h-5.4" stroke="#000" stroke-width="1.2" fill="none"/>
<path d="M396.7 952.2h-3.3M396.7 950h-3.3M396.7 947.8h-3.3M396.7 945.6h-3.3M396.7 943.4h-3.3M396.7 941.2h-3.3M396.7 939h-3.3M396.7 934.6h-3.3M396.7 932.4h-3.3M396.7 930.2h-3.3M396.7 928h-3.3M396.7 925.8h-3.3M396.7 923.6h-3.3M396.7 921.4h-3.3M396.7 917h-3.3M396.7 914.8h-3.3M396.7 912.6h-3.3M396.7 910.4h-3.3M396.7 908.2h-3.3M396.7 906h-3.3M396.7 903.8h-3.3M396.7 899.4h-3.3M396.7 897.2h-3.3M396.7 895h-3.3M396.7 892.8h-3.3M396.7 890.6h-3.3M396.7 888.4h-3.3M396.7 886.2h-3.3M396.7 881.8h-3.3M396.7 879.6h-3.3M396.7 877.4h-3.3M396.7 875.2h-3.3M396.7 873h-3.3M396.7 870.8h-3.3M396.7 868.6h-3.3" stroke="#000" stroke-width="1.0" fill="none"/>
<text x="397.9" y="964.1" class="t">0</text>
<text x="420.06" y="964.1" class="t">200</text>
<text x="442.22" y="964.1" class="t">400</text>
<text x="464.38" y="964.1" class="t">600</text>
<text x="486.54" y="964.1" class="t">800</text>
<text x="508.7" y="964.1" class="t">1000</text>
<text x="455.15" y="970.4" class="u">FL2-H</text>
<text transform="translate(390.2 952.2) rotate(-90)" class="t">0</text>
<text transform="translate(390.2 934.6) rotate(-90)" class="t">20</text>
<text transform="translate(390.2 917) rotate(-90)" class="t">40</text>
<text transform="translate(390.2 899.4) rotate(-90)" class="t">60</text>
<text transform="translate(390.2 881.8) rotate(-90)" class="t">80</text>
<text transform="translate(390.2 864.2) rotate(-90)" class="t">100</text>
<text transform="translate(383.3 910.9) rotate(-90)" class="u">Counts</text>
<clipPath id="c17"><rect x="396.7" y="865.4" width="115.9" height="89.6"/></clipPath>
<g clip-path="url(#c17)">
<path d="M396.7 954.4V875.09h1V866.25h1V879.18h1V882.45h1V878.83h1V885.29h1V885.68h1V873.19h1V888.53h1V867.42h1V876.11h1V882.01h1V879.14h1V892.26h1V887.7h1V877.93h1V901.24h1V886.49h1V892.28h1V894.52h1V895.76h1V908.13h1V910.42h1V909.97h1V921.65h1V922.64h1V925.17h1V927.26h1V933.13h1V932.48h1V936.3h1V939.05h1V940.34h1V938.93h1V941.34h1V941.59h1V943.19h1V941.37h1V944.04h1V945.62h1V945.41h1V944.92h1V946.04h1V946.18h1V946.45h1V947.43h1V948.29h1V948.3h1V948.63h1V949.8h1V950.1h1V949.9h1V950.86h1V951.21h1V951.1h1V952.07h1V952.39h1V952.98h1V953.35h1V953.83h1V954.2h1V954.4h1V954.4h1V954.4h1V954.4h1V954.4h1V954.4h1V954.4h1V954.4h1V954.4h1V954.4h1V954.4h1V954.4h1V954.4h1V954.4h1V954.4h1V954.4h1V954.4h1V954.4h1V954.4h1V954.4h1V954.4h1V954.4h1V954.4h1V954.4h1V954.4h1V954.4h1V954.4h1V954.4h1V954.4h1V954.4h1V954.4h1V954.4h1V954.4h1V954.4h1V954.4h1V954.4h1V954.4h1V954.4h1V954.4h1V954.4h1V954.4h1V954.4h1V954.4h1V954.4h1V954.4h1V954.4h1V954.4h1V954.4h1V954.4h1V954.4h1V954.4h1V954.4h1V954.4h1V954.4Z" fill="#000"/>
<path d="M396.7 954.4h1V954.4h1V954.4h1V954.4h1V954.4h1V954.4h1V954.4h1V954.4h1V954.4h1V954.4h1V954.4h1V954.4h1V954.4h1V954.4h1V954.4h1V954.4h1V954.4h1V954.4h1V954.4h1V954.4h1V954.4h1V910.78h1V910.89h1V911.61h1V917.75h1V913.08h1V907.53h1V915.03h1V905.75h1V913.01h1V916.78h1V915.28h1V918.61h1V913.51h1V917.63h1V919.78h1V915.19h1V914.08h1V926.41h1V922.36h1V928.89h1V923.06h1V925.01h1V927.65h1V927.12h1V928.52h1V930.71h1V933.07h1V928.71h1V924.96h1V924.27h1V923.51h1V929.15h1V925.4h1V928h1V935.74h1V936.53h1V938.82h1V939.86h1V942.37h1V942.23h1V939.33h1V940.3h1V937.45h1V934.81h1V936.54h1V935.14h1V935.92h1V936.21h1V929.52h1V928.43h1V929.93h1V924.62h1V929.23h1V923.56h1V927.86h1V929.91h1V931.54h1V931.87h1V929.59h1V926.09h1V927.54h1V920.31h1V914.5h1V912.7h1V912.58h1V902.58h1V907.6h1V903.26h1V908.03h1V909.17h1V917.86h1V915.71h1V916.4h1V920.88h1V924.93h1V931.83h1V932.7h1V937.09h1V942.79h1V947.65h1V948.39h1V950.96h1V952.13h1V952.41h1V953.32h1V953.56h1V954.4h1V954.4h1V954.4h1V954.4h1V954.4h1V954.4h1V954.4h1" fill="none" stroke="#000" stroke-width="2.44" stroke-linejoin="miter"/>
<path d="M396.7 954.4h1V954.4h1V954.4h1V954.4h1V954.4h1V954.4h1V954.4h1V954.4h1V954.4h1V954.4h1V954.4h1V954.4h1V954.4h1V954.4h1V954.4h1V954.4h1V954.4h1V954.4h1V954.4h1V954.4h1V954.4h1V954.4h1V954.4h1V954.4h1V954.4h1V954.4h1V954.4h1V954.4h1V954.4h1V954.4h1V954.4h1V954.4h1V954.4h1V954.4h1V954.4h1V954.4h1V954.4h1V954.4h1V954.4h1V954.4h1V954.4h1V954.4h1V954.4h1V954.4h1V954.4h1V954.4h1V954.4h1V954.4h1V954.4h1V954.4h1V954.4h1V953.26h1V950.29h1V950.72h1V948.97h1V947.78h1V945.98h1V944.39h1V945.69h1V943.86h1V940.58h1V941.56h1V942.29h1V939.19h1V939.13h1V937.46h1V937.18h1V935.96h1V936.25h1V934.47h1V932.98h1V933.04h1V934.82h1V927.65h1V935.5h1V931.57h1V934.99h1V927.72h1V929.05h1V932.89h1V931.76h1V928.78h1V925.33h1V923.67h1V921.2h1V913.97h1V913.05h1V913.49h1V911.22h1V908.35h1V916.3h1V916.9h1V923.47h1V926.77h1V929.13h1V932.88h1V939.97h1V943.37h1V948.24h1V951.68h1V953.86h1V954.4h1V954.4h1V954.4h1V954.4h1V954.4h1V954.4h1V954.4h1V954.4h1V954.4h1V954.4h1V954.4h1V954.4h1V954.4h1" fill="none" stroke="#000" stroke-width="2.44" stroke-linejoin="miter"/>
</g>
<text x="470.4" y="886.2" font-size="12.7" class="l" textLength="26.3" lengthAdjust="spacing">80%</text>
<rect x="85.2" y="993.7" width="106.7" height="95.05" fill="#fff" stroke="#000" stroke-width="1.3"/>
<path d="M84.8 993.2V1089.25H193.9" fill="none" stroke="#000" stroke-width="2.2"/>
<path d="M86.4 1088.75v5.4M106.92 1088.75v5.4M127.44 1088.75v5.4M147.96 1088.75v5.4M168.48 1088.75v5.4M189 1088.75v5.4" stroke="#000" stroke-width="1.3" fill="none"/>
<path d="M86.4 1088.75v3.9M89.68 1088.75v3.9M92.97 1088.75v3.9M96.25 1088.75v3.9M99.53 1088.75v3.9M102.82 1088.75v3.9M106.1 1088.75v3.9M109.38 1088.75v3.9M112.67 1088.75v3.9M115.95 1088.75v3.9M119.23 1088.75v3.9M122.52 1088.75v3.9M125.8 1088.75v3.9M129.08 1088.75v3.9M132.36 1088.75v3.9M135.65 1088.75v3.9M138.93 1088.75v3.9M142.21 1088.75v3.9M145.5 1088.75v3.9M148.78 1088.75v3.9M152.06 1088.75v3.9M155.35 1088.75v3.9M158.63 1088.75v3.9M161.91 1088.75v3.9M165.2 1088.75v3.9M168.48 1088.75v3.9M171.76 1088.75v3.9M175.05 1088.75v3.9M178.33 1088.75v3.9M181.61 1088.75v3.9M184.9 1088.75v3.9M188.18 1088.75v3.9M191.46 1088.75v3.9" stroke="#000" stroke-width="1.5" fill="none"/>
<path d="M85.2 1088.75h-5.4M85.2 1069.94h-5.4M85.2 1051.13h-5.4M85.2 1032.32h-5.4M85.2 1013.51h-5.4M85.2 994.7h-5.4" stroke="#000" stroke-width="1.2" fill="none"/>
<path d="M85.2 1086.4h-3.3M85.2 1084.05h-3.3M85.2 1081.7h-3.3M85.2 1079.35h-3.3M85.2 1076.99h-3.3M85.2 1074.64h-3.3M85.2 1072.29h-3.3M85.2 1067.59h-3.3M85.2 1065.24h-3.3M85.2 1062.89h-3.3M85.2 1060.54h-3.3M85.2 1058.18h-3.3M85.2 1055.83h-3.3M85.2 1053.48h-3.3M85.2 1048.78h-3.3M85.2 1046.43h-3.3M85.2 1044.08h-3.3M85.2 1041.73h-3.3M85.2 1039.37h-3.3M85.2 1037.02h-3.3M85.2 1034.67h-3.3M85.2 1029.97h-3.3M85.2 1027.62h-3.3M85.2 1025.27h-3.3M85.2 1022.91h-3.3M85.2 1020.56h-3.3M85.2 1018.21h-3.3M85.2 1015.86h-3.3M85.2 1011.16h-3.3M85.2 1008.81h-3.3M85.2 1006.46h-3.3M85.2 1004.11h-3.3M85.2 1001.75h-3.3M85.2 999.4h-3.3M85.2 997.05h-3.3" stroke="#000" stroke-width="1.0" fill="none"/>
<text x="86.4" y="1098.45" class="t">0</text>
<text x="106.92" y="1098.45" class="t">200</text>
<text x="127.44" y="1098.45" class="t">400</text>
<text x="147.96" y="1098.45" class="t">600</text>
<text x="168.48" y="1098.45" class="t">800</text>
<text x="189" y="1098.45" class="t">1000</text>
<text x="139.55" y="1104.75" class="u">FL2-H</text>
<text transform="translate(78.7 1086.55) rotate(-90)" class="t">0</text>
<text transform="translate(78.7 1067.74) rotate(-90)" class="t">20</text>
<text transform="translate(78.7 1048.93) rotate(-90)" class="t">40</text>
<text transform="translate(78.7 1030.12) rotate(-90)" class="t">60</text>
<text transform="translate(78.7 1011.31) rotate(-90)" class="t">80</text>
<text transform="translate(78.7 992.5) rotate(-90)" class="t">100</text>
<text transform="translate(71.8 1042.22) rotate(-90)" class="u">Counts</text>
<clipPath id="c18"><rect x="85.2" y="993.7" width="107.7" height="95.65"/></clipPath>
<g clip-path="url(#c18)">
<path d="M85.2 1088.75V1083.13h1V1083.3h1V1082.14h1V1080.63h1V1077.08h1V1071.53h1V1066.1h1V1057.1h1V1051.28h1V1045.22h1V1036.39h1V1028.65h1V1027.9h1V1018.88h1V1021.78h1V1024.1h1V1029h1V1029.67h1V1029.4h1V1034.28h1V1042.99h1V1047.3h1V1055.38h1V1061.91h1V1064.17h1V1070.73h1V1074.08h1V1078.16h1V1079.8h1V1081h1V1082.74h1V1082.67h1V1085.06h1V1085.43h1V1085.98h1V1085.38h1V1086.11h1V1086.49h1V1086.82h1V1087.13h1V1087.38h1V1087.85h1V1087.92h1V1088.51h1V1088.75h1V1088.75h1V1088.75h1V1088.75h1V1088.75h1V1088.75h1V1088.75h1V1088.75h1V1088.75h1V1088.75h1V1088.75h1V1088.75h1V1088.75h1V1088.75h1V1088.75h1V1088.75h1V1088.75h1V1088.75h1V1088.75h1V1088.75h1V1088.75h1V1088.75h1V1088.75h1V1088.75h1V1088.75h1V1088.75h1V1088.75h1V1088.75h1V1088.75h1V1088.75h1V1088.75h1V1088.75h1V1088.75h1V1088.75h1V1088.75h1V1088.75h1V1088.75h1V1088.75h1V1088.75h1V1088.75h1V1088.75h1V1088.75h1V1088.75h1V1088.75h1V1088.75h1V1088.75h1V1088.75h1V1088.75h1V1088.75h1V1088.75h1V1088.75h1V1088.75h1V1088.75h1V1088.75h1V1088.75h1V1088.75h1V1088.75h1V1088.75h1V1088.75h1V1088.75h1V1088.75h1V1088.75h1V1088.75Z" fill="#000"/>
<path d="M85.2 1088.75h1V1088.75h1V1088.75h1V1088.75h1V1088.75h1V1088.75h1V1088.75h1V1088.75h1V1088.75h1V1088.75h1V1088.75h1V1088.75h1V1088.75h1V1088.75h1V1088.75h1V1088.75h1V1088.75h1V1088.75h1V1088.75h1V1088.75h1V1088.75h1V1088.75h1V1088.75h1V1088.75h1V1088.75h1V1088.75h1V1088.75h1V1076.06h1V1074.46h1V1071.3h1V1071.44h1V1070.49h1V1068.51h1V1067.17h1V1066.28h1V1064.56h1V1062.39h1V1057.43h1V1053.61h1V1050.21h1V1050.03h1V1046.92h1V1046.56h1V1042.34h1V1041.34h1V1037.65h1V1042.3h1V1039.09h1V1040.67h1V1040.57h1V1036.96h1V1043.35h1V1047.26h1V1046.37h1V1046.72h1V1052.59h1V1058.25h1V1062.53h1V1068.25h1V1069.5h1V1074.09h1V1077.42h1V1080.79h1V1082.99h1V1083.77h1V1084.25h1V1086.37h1V1087.41h1V1088.03h1V1088.54h1V1088.75h1V1088.75h1V1088.75h1V1088.75h1V1088.75h1V1088.75h1V1088.75h1V1088.75h1V1088.75h1V1088.75h1V1088.75h1V1088.75h1V1088.75h1V1088.75h1V1088.75h1V1088.75h1V1088.75h1V1088.75h1V1088.75h1V1088.75h1V1088.75h1V1088.75h1V1088.75h1V1088.75h1V1088.75h1V1088.75h1V1088.75h1V1088.75h1V1088.75h1V1088.75h1V1088.75h1V1088.75h1V1088.75h1V1088.75h1V1088.75h1V1088.75h1" fill="none" stroke="#000" stroke-width="2.07" stroke-linejoin="miter"/>
<path d="M85.2 1088.75h1V1088.75h1V1088.75h1V1088.75h1V1088.75h1V1088.75h1V1088.75h1V1088.75h1V1088.75h1V1088.75h1V1088.75h1V1088.75h1V1088.75h1V1088.75h1V1088.75h1V1088.75h1V1088.75h1V1088.75h1V1088.75h1V1088.75h1V1088.75h1V1088.75h1V1088.75h1V1088.75h1V1088.75h1V1088.75h1V1088.75h1V1088.75h1V1078.82h1V1077.74h1V1075.31h1V1074.67h1V1072.88h1V1071.28h1V1068.78h1V1065.7h1V1062.13h1V1059.89h1V1057.74h1V1052.34h1V1049.01h1V1047.12h1V1044.71h1V1038.74h1V1037.45h1V1037.38h1V1040.61h1V1043.92h1V1044.27h1V1048.81h1V1052.92h1V1053.54h1V1061.22h1V1065.38h1V1068.9h1V1073.02h1V1076.88h1V1079.02h1V1082.75h1V1084.22h1V1085.89h1V1087.1h1V1088.53h1V1088.75h1V1088.75h1V1088.75h1V1088.75h1V1088.75h1V1088.75h1V1088.75h1V1088.75h1V1088.75h1V1088.75h1V1088.75h1V1088.75h1V1088.75h1V1088.75h1V1088.75h1V1088.75h1V1088.75h1V1088.75h1V1088.75h1V1088.75h1V1088.75h1V1088.75h1V1088.75h1V1088.75h1V1088.75h1V1088.75h1V1088.75h1V1088.75h1V1088.75h1V1088.75h1V1088.75h1V1088.75h1V1088.75h1V1088.75h1V1088.75h1V1088.75h1V1088.75h1V1088.75h1V1088.75h1V1088.75h1V1088.75h1V1088.75h1V1088.75h1" fill="none" stroke="#000" stroke-width="2.07" stroke-linejoin="miter"/>
</g>
<text x="153.7" y="1016.6" font-size="12.7" class="l" textLength="26.9" lengthAdjust="spacing">94%</text>
<rect x="236.2" y="993.1" width="114.1" height="93.65" fill="#fff" stroke="#000" stroke-width="1.3"/>
<path d="M235.8 992.6V1087.25H352.3" fill="none" stroke="#000" stroke-width="2.2"/>
<path d="M237.4 1086.75v5.4M259.4 1086.75v5.4M281.4 1086.75v5.4M303.4 1086.75v5.4M325.4 1086.75v5.4M347.4 1086.75v5.4" stroke="#000" stroke-width="1.3" fill="none"/>
<path d="M237.4 1086.75v3.9M240.92 1086.75v3.9M244.44 1086.75v3.9M247.96 1086.75v3.9M251.48 1086.75v3.9M255 1086.75v3.9M258.52 1086.75v3.9M262.04 1086.75v3.9M265.56 1086.75v3.9M269.08 1086.75v3.9M272.6 1086.75v3.9M276.12 1086.75v3.9M279.64 1086.75v3.9M283.16 1086.75v3.9M286.68 1086.75v3.9M290.2 1086.75v3.9M293.72 1086.75v3.9M297.24 1086.75v3.9M300.76 1086.75v3.9M304.28 1086.75v3.9M307.8 1086.75v3.9M311.32 1086.75v3.9M314.84 1086.75v3.9M318.36 1086.75v3.9M321.88 1086.75v3.9M325.4 1086.75v3.9M328.92 1086.75v3.9M332.44 1086.75v3.9M335.96 1086.75v3.9M339.48 1086.75v3.9M343 1086.75v3.9M346.52 1086.75v3.9M350.04 1086.75v3.9" stroke="#000" stroke-width="1.5" fill="none"/>
<path d="M236.2 1086.75h-5.4M236.2 1068.22h-5.4M236.2 1049.69h-5.4M236.2 1031.16h-5.4M236.2 1012.63h-5.4M236.2 994.1h-5.4" stroke="#000" stroke-width="1.2" fill="none"/>
<path d="M236.2 1084.43h-3.3M236.2 1082.12h-3.3M236.2 1079.8h-3.3M236.2 1077.48h-3.3M236.2 1075.17h-3.3M236.2 1072.85h-3.3M236.2 1070.54h-3.3M236.2 1065.9h-3.3M236.2 1063.59h-3.3M236.2 1061.27h-3.3M236.2 1058.95h-3.3M236.2 1056.64h-3.3M236.2 1054.32h-3.3M236.2 1052.01h-3.3M236.2 1047.37h-3.3M236.2 1045.06h-3.3M236.2 1042.74h-3.3M236.2 1040.42h-3.3M236.2 1038.11h-3.3M236.2 1035.79h-3.3M236.2 1033.48h-3.3M236.2 1028.84h-3.3M236.2 1026.53h-3.3M236.2 1024.21h-3.3M236.2 1021.9h-3.3M236.2 1019.58h-3.3M236.2 1017.26h-3.3M236.2 1014.95h-3.3M236.2 1010.31h-3.3M236.2 1008h-3.3M236.2 1005.68h-3.3M236.2 1003.37h-3.3M236.2 1001.05h-3.3M236.2 998.73h-3.3M236.2 996.42h-3.3" stroke="#000" stroke-width="1.0" fill="none"/>
<text x="237.4" y="1096.45" class="t">0</text>
<text x="259.4" y="1096.45" class="t">200</text>
<text x="281.4" y="1096.45" class="t">400</text>
<text x="303.4" y="1096.45" class="t">600</text>
<text x="325.4" y="1096.45" class="t">800</text>
<text x="347.4" y="1096.45" class="t">1000</text>
<text x="294.25" y="1102.75" class="u">FL2-H</text>
<text transform="translate(229.7 1084.55) rotate(-90)" class="t">0</text>
<text transform="translate(229.7 1066.02) rotate(-90)" class="t">20</text>
<text transform="translate(229.7 1047.49) rotate(-90)" class="t">40</text>
<text transform="translate(229.7 1028.96) rotate(-90)" class="t">60</text>
<text transform="translate(229.7 1010.43) rotate(-90)" class="t">80</text>
<text transform="translate(229.7 991.9) rotate(-90)" class="t">100</text>
<text transform="translate(222.8 1040.92) rotate(-90)" class="u">Counts</text>
<clipPath id="c19"><rect x="236.2" y="993.1" width="115.1" height="94.25"/></clipPath>
<g clip-path="url(#c19)">
<path d="M236.2 1086.75V1032.73h1V1036.51h1V1055.18h1V1075.43h1V1075.33h1V1075.49h1V1066.89h1V1059.82h1V1051.41h1V1042.13h1V1036.57h1V1024.82h1V1012.94h1V1009.75h1V1018.16h1V1019.47h1V1025.19h1V1028.23h1V1032.59h1V1035.2h1V1039.74h1V1044.49h1V1051.33h1V1054.16h1V1062.35h1V1066.43h1V1072.8h1V1075.36h1V1078h1V1081.37h1V1082.43h1V1083.72h1V1084.09h1V1084.83h1V1085.61h1V1085.67h1V1086.01h1V1086.18h1V1086.47h1V1086.72h1V1086.75h1V1086.75h1V1086.75h1V1086.75h1V1086.75h1V1086.75h1V1086.75h1V1086.75h1V1086.75h1V1086.75h1V1086.75h1V1086.75h1V1086.75h1V1086.75h1V1086.75h1V1086.75h1V1086.75h1V1086.75h1V1086.75h1V1086.75h1V1086.75h1V1086.75h1V1086.75h1V1086.75h1V1086.75h1V1086.75h1V1086.75h1V1086.75h1V1086.75h1V1086.75h1V1086.75h1V1086.75h1V1086.75h1V1086.75h1V1086.75h1V1086.75h1V1086.75h1V1086.75h1V1086.75h1V1086.75h1V1086.75h1V1086.75h1V1086.75h1V1086.75h1V1086.75h1V1086.75h1V1086.75h1V1086.75h1V1086.75h1V1086.75h1V1086.75h1V1086.75h1V1086.75h1V1086.75h1V1086.75h1V1086.75h1V1086.75h1V1086.75h1V1086.75h1V1086.75h1V1086.75h1V1086.75h1V1086.75h1V1086.75h1V1086.75h1V1086.75h1V1086.75h1V1086.75h1V1086.75h1V1086.75h1V1086.75h1V1086.75h1V1086.75h1V1086.75Z" fill="#000"/>
<path d="M236.2 1086.75h1V1086.75h1V1086.75h1V1086.75h1V1086.75h1V1086.75h1V1086.75h1V1086.75h1V1086.75h1V1086.75h1V1086.75h1V1086.75h1V1086.75h1V1086.75h1V1086.75h1V1086.75h1V1086.75h1V1086.75h1V1086.75h1V1086.75h1V1049.27h1V1048.12h1V1050.32h1V1053.37h1V1050.36h1V1052.62h1V1048.59h1V1054.98h1V1052.53h1V1062.21h1V1058.73h1V1058.22h1V1063.04h1V1062.49h1V1065.28h1V1067.25h1V1068.36h1V1072.3h1V1073.32h1V1072.81h1V1074.71h1V1073.64h1V1074.93h1V1075.5h1V1076.18h1V1077.06h1V1076.76h1V1077.91h1V1077.22h1V1078.7h1V1078.52h1V1078.96h1V1079.47h1V1079.97h1V1079.66h1V1081.29h1V1081.24h1V1083.22h1V1083.82h1V1084.03h1V1084.51h1V1084.38h1V1084.93h1V1085.07h1V1085.64h1V1085.5h1V1085.76h1V1085.54h1V1085.75h1V1085.5h1V1085.5h1V1085.53h1V1085.71h1V1085.61h1V1085.5h1V1085.8h1V1085.7h1V1085.61h1V1085.61h1V1085.79h1V1085.52h1V1085.6h1V1085.75h1V1085.82h1V1085.54h1V1085.65h1V1085.87h1V1085.58h1V1085.84h1V1085.68h1V1085.69h1V1085.73h1V1086.13h1V1085.72h1V1085.66h1V1085.5h1V1085.72h1V1086.08h1V1085.78h1V1085.6h1V1085.88h1V1085.73h1V1085.42h1V1085.68h1V1085.58h1V1085.82h1V1085.84h1V1085.71h1V1085.61h1V1085.65h1V1085.74h1V1085.82h1V1085.72h1" fill="none" stroke="#000" stroke-width="2.44" stroke-linejoin="miter"/>
</g>
<text x="308.3" y="1016.9" font-size="12.7" class="l" textLength="26.3" lengthAdjust="spacing">70%</text>
<rect x="396.8" y="993.1" width="115.8" height="89.65" fill="#fff" stroke="#000" stroke-width="1.3"/>
<path d="M396.4 992.6V1083.25H514.6" fill="none" stroke="#000" stroke-width="2.2"/>
<path d="M398 1082.75v5.4M419.92 1082.75v5.4M441.84 1082.75v5.4M463.76 1082.75v5.4M485.68 1082.75v5.4M507.6 1082.75v5.4" stroke="#000" stroke-width="1.3" fill="none"/>
<path d="M398 1082.75v3.9M401.51 1082.75v3.9M405.01 1082.75v3.9M408.52 1082.75v3.9M412.03 1082.75v3.9M415.54 1082.75v3.9M419.04 1082.75v3.9M422.55 1082.75v3.9M426.06 1082.75v3.9M429.56 1082.75v3.9M433.07 1082.75v3.9M436.58 1082.75v3.9M440.09 1082.75v3.9M443.59 1082.75v3.9M447.1 1082.75v3.9M450.61 1082.75v3.9M454.12 1082.75v3.9M457.62 1082.75v3.9M461.13 1082.75v3.9M464.64 1082.75v3.9M468.14 1082.75v3.9M471.65 1082.75v3.9M475.16 1082.75v3.9M478.67 1082.75v3.9M482.17 1082.75v3.9M485.68 1082.75v3.9M489.19 1082.75v3.9M492.69 1082.75v3.9M496.2 1082.75v3.9M499.71 1082.75v3.9M503.22 1082.75v3.9M506.72 1082.75v3.9M510.23 1082.75v3.9" stroke="#000" stroke-width="1.5" fill="none"/>
<path d="M396.8 1082.75h-5.4M396.8 1067.97h-5.4M396.8 1053.2h-5.4M396.8 1038.42h-5.4M396.8 1023.65h-5.4M396.8 1008.88h-5.4M396.8 994.1h-5.4" stroke="#000" stroke-width="1.2" fill="none"/>
<path d="M396.8 1080.29h-3.3M396.8 1077.83h-3.3M396.8 1075.36h-3.3M396.8 1072.9h-3.3M396.8 1070.44h-3.3M396.8 1065.51h-3.3M396.8 1063.05h-3.3M396.8 1060.59h-3.3M396.8 1058.12h-3.3M396.8 1055.66h-3.3M396.8 1050.74h-3.3M396.8 1048.28h-3.3M396.8 1045.81h-3.3M396.8 1043.35h-3.3M396.8 1040.89h-3.3M396.8 1035.96h-3.3M396.8 1033.5h-3.3M396.8 1031.04h-3.3M396.8 1028.58h-3.3M396.8 1026.11h-3.3M396.8 1021.19h-3.3M396.8 1018.73h-3.3M396.8 1016.26h-3.3M396.8 1013.8h-3.3M396.8 1011.34h-3.3M396.8 1006.41h-3.3M396.8 1003.95h-3.3M396.8 1001.49h-3.3M396.8 999.02h-3.3M396.8 996.56h-3.3" stroke="#000" stroke-width="1.0" fill="none"/>
<text x="398" y="1092.45" class="t">0</text>
<text x="419.92" y="1092.45" class="t">200</text>
<text x="441.84" y="1092.45" class="t">400</text>
<text x="463.76" y="1092.45" class="t">600</text>
<text x="485.68" y="1092.45" class="t">800</text>
<text x="507.6" y="1092.45" class="t">1000</text>
<text x="455.7" y="1098.75" class="u">FL2-H</text>
<text transform="translate(390.3 1080.55) rotate(-90)" class="t">0</text>
<text transform="translate(390.3 1065.77) rotate(-90)" class="t">10</text>
<text transform="translate(390.3 1051) rotate(-90)" class="t">20</text>
<text transform="translate(390.3 1036.22) rotate(-90)" class="t">30</text>
<text transform="translate(390.3 1021.45) rotate(-90)" class="t">40</text>
<text transform="translate(390.3 1006.67) rotate(-90)" class="t">50</text>
<text transform="translate(390.3 991.9) rotate(-90)" class="t">60</text>
<text transform="translate(383.4 1038.92) rotate(-90)" class="u">Counts</text>
<clipPath id="c20"><rect x="396.8" y="993.1" width="116.8" height="90.25"/></clipPath>
<g clip-path="url(#c20)">
<path d="M396.8 1082.75V1035.88h1V1054.59h1V1073.45h1V1073.48h1V1074.05h1V1074.31h1V1072.33h1V1071.35h1V1070.38h1V1069.41h1V1067.37h1V1062.59h1V1057.27h1V1053.64h1V1048.14h1V1044.64h1V1040.31h1V1034.3h1V1032.76h1V1029.75h1V1028.03h1V1021.25h1V1023.16h1V1015.44h1V1017.73h1V1009.85h1V1013.98h1V1015.71h1V1022.36h1V1029.4h1V1037.92h1V1037.37h1V1042.99h1V1048.76h1V1053.38h1V1058.67h1V1060.04h1V1064.53h1V1067.37h1V1069.5h1V1071.33h1V1073.82h1V1074.74h1V1075.69h1V1077.23h1V1078.88h1V1079.3h1V1080.26h1V1081.18h1V1081.94h1V1082.75h1V1082.75h1V1082.75h1V1082.75h1V1082.75h1V1082.75h1V1082.75h1V1082.75h1V1082.75h1V1082.75h1V1082.75h1V1082.75h1V1082.75h1V1082.75h1V1082.75h1V1082.75h1V1082.75h1V1082.75h1V1082.75h1V1082.75h1V1082.75h1V1082.75h1V1082.75h1V1082.75h1V1082.75h1V1082.75h1V1082.75h1V1082.75h1V1082.75h1V1082.75h1V1082.75h1V1082.75h1V1082.75h1V1082.75h1V1082.75h1V1082.75h1V1082.75h1V1082.75h1V1082.75h1V1082.75h1V1082.75h1V1082.75h1V1082.75h1V1082.75h1V1082.75h1V1082.75h1V1082.75h1V1082.75h1V1082.75h1V1082.75h1V1082.75h1V1082.75h1V1082.75h1V1082.75h1V1082.75h1V1082.75h1V1082.75h1V1082.75h1V1082.75h1V1082.75h1V1082.75h1V1082.75h1V1082.75h1V1082.75h1V1082.75h1V1082.75Z" fill="#000"/>
<path d="M396.8 1082.75h1V1082.75h1V1082.75h1V1082.75h1V1082.75h1V1082.75h1V1082.75h1V1082.75h1V1082.75h1V1082.75h1V1082.75h1V1082.75h1V1082.75h1V1082.75h1V1082.75h1V1082.75h1V1082.75h1V1082.75h1V1082.75h1V1082.75h1V1082.75h1V1082.75h1V1082.75h1V1082.75h1V1082.75h1V1082.75h1V1082.75h1V1082.75h1V1082.75h1V1082.75h1V1082.75h1V1082.75h1V1082.75h1V1082.75h1V1082.75h1V1082.75h1V1082.75h1V1071.26h1V1068.71h1V1067.2h1V1063.68h1V1063.94h1V1058.3h1V1057.13h1V1054.13h1V1049.72h1V1049.53h1V1045.14h1V1038.36h1V1035.38h1V1026.75h1V1037.92h1V1037.57h1V1026.58h1V1027.59h1V1017.99h1V1022.53h1V1033.11h1V1035.98h1V1035.96h1V1032.52h1V1037.98h1V1041.05h1V1044.87h1V1047.77h1V1050.65h1V1054.87h1V1056.13h1V1060.27h1V1062.87h1V1066.26h1V1068.18h1V1069.47h1V1071.96h1V1075.04h1V1076.5h1V1077.63h1V1078.79h1V1080.13h1V1080.86h1V1080.89h1V1081.08h1V1081.44h1V1081.97h1V1081.9h1V1081.94h1V1082.05h1V1082.1h1V1082.06h1V1082.11h1V1082.07h1V1081.86h1V1081.96h1V1081.93h1V1081.93h1V1081.99h1V1081.98h1V1081.82h1V1081.86h1V1081.85h1V1081.85h1V1081.93h1V1081.86h1V1082.14h1V1082.19h1V1081.77h1V1082.05h1V1081.97h1V1082.25h1V1082.03h1V1081.89h1V1081.87h1V1081.85h1V1082.21h1V1082.75h1" fill="none" stroke="#000" stroke-width="2.44" stroke-linejoin="miter"/>
</g>
<text x="474.4" y="1017.7" font-size="12.7" class="l" textLength="26.6" lengthAdjust="spacing">90%</text>
<text x="3.6" y="22.3" font-size="24.5" font-weight="bold" class="l" style="stroke-width:0.55px">A</text>
<text x="2.4" y="391.2" font-size="24.5" font-weight="bold" class="l" style="stroke-width:0.55px">B</text>
<text x="10" y="527.3" font-size="13" class="l">CD1a</text>
<text x="4" y="657" font-size="13" class="l">CD83</text>
<text x="5.8" y="784" font-size="13" class="l">CD86</text>
<text x="6" y="913" font-size="13" class="l">HLA-DR</text>
<text x="10" y="1035.7" font-size="13" class="l">CD80</text>
<text x="122" y="467.5" font-size="13" class="l">LPS</text>
<text x="285" y="466.8" font-size="13" class="l">TNF&#945;</text>
<text x="430" y="466.8" font-size="13" class="l">CD40L</text>
</svg>
</body>
</html>
